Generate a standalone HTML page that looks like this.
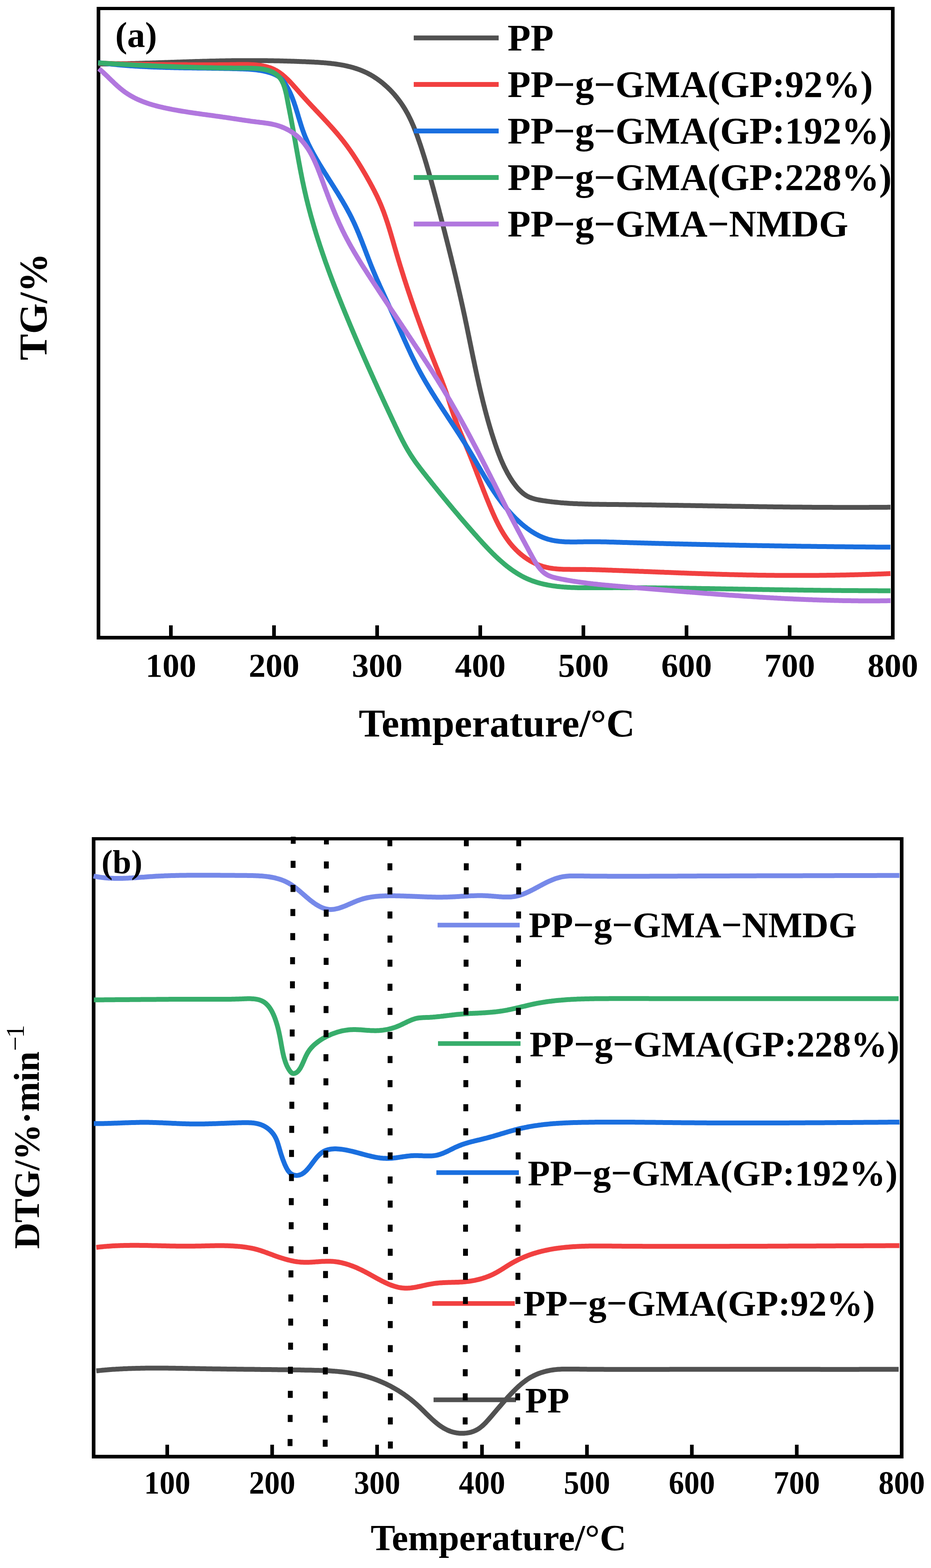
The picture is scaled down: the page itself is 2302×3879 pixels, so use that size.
<!DOCTYPE html>
<html><head><meta charset="utf-8"><title>TG and DTG curves</title>
<style>html,body{margin:0;padding:0;background:#fff;}svg{display:block;}</style></head><body>
<svg width="2302" height="3879" viewBox="0 0 2302 3879">
<rect x="0" y="0" width="2302" height="3879" fill="#fff"/>
<g id="chartA">
<rect x="239" y="17" width="1973" height="8" fill="#000"/>
<rect x="239" y="1573" width="1973" height="9" fill="#000"/>
<rect x="239" y="17" width="9" height="1565" fill="#000"/>
<rect x="2203" y="17" width="9" height="1565" fill="#000"/>
<path d="M243.2,158.3L246.2,158.3 249.2,158.3 252.1,158.3 255.1,158.3 258.1,158.3 261.1,158.2 264.1,158.2 267.1,158.2 270.1,158.1 273.0,158.1 276.0,158.1 279.0,158.0 282.0,158.0 285.0,157.9 288.0,157.9 291.0,157.8 294.0,157.8 297.0,157.7 300.0,157.7 303.0,157.6 306.0,157.5 309.0,157.5 312.0,157.4 315.0,157.4 318.0,157.3 321.0,157.2 324.0,157.1 327.0,157.1 330.0,157.0 333.0,156.9 336.0,156.8 339.0,156.8 342.0,156.7 345.0,156.6 348.0,156.5 351.0,156.4 354.0,156.3 357.1,156.2 360.1,156.1 363.1,156.1 366.1,156.0 369.1,155.9 372.1,155.8 375.1,155.7 378.1,155.6 381.1,155.5 384.1,155.4 387.2,155.3 390.2,155.2 393.2,155.1 396.2,155.0 399.2,154.9 402.2,154.8 405.2,154.7 408.2,154.6 411.3,154.5 414.3,154.4 417.3,154.3 420.3,154.2 423.3,154.1 426.3,154.0 429.3,153.9 432.4,153.8 435.4,153.7 438.4,153.6 441.4,153.5 444.4,153.4 447.4,153.3 450.4,153.2 453.4,153.1 456.5,153.0 459.5,152.9 462.5,152.8 465.5,152.7 468.5,152.6 471.5,152.5 474.5,152.4 477.5,152.3 480.5,152.2 483.6,152.1 486.6,152.0 489.6,152.0 492.6,151.9 495.6,151.8 498.6,151.7 501.6,151.6 504.6,151.5 507.6,151.5 510.6,151.4 513.6,151.3 516.6,151.2 519.6,151.1 522.7,151.1 525.7,151.0 528.7,150.9 531.7,150.9 534.7,150.8 537.7,150.7 540.7,150.7 543.7,150.6 546.7,150.5 549.7,150.5 552.7,150.4 555.7,150.4 558.6,150.3 561.6,150.3 564.6,150.2 567.6,150.2 570.6,150.2 573.6,150.1 576.6,150.1 579.6,150.1 582.6,150.0 585.6,150.0 588.6,150.0 591.6,149.9 594.5,149.9 597.5,149.9 600.5,149.9 603.5,149.9 606.5,149.9 609.5,149.9 612.5,149.9 615.5,149.9 618.4,149.9 621.4,149.9 624.4,149.9 627.4,149.9 630.4,149.9 633.4,149.9 636.4,149.9 639.4,149.9 642.4,149.9 645.3,150.0 648.3,150.0 651.3,150.0 654.3,150.1 657.3,150.1 660.3,150.1 663.3,150.2 666.3,150.2 669.3,150.3 672.3,150.3 675.3,150.3 678.3,150.4 681.3,150.5 684.3,150.5 687.3,150.6 690.3,150.6 693.3,150.7 696.3,150.8 699.3,150.8 702.3,150.9 705.3,151.0 708.3,151.1 711.3,151.2 714.3,151.3 717.3,151.3 720.4,151.4 723.4,151.5 726.4,151.6 729.4,151.7 732.4,151.8 735.5,151.9 738.5,152.0 741.5,152.2 744.5,152.3 747.6,152.4 750.6,152.5 753.6,152.6 756.7,152.8 759.7,152.9 762.8,153.0 765.8,153.2 768.9,153.3 771.9,153.4 775.0,153.6 778.0,153.8 781.1,153.9 784.1,154.1 787.1,154.3 790.2,154.5 793.2,154.7 796.3,154.9 799.3,155.1 802.4,155.4 805.4,155.6 808.4,155.9 811.4,156.2 814.5,156.5 817.5,156.8 820.5,157.2 823.5,157.5 826.5,157.9 829.5,158.3 832.5,158.7 835.5,159.2 838.4,159.6 841.4,160.1 844.3,160.6 847.3,161.2 850.2,161.7 853.1,162.3 856.1,163.0 859.0,163.6 861.9,164.3 864.7,165.0 867.6,165.7 870.5,166.5 873.3,167.3 876.1,168.2 879.0,169.0 881.8,170.0 884.6,170.9 887.3,171.9 890.1,172.9 892.8,174.0 895.6,175.1 898.3,176.2 901.0,177.4 903.6,178.6 906.3,179.9 909.0,181.2 911.6,182.6 914.2,184.0 916.8,185.4 919.3,186.9 921.9,188.4 924.4,190.0 926.9,191.6 929.4,193.2 931.9,194.9 934.3,196.6 936.7,198.3 939.2,200.1 941.5,201.9 943.9,203.8 946.2,205.7 948.5,207.6 950.8,209.6 953.1,211.6 955.3,213.6 957.6,215.6 959.7,217.7 961.9,219.8 964.1,221.9 966.2,224.1 968.3,226.3 970.3,228.5 972.4,230.8 974.4,233.0 976.4,235.3 978.3,237.7 980.3,240.0 982.2,242.4 984.0,244.8 985.9,247.2 987.7,249.6 989.5,252.0 991.3,254.5 993.0,257.0 994.7,259.5 996.3,262.0 998.0,264.6 999.6,267.2 1001.2,269.7 1002.7,272.3 1004.2,274.9 1005.7,277.6 1007.2,280.2 1008.6,282.8 1010.0,285.5 1011.3,288.2 1012.7,290.9 1014.0,293.6 1015.3,296.3 1016.6,299.0 1017.8,301.7 1019.0,304.5 1020.2,307.2 1021.4,310.0 1022.6,312.7 1023.7,315.5 1024.8,318.3 1025.9,321.1 1027.0,323.9 1028.1,326.7 1029.1,329.5 1030.2,332.3 1031.2,335.1 1032.2,338.0 1033.3,340.8 1034.2,343.6 1035.2,346.5 1036.2,349.3 1037.2,352.2 1038.1,355.0 1039.1,357.8 1040.1,360.7 1041.0,363.5 1041.9,366.4 1042.9,369.3 1043.8,372.1 1044.7,375.0 1045.6,377.8 1046.5,380.7 1047.4,383.5 1048.3,386.4 1049.2,389.3 1050.1,392.1 1051.0,395.0 1051.8,397.9 1052.7,400.8 1053.6,403.6 1054.4,406.5 1055.3,409.4 1056.1,412.3 1056.9,415.1 1057.8,418.0 1058.6,420.9 1059.5,423.8 1060.3,426.7 1061.1,429.6 1061.9,432.4 1062.7,435.3 1063.5,438.2 1064.3,441.1 1065.2,444.0 1066.0,446.9 1066.8,449.8 1067.5,452.7 1068.3,455.6 1069.1,458.5 1069.9,461.4 1070.7,464.3 1071.5,467.2 1072.3,470.1 1073.0,473.0 1073.8,475.9 1074.6,478.8 1075.4,481.7 1076.1,484.6 1076.9,487.5 1077.7,490.4 1078.4,493.3 1079.2,496.2 1080.0,499.1 1080.7,502.0 1081.5,504.9 1082.3,507.8 1083.0,510.7 1083.8,513.6 1084.6,516.5 1085.3,519.4 1086.1,522.3 1086.8,525.2 1087.6,528.2 1088.4,531.1 1089.1,534.0 1089.9,536.9 1090.6,539.8 1091.4,542.7 1092.2,545.6 1092.9,548.5 1093.7,551.4 1094.4,554.3 1095.2,557.3 1095.9,560.2 1096.7,563.1 1097.4,566.0 1098.2,568.9 1098.9,571.8 1099.7,574.7 1100.4,577.6 1101.1,580.6 1101.9,583.5 1102.6,586.4 1103.4,589.3 1104.1,592.2 1104.8,595.1 1105.6,598.0 1106.3,601.0 1107.1,603.9 1107.8,606.8 1108.5,609.7 1109.3,612.6 1110.0,615.6 1110.7,618.5 1111.4,621.4 1112.2,624.3 1112.9,627.2 1113.6,630.1 1114.3,633.1 1115.1,636.0 1115.8,638.9 1116.5,641.8 1117.2,644.8 1117.9,647.7 1118.6,650.6 1119.3,653.5 1120.1,656.4 1120.8,659.4 1121.5,662.3 1122.2,665.2 1122.9,668.1 1123.6,671.1 1124.3,674.0 1125.0,676.9 1125.7,679.8 1126.4,682.8 1127.1,685.7 1127.8,688.6 1128.4,691.5 1129.1,694.5 1129.8,697.4 1130.5,700.3 1131.2,703.2 1131.9,706.2 1132.5,709.1 1133.2,712.0 1133.9,715.0 1134.6,717.9 1135.2,720.8 1135.9,723.7 1136.6,726.7 1137.2,729.6 1137.9,732.5 1138.6,735.5 1139.2,738.4 1139.9,741.3 1140.5,744.3 1141.2,747.2 1141.8,750.1 1142.5,753.1 1143.1,756.0 1143.8,758.9 1144.4,761.9 1145.1,764.8 1145.7,767.7 1146.3,770.7 1147.0,773.6 1147.6,776.5 1148.2,779.5 1148.9,782.4 1149.5,785.3 1150.1,788.3 1150.7,791.2 1151.3,794.1 1151.9,797.1 1152.6,800.0 1153.2,803.0 1153.8,805.9 1154.4,808.8 1155.0,811.8 1155.6,814.7 1156.2,817.6 1156.8,820.6 1157.4,823.5 1158.0,826.5 1158.6,829.4 1159.2,832.3 1159.8,835.3 1160.4,838.2 1161.0,841.1 1161.6,844.1 1162.2,847.0 1162.8,850.0 1163.4,852.9 1164.0,855.8 1164.6,858.8 1165.2,861.7 1165.8,864.7 1166.4,867.6 1167.0,870.5 1167.6,873.5 1168.2,876.4 1168.8,879.3 1169.4,882.3 1170.0,885.2 1170.6,888.1 1171.3,891.1 1171.9,894.0 1172.5,897.0 1173.1,899.9 1173.7,902.8 1174.3,905.8 1174.9,908.7 1175.6,911.6 1176.2,914.6 1176.8,917.5 1177.4,920.4 1178.1,923.4 1178.7,926.3 1179.3,929.2 1180.0,932.2 1180.6,935.1 1181.3,938.0 1181.9,940.9 1182.6,943.9 1183.2,946.8 1183.9,949.7 1184.5,952.7 1185.2,955.6 1185.9,958.5 1186.5,961.4 1187.2,964.4 1187.9,967.3 1188.6,970.2 1189.3,973.1 1190.0,976.1 1190.7,979.0 1191.4,981.9 1192.1,984.8 1192.8,987.7 1193.5,990.7 1194.2,993.6 1195.0,996.5 1195.7,999.4 1196.4,1002.3 1197.2,1005.2 1197.9,1008.2 1198.7,1011.1 1199.4,1014.0 1200.2,1016.9 1201.0,1019.8 1201.7,1022.7 1202.5,1025.6 1203.3,1028.5 1204.1,1031.4 1204.9,1034.4 1205.7,1037.3 1206.5,1040.2 1207.3,1043.1 1208.2,1046.0 1209.0,1048.9 1209.8,1051.8 1210.7,1054.7 1211.5,1057.6 1212.4,1060.5 1213.3,1063.4 1214.2,1066.3 1215.0,1069.2 1215.9,1072.1 1216.8,1074.9 1217.7,1077.8 1218.7,1080.7 1219.6,1083.6 1220.5,1086.5 1221.5,1089.4 1222.4,1092.3 1223.4,1095.2 1224.3,1098.0 1225.3,1100.9 1226.3,1103.8 1227.3,1106.7 1228.3,1109.5 1229.3,1112.4 1230.4,1115.2 1231.4,1118.1 1232.5,1120.9 1233.6,1123.8 1234.7,1126.6 1235.8,1129.4 1236.9,1132.2 1238.0,1135.0 1239.2,1137.8 1240.4,1140.6 1241.6,1143.4 1242.8,1146.2 1244.1,1148.9 1245.3,1151.6 1246.6,1154.4 1247.9,1157.1 1249.3,1159.8 1250.6,1162.4 1252.0,1165.1 1253.4,1167.7 1254.8,1170.4 1256.3,1173.0 1257.8,1175.6 1259.3,1178.2 1260.8,1180.7 1262.4,1183.3 1264.0,1185.8 1265.6,1188.3 1267.3,1190.8 1269.0,1193.2 1270.7,1195.6 1272.5,1198.0 1274.3,1200.4 1276.1,1202.8 1278.0,1205.1 1279.9,1207.3 1281.8,1209.5 1283.8,1211.6 1285.9,1213.7 1288.0,1215.7 1290.1,1217.7 1292.3,1219.5 1294.5,1221.3 1296.8,1223.0 1299.1,1224.6 1301.5,1226.1 1303.9,1227.5 1306.5,1228.8 1309.0,1229.9 1311.6,1231.0 1314.3,1232.0 1317.0,1232.9 1319.7,1233.8 1322.5,1234.5 1325.3,1235.2 1328.2,1235.9 1331.0,1236.5 1333.9,1237.0 1336.8,1237.5 1339.7,1238.0 1342.7,1238.5 1345.6,1238.9 1348.5,1239.3 1351.5,1239.7 1354.4,1240.1 1357.3,1240.5 1360.3,1240.9 1363.2,1241.2 1366.2,1241.6 1369.1,1241.9 1372.1,1242.2 1375.0,1242.5 1378.0,1242.8 1381.0,1243.1 1383.9,1243.4 1386.9,1243.7 1389.9,1243.9 1392.9,1244.1 1395.8,1244.4 1398.8,1244.6 1401.8,1244.8 1404.8,1245.0 1407.8,1245.2 1410.8,1245.4 1413.8,1245.5 1416.7,1245.7 1419.7,1245.9 1422.7,1246.0 1425.7,1246.1 1428.7,1246.3 1431.7,1246.4 1434.7,1246.5 1437.7,1246.6 1440.8,1246.7 1443.8,1246.8 1446.8,1246.9 1449.8,1247.0 1452.8,1247.1 1455.8,1247.2 1458.8,1247.2 1461.8,1247.3 1464.8,1247.4 1467.9,1247.4 1470.9,1247.5 1473.9,1247.5 1476.9,1247.6 1479.9,1247.6 1483.0,1247.7 1486.0,1247.7 1489.0,1247.7 1492.0,1247.8 1495.0,1247.8 1498.1,1247.8 1501.1,1247.9 1504.1,1247.9 1507.1,1247.9 1510.1,1248.0 1513.2,1248.0 1516.2,1248.0 1519.2,1248.0 1522.2,1248.1 1525.3,1248.1 1528.3,1248.1 1531.3,1248.2 1534.3,1248.2 1537.3,1248.2 1540.3,1248.3 1543.4,1248.3 1546.4,1248.3 1549.4,1248.4 1552.4,1248.4 1555.4,1248.4 1558.4,1248.5 1561.5,1248.5 1564.5,1248.5 1567.5,1248.6 1570.5,1248.6 1573.5,1248.7 1576.5,1248.7 1579.6,1248.7 1582.6,1248.8 1585.6,1248.8 1588.6,1248.9 1591.6,1248.9 1594.6,1248.9 1597.6,1249.0 1600.6,1249.0 1603.7,1249.1 1606.7,1249.1 1609.7,1249.1 1612.7,1249.2 1615.7,1249.2 1618.7,1249.3 1621.7,1249.3 1624.7,1249.4 1627.7,1249.4 1630.8,1249.4 1633.8,1249.5 1636.8,1249.5 1639.8,1249.6 1642.8,1249.6 1645.8,1249.7 1648.8,1249.7 1651.8,1249.8 1654.8,1249.8 1657.8,1249.9 1660.8,1249.9 1663.9,1250.0 1666.9,1250.0 1669.9,1250.0 1672.9,1250.1 1675.9,1250.1 1678.9,1250.2 1681.9,1250.2 1684.9,1250.3 1687.9,1250.3 1690.9,1250.4 1693.9,1250.4 1696.9,1250.5 1699.9,1250.5 1702.9,1250.6 1705.9,1250.6 1708.9,1250.7 1712.0,1250.7 1715.0,1250.8 1718.0,1250.8 1721.0,1250.9 1724.0,1250.9 1727.0,1251.0 1730.0,1251.0 1733.0,1251.1 1736.0,1251.1 1739.0,1251.2 1742.0,1251.2 1745.0,1251.3 1748.0,1251.3 1751.0,1251.4 1754.0,1251.4 1757.0,1251.5 1760.0,1251.5 1763.0,1251.6 1766.0,1251.6 1769.0,1251.7 1772.0,1251.7 1775.0,1251.8 1778.0,1251.8 1781.0,1251.9 1784.0,1251.9 1787.0,1252.0 1790.0,1252.0 1793.0,1252.1 1796.0,1252.1 1799.0,1252.2 1802.0,1252.2 1805.0,1252.3 1808.1,1252.3 1811.1,1252.4 1814.1,1252.4 1817.1,1252.4 1820.1,1252.5 1823.1,1252.5 1826.1,1252.6 1829.1,1252.6 1832.1,1252.7 1835.1,1252.7 1838.1,1252.8 1841.1,1252.8 1844.1,1252.9 1847.1,1252.9 1850.1,1253.0 1853.1,1253.0 1856.1,1253.1 1859.1,1253.1 1862.1,1253.1 1865.1,1253.2 1868.1,1253.2 1871.1,1253.3 1874.1,1253.3 1877.1,1253.4 1880.1,1253.4 1883.1,1253.4 1886.1,1253.5 1889.1,1253.5 1892.1,1253.6 1895.1,1253.6 1898.1,1253.7 1901.1,1253.7 1904.1,1253.7 1907.1,1253.8 1910.1,1253.8 1913.1,1253.9 1916.1,1253.9 1919.1,1253.9 1922.1,1254.0 1925.1,1254.0 1928.1,1254.0 1931.1,1254.1 1934.1,1254.1 1937.1,1254.2 1940.1,1254.2 1943.1,1254.2 1946.1,1254.3 1949.1,1254.3 1952.1,1254.3 1955.1,1254.4 1958.1,1254.4 1961.1,1254.4 1964.1,1254.5 1967.1,1254.5 1970.1,1254.5 1973.1,1254.5 1976.1,1254.6 1979.2,1254.6 1982.2,1254.6 1985.2,1254.7 1988.2,1254.7 1991.2,1254.7 1994.2,1254.7 1997.2,1254.8 2000.2,1254.8 2003.2,1254.8 2006.2,1254.8 2009.2,1254.9 2012.2,1254.9 2015.2,1254.9 2018.2,1254.9 2021.2,1254.9 2024.2,1255.0 2027.2,1255.0 2030.2,1255.0 2033.2,1255.0 2036.2,1255.0 2039.2,1255.1 2042.3,1255.1 2045.3,1255.1 2048.3,1255.1 2051.3,1255.1 2054.3,1255.1 2057.3,1255.1 2060.3,1255.2 2063.3,1255.2 2066.3,1255.2 2069.3,1255.2 2072.3,1255.2 2075.3,1255.2 2078.3,1255.2 2081.4,1255.2 2084.4,1255.2 2087.4,1255.2 2090.4,1255.2 2093.4,1255.2 2096.4,1255.2 2099.4,1255.2 2102.4,1255.2 2105.4,1255.2 2108.4,1255.2 2111.5,1255.2 2114.5,1255.2 2117.5,1255.2 2120.5,1255.2 2123.5,1255.2 2126.5,1255.2 2129.5,1255.2 2132.5,1255.2 2135.6,1255.2 2138.6,1255.2 2141.6,1255.2 2144.6,1255.2 2147.6,1255.2 2150.6,1255.1 2153.6,1255.1 2156.7,1255.1 2159.7,1255.1 2162.7,1255.1 2165.7,1255.1 2168.7,1255.0 2171.7,1255.0 2174.7,1255.0 2177.8,1255.0 2180.8,1255.0 2183.8,1254.9 2186.8,1254.9 2189.8,1254.9 2192.9,1254.9 2195.9,1254.8 2198.9,1254.8 2201.9,1254.8" fill="none" stroke="#515151" stroke-width="12" stroke-linejoin="round" stroke-linecap="butt"/>
<path d="M243.2,156.0L246.1,156.1 249.1,156.2 252.1,156.3 255.0,156.4 258.0,156.5 261.0,156.6 263.9,156.7 266.9,156.8 269.9,156.9 272.9,157.0 275.9,157.1 278.9,157.2 281.8,157.3 284.8,157.4 287.8,157.5 290.8,157.6 293.8,157.6 296.9,157.7 299.9,157.8 302.9,157.9 305.9,158.0 308.9,158.0 311.9,158.1 314.9,158.2 317.9,158.2 321.0,158.3 324.0,158.4 327.0,158.4 330.0,158.5 333.1,158.6 336.1,158.6 339.1,158.7 342.1,158.7 345.2,158.8 348.2,158.8 351.2,158.9 354.2,158.9 357.3,159.0 360.3,159.0 363.3,159.1 366.3,159.1 369.4,159.2 372.4,159.2 375.4,159.3 378.4,159.3 381.5,159.4 384.5,159.4 387.5,159.4 390.5,159.5 393.5,159.5 396.5,159.5 399.6,159.6 402.6,159.6 405.6,159.6 408.6,159.7 411.6,159.7 414.6,159.7 417.6,159.8 420.6,159.8 423.6,159.8 426.6,159.9 429.6,159.9 432.6,159.9 435.5,159.9 438.5,160.0 441.5,160.0 444.5,160.0 447.5,160.0 450.4,160.1 453.4,160.1 456.4,160.1 459.4,160.1 462.3,160.1 465.3,160.2 468.3,160.2 471.2,160.2 474.2,160.2 477.2,160.2 480.2,160.2 483.1,160.2 486.1,160.2 489.1,160.2 492.0,160.3 495.0,160.3 498.0,160.3 501.0,160.3 504.0,160.3 506.9,160.3 509.9,160.3 512.9,160.3 515.9,160.2 518.9,160.2 521.9,160.2 524.9,160.2 527.9,160.2 530.9,160.2 533.9,160.2 536.9,160.2 539.9,160.1 542.9,160.1 546.0,160.1 549.0,160.1 552.0,160.0 555.1,160.0 558.1,160.0 561.2,160.0 564.2,159.9 567.3,159.9 570.4,159.8 573.4,159.8 576.5,159.8 579.6,159.7 582.7,159.7 585.8,159.6 588.9,159.6 592.0,159.5 595.1,159.5 598.2,159.5 601.3,159.4 604.5,159.4 607.6,159.5 610.6,159.5 613.7,159.6 616.8,159.7 619.9,159.8 622.9,159.9 626.0,160.1 629.0,160.3 632.0,160.5 635.0,160.8 638.0,161.1 641.0,161.5 643.9,161.9 646.9,162.4 649.8,162.9 652.6,163.5 655.5,164.1 658.3,164.8 661.1,165.5 663.9,166.4 666.6,167.2 669.3,168.2 671.9,169.2 674.6,170.3 677.2,171.5 679.7,172.7 682.2,174.0 684.7,175.5 687.1,176.9 689.5,178.5 691.9,180.1 694.2,181.8 696.5,183.5 698.8,185.3 701.0,187.2 703.3,189.1 705.5,191.1 707.6,193.1 709.8,195.1 711.9,197.2 714.1,199.3 716.2,201.5 718.3,203.7 720.3,205.9 722.4,208.1 724.4,210.4 726.5,212.7 728.5,215.0 730.6,217.3 732.6,219.6 734.6,221.9 736.7,224.2 738.7,226.6 740.7,228.9 742.7,231.2 744.8,233.5 746.8,235.8 748.9,238.1 750.9,240.4 753.0,242.6 755.1,244.9 757.1,247.2 759.2,249.4 761.3,251.7 763.3,253.9 765.4,256.1 767.5,258.4 769.6,260.6 771.6,262.8 773.7,265.0 775.8,267.2 777.9,269.4 779.9,271.6 782.0,273.8 784.1,276.0 786.2,278.2 788.2,280.4 790.3,282.6 792.4,284.8 794.4,287.0 796.5,289.2 798.5,291.4 800.6,293.6 802.6,295.8 804.7,298.0 806.7,300.2 808.8,302.4 810.8,304.6 812.8,306.8 814.8,309.0 816.8,311.2 818.8,313.4 820.8,315.7 822.8,317.9 824.8,320.1 826.7,322.4 828.7,324.6 830.6,326.9 832.6,329.1 834.5,331.4 836.4,333.7 838.3,336.0 840.2,338.3 842.1,340.6 844.0,342.9 845.8,345.2 847.7,347.5 849.5,349.9 851.3,352.2 853.1,354.6 854.9,356.9 856.7,359.3 858.5,361.7 860.2,364.1 861.9,366.5 863.7,369.0 865.4,371.4 867.1,373.8 868.8,376.3 870.5,378.7 872.2,381.2 873.8,383.7 875.5,386.2 877.1,388.7 878.7,391.2 880.4,393.7 882.0,396.2 883.6,398.7 885.2,401.3 886.8,403.8 888.3,406.3 889.9,408.9 891.5,411.4 893.0,414.0 894.6,416.6 896.1,419.2 897.6,421.7 899.1,424.3 900.7,426.9 902.2,429.5 903.7,432.1 905.2,434.7 906.7,437.3 908.2,440.0 909.6,442.6 911.1,445.2 912.6,447.8 914.0,450.5 915.5,453.1 916.9,455.8 918.4,458.4 919.8,461.1 921.2,463.7 922.6,466.4 924.0,469.0 925.4,471.7 926.7,474.4 928.1,477.1 929.4,479.8 930.8,482.5 932.1,485.2 933.4,487.9 934.6,490.6 935.9,493.4 937.1,496.1 938.3,498.8 939.5,501.6 940.7,504.3 941.9,507.1 943.0,509.9 944.1,512.6 945.2,515.4 946.3,518.2 947.4,521.0 948.5,523.8 949.5,526.6 950.5,529.4 951.5,532.3 952.5,535.1 953.5,537.9 954.5,540.8 955.4,543.6 956.4,546.4 957.3,549.3 958.3,552.1 959.2,555.0 960.1,557.8 961.0,560.7 961.9,563.6 962.8,566.4 963.6,569.3 964.5,572.2 965.4,575.1 966.2,577.9 967.1,580.8 967.9,583.7 968.8,586.6 969.6,589.5 970.4,592.4 971.3,595.2 972.1,598.1 972.9,601.0 973.8,603.9 974.6,606.8 975.4,609.7 976.3,612.6 977.1,615.5 977.9,618.4 978.8,621.2 979.6,624.1 980.5,627.0 981.3,629.9 982.2,632.8 983.0,635.7 983.9,638.5 984.7,641.4 985.6,644.3 986.5,647.2 987.4,650.0 988.2,652.9 989.1,655.8 990.0,658.7 990.9,661.5 991.8,664.4 992.7,667.3 993.6,670.1 994.5,673.0 995.4,675.9 996.3,678.7 997.2,681.6 998.1,684.5 999.0,687.3 999.9,690.2 1000.8,693.1 1001.8,695.9 1002.7,698.8 1003.6,701.6 1004.6,704.5 1005.5,707.3 1006.4,710.2 1007.4,713.0 1008.3,715.9 1009.3,718.7 1010.2,721.6 1011.2,724.4 1012.1,727.3 1013.1,730.1 1014.1,733.0 1015.0,735.8 1016.0,738.7 1017.0,741.5 1017.9,744.4 1018.9,747.2 1019.9,750.0 1020.9,752.9 1021.9,755.7 1022.8,758.6 1023.8,761.4 1024.8,764.2 1025.8,767.1 1026.8,769.9 1027.8,772.7 1028.8,775.6 1029.8,778.4 1030.8,781.2 1031.9,784.0 1032.9,786.9 1033.9,789.7 1034.9,792.5 1035.9,795.3 1037.0,798.2 1038.0,801.0 1039.0,803.8 1040.0,806.6 1041.1,809.5 1042.1,812.3 1043.2,815.1 1044.2,817.9 1045.2,820.7 1046.3,823.5 1047.3,826.4 1048.4,829.2 1049.4,832.0 1050.5,834.8 1051.6,837.6 1052.6,840.4 1053.7,843.2 1054.7,846.0 1055.8,848.8 1056.9,851.6 1058.0,854.5 1059.0,857.3 1060.1,860.1 1061.2,862.9 1062.3,865.7 1063.3,868.5 1064.4,871.3 1065.5,874.1 1066.6,876.9 1067.7,879.7 1068.8,882.5 1069.9,885.3 1071.0,888.1 1072.1,890.8 1073.2,893.6 1074.3,896.4 1075.4,899.2 1076.5,902.0 1077.6,904.8 1078.7,907.6 1079.8,910.4 1081.0,913.2 1082.1,916.0 1083.2,918.7 1084.3,921.5 1085.4,924.3 1086.5,927.1 1087.7,929.9 1088.8,932.7 1089.9,935.5 1091.0,938.3 1092.1,941.0 1093.2,943.8 1094.2,946.6 1095.3,949.4 1096.4,952.2 1097.4,955.0 1098.5,957.8 1099.5,960.6 1100.6,963.4 1101.6,966.2 1102.6,969.0 1103.6,971.9 1104.5,974.7 1105.5,977.5 1106.5,980.3 1107.4,983.2 1108.3,986.0 1109.3,988.8 1110.2,991.6 1111.1,994.5 1112.0,997.3 1112.9,1000.2 1113.8,1003.0 1114.7,1005.8 1115.7,1008.7 1116.6,1011.5 1117.5,1014.3 1118.4,1017.2 1119.4,1020.0 1120.4,1022.8 1121.3,1025.6 1122.3,1028.5 1123.3,1031.3 1124.3,1034.1 1125.4,1036.9 1126.4,1039.7 1127.5,1042.5 1128.5,1045.3 1129.6,1048.1 1130.7,1050.9 1131.8,1053.7 1133.0,1056.5 1134.1,1059.3 1135.2,1062.1 1136.4,1064.9 1137.5,1067.7 1138.7,1070.5 1139.9,1073.3 1141.0,1076.1 1142.2,1078.8 1143.4,1081.6 1144.6,1084.4 1145.7,1087.2 1146.9,1090.0 1148.1,1092.8 1149.3,1095.5 1150.5,1098.3 1151.6,1101.1 1152.8,1103.9 1154.0,1106.7 1155.1,1109.4 1156.3,1112.2 1157.4,1115.0 1158.6,1117.8 1159.7,1120.6 1160.8,1123.3 1161.9,1126.1 1163.1,1128.9 1164.2,1131.7 1165.3,1134.5 1166.4,1137.3 1167.5,1140.0 1168.6,1142.8 1169.7,1145.6 1170.7,1148.4 1171.8,1151.2 1172.9,1154.0 1174.0,1156.8 1175.1,1159.5 1176.1,1162.3 1177.2,1165.1 1178.3,1167.9 1179.3,1170.7 1180.4,1173.5 1181.5,1176.3 1182.5,1179.0 1183.6,1181.8 1184.7,1184.6 1185.8,1187.4 1186.8,1190.2 1187.9,1193.0 1189.0,1195.8 1190.0,1198.6 1191.1,1201.3 1192.2,1204.1 1193.3,1206.9 1194.3,1209.7 1195.4,1212.5 1196.5,1215.3 1197.6,1218.1 1198.7,1220.8 1199.8,1223.6 1200.9,1226.4 1202.0,1229.2 1203.1,1232.0 1204.3,1234.8 1205.4,1237.6 1206.5,1240.3 1207.7,1243.1 1208.8,1245.9 1209.9,1248.7 1211.1,1251.5 1212.3,1254.2 1213.4,1257.0 1214.6,1259.8 1215.8,1262.6 1217.0,1265.3 1218.2,1268.1 1219.4,1270.9 1220.7,1273.6 1221.9,1276.4 1223.2,1279.2 1224.4,1281.9 1225.7,1284.6 1227.0,1287.4 1228.3,1290.1 1229.7,1292.8 1231.0,1295.5 1232.4,1298.2 1233.8,1300.8 1235.2,1303.5 1236.6,1306.1 1238.1,1308.8 1239.6,1311.4 1241.1,1314.0 1242.6,1316.6 1244.1,1319.1 1245.7,1321.7 1247.3,1324.2 1249.0,1326.7 1250.6,1329.2 1252.3,1331.7 1254.0,1334.1 1255.8,1336.5 1257.5,1338.9 1259.3,1341.3 1261.2,1343.7 1263.1,1346.0 1265.0,1348.3 1266.9,1350.6 1268.9,1352.8 1270.9,1355.0 1273.0,1357.2 1275.0,1359.3 1277.2,1361.5 1279.3,1363.5 1281.5,1365.6 1283.8,1367.6 1286.0,1369.6 1288.3,1371.5 1290.6,1373.4 1293.0,1375.3 1295.4,1377.1 1297.8,1378.9 1300.3,1380.6 1302.7,1382.3 1305.2,1383.9 1307.8,1385.5 1310.3,1387.1 1312.9,1388.6 1315.5,1390.0 1318.2,1391.4 1320.8,1392.7 1323.5,1394.0 1326.2,1395.3 1328.9,1396.4 1331.7,1397.5 1334.5,1398.6 1337.2,1399.6 1340.1,1400.5 1342.9,1401.4 1345.7,1402.2 1348.6,1402.9 1351.5,1403.6 1354.4,1404.2 1357.3,1404.8 1360.2,1405.3 1363.1,1405.8 1366.1,1406.2 1369.0,1406.6 1372.0,1406.9 1375.0,1407.2 1378.0,1407.5 1381.0,1407.7 1384.0,1407.9 1387.0,1408.1 1390.0,1408.2 1393.0,1408.4 1396.1,1408.5 1399.1,1408.5 1402.2,1408.6 1405.2,1408.6 1408.2,1408.6 1411.3,1408.7 1414.3,1408.7 1417.4,1408.7 1420.4,1408.7 1423.5,1408.7 1426.5,1408.7 1429.6,1408.7 1432.6,1408.7 1435.7,1408.7 1438.7,1408.7 1441.7,1408.7 1444.7,1408.8 1447.8,1408.8 1450.8,1408.9 1453.8,1408.9 1456.8,1409.0 1459.8,1409.0 1462.8,1409.1 1465.8,1409.2 1468.8,1409.3 1471.8,1409.3 1474.8,1409.4 1477.8,1409.5 1480.8,1409.6 1483.8,1409.7 1486.8,1409.8 1489.8,1409.9 1492.8,1410.0 1495.8,1410.1 1498.8,1410.2 1501.8,1410.3 1504.8,1410.4 1507.8,1410.5 1510.8,1410.6 1513.8,1410.7 1516.8,1410.9 1519.8,1411.0 1522.8,1411.1 1525.8,1411.2 1528.8,1411.3 1531.8,1411.4 1534.8,1411.5 1537.8,1411.6 1540.8,1411.7 1543.8,1411.9 1546.7,1412.0 1549.7,1412.1 1552.7,1412.2 1555.7,1412.3 1558.7,1412.4 1561.7,1412.6 1564.7,1412.7 1567.7,1412.8 1570.7,1412.9 1573.7,1413.0 1576.7,1413.1 1579.7,1413.3 1582.7,1413.4 1585.7,1413.5 1588.7,1413.6 1591.7,1413.7 1594.7,1413.9 1597.7,1414.0 1600.7,1414.1 1603.7,1414.2 1606.7,1414.3 1609.7,1414.4 1612.7,1414.6 1615.7,1414.7 1618.8,1414.8 1621.8,1414.9 1624.8,1415.0 1627.8,1415.2 1630.8,1415.3 1633.8,1415.4 1636.8,1415.5 1639.8,1415.6 1642.8,1415.8 1645.8,1415.9 1648.8,1416.0 1651.8,1416.1 1654.8,1416.2 1657.8,1416.3 1660.8,1416.5 1663.8,1416.6 1666.8,1416.7 1669.8,1416.8 1672.8,1416.9 1675.8,1417.0 1678.8,1417.2 1681.8,1417.3 1684.8,1417.4 1687.8,1417.5 1690.8,1417.6 1693.8,1417.7 1696.8,1417.8 1699.9,1417.9 1702.9,1418.1 1705.9,1418.2 1708.9,1418.3 1711.9,1418.4 1714.9,1418.5 1717.9,1418.6 1720.9,1418.7 1723.9,1418.8 1726.9,1418.9 1729.9,1419.0 1732.9,1419.1 1735.9,1419.2 1738.9,1419.3 1741.9,1419.4 1744.9,1419.5 1747.9,1419.6 1751.0,1419.7 1754.0,1419.8 1757.0,1419.9 1760.0,1420.0 1763.0,1420.1 1766.0,1420.2 1769.0,1420.3 1772.0,1420.4 1775.0,1420.5 1778.0,1420.6 1781.0,1420.7 1784.0,1420.8 1787.0,1420.9 1790.0,1420.9 1793.0,1421.0 1796.0,1421.1 1799.1,1421.2 1802.1,1421.3 1805.1,1421.4 1808.1,1421.4 1811.1,1421.5 1814.1,1421.6 1817.1,1421.7 1820.1,1421.7 1823.1,1421.8 1826.1,1421.9 1829.1,1422.0 1832.1,1422.0 1835.1,1422.1 1838.1,1422.2 1841.1,1422.2 1844.1,1422.3 1847.1,1422.4 1850.2,1422.4 1853.2,1422.5 1856.2,1422.5 1859.2,1422.6 1862.2,1422.6 1865.2,1422.7 1868.2,1422.8 1871.2,1422.8 1874.2,1422.9 1877.2,1422.9 1880.2,1422.9 1883.2,1423.0 1886.2,1423.0 1889.2,1423.1 1892.2,1423.1 1895.2,1423.2 1898.2,1423.2 1901.2,1423.2 1904.2,1423.3 1907.2,1423.3 1910.2,1423.3 1913.3,1423.3 1916.3,1423.4 1919.3,1423.4 1922.3,1423.4 1925.3,1423.5 1928.3,1423.5 1931.3,1423.5 1934.3,1423.5 1937.3,1423.5 1940.3,1423.5 1943.3,1423.6 1946.3,1423.6 1949.3,1423.6 1952.3,1423.6 1955.3,1423.6 1958.3,1423.6 1961.3,1423.6 1964.3,1423.6 1967.3,1423.6 1970.3,1423.6 1973.3,1423.6 1976.3,1423.6 1979.3,1423.6 1982.3,1423.6 1985.3,1423.6 1988.4,1423.6 1991.4,1423.6 1994.4,1423.6 1997.4,1423.6 2000.4,1423.5 2003.4,1423.5 2006.4,1423.5 2009.4,1423.5 2012.4,1423.5 2015.4,1423.4 2018.4,1423.4 2021.4,1423.4 2024.4,1423.4 2027.4,1423.3 2030.4,1423.3 2033.4,1423.3 2036.4,1423.2 2039.4,1423.2 2042.4,1423.2 2045.4,1423.1 2048.4,1423.1 2051.4,1423.0 2054.4,1423.0 2057.4,1423.0 2060.5,1422.9 2063.5,1422.9 2066.5,1422.8 2069.5,1422.8 2072.5,1422.7 2075.5,1422.7 2078.5,1422.6 2081.5,1422.5 2084.5,1422.5 2087.5,1422.4 2090.5,1422.4 2093.5,1422.3 2096.5,1422.2 2099.5,1422.2 2102.5,1422.1 2105.5,1422.0 2108.5,1422.0 2111.5,1421.9 2114.5,1421.8 2117.5,1421.7 2120.6,1421.7 2123.6,1421.6 2126.6,1421.5 2129.6,1421.4 2132.6,1421.3 2135.6,1421.3 2138.6,1421.2 2141.6,1421.1 2144.6,1421.0 2147.6,1420.9 2150.6,1420.8 2153.6,1420.7 2156.6,1420.6 2159.6,1420.5 2162.6,1420.4 2165.6,1420.3 2168.6,1420.2 2171.7,1420.1 2174.7,1420.0 2177.7,1419.9 2180.7,1419.8 2183.7,1419.7 2186.7,1419.6 2189.7,1419.5 2192.7,1419.3 2195.7,1419.2 2198.7,1419.1 2201.7,1419.0" fill="none" stroke="#F14040" stroke-width="12" stroke-linejoin="round" stroke-linecap="butt"/>
<path d="M242.5,154.7L245.5,155.1 248.5,155.5 251.5,155.9 254.6,156.3 257.6,156.6 260.6,157.0 263.6,157.3 266.6,157.7 269.6,158.0 272.6,158.4 275.6,158.7 278.6,159.0 281.6,159.3 284.6,159.6 287.6,159.9 290.6,160.2 293.6,160.5 296.6,160.7 299.6,161.0 302.6,161.2 305.6,161.5 308.6,161.7 311.6,162.0 314.6,162.2 317.6,162.4 320.6,162.7 323.6,162.9 326.6,163.1 329.6,163.3 332.6,163.5 335.6,163.7 338.5,163.8 341.5,164.0 344.5,164.2 347.5,164.4 350.5,164.5 353.5,164.7 356.5,164.8 359.5,165.0 362.5,165.1 365.5,165.3 368.4,165.4 371.4,165.5 374.4,165.7 377.4,165.8 380.4,165.9 383.4,166.0 386.4,166.1 389.4,166.2 392.4,166.3 395.3,166.4 398.3,166.5 401.3,166.6 404.3,166.7 407.3,166.8 410.3,166.9 413.3,167.0 416.3,167.1 419.3,167.1 422.3,167.2 425.2,167.3 428.2,167.3 431.2,167.4 434.2,167.5 437.2,167.5 440.2,167.6 443.2,167.7 446.2,167.7 449.2,167.8 452.2,167.8 455.2,167.9 458.2,167.9 461.2,168.0 464.2,168.0 467.2,168.1 470.2,168.1 473.2,168.1 476.2,168.2 479.2,168.2 482.2,168.3 485.2,168.3 488.2,168.4 491.2,168.4 494.2,168.4 497.3,168.5 500.3,168.5 503.3,168.6 506.3,168.6 509.3,168.6 512.3,168.7 515.3,168.7 518.4,168.8 521.4,168.8 524.4,168.9 527.4,168.9 530.5,169.0 533.5,169.0 536.5,169.1 539.5,169.1 542.6,169.2 545.6,169.2 548.6,169.3 551.7,169.3 554.7,169.4 557.7,169.4 560.8,169.5 563.8,169.6 566.9,169.6 569.9,169.7 573.0,169.8 576.0,169.9 579.1,169.9 582.1,170.0 585.2,170.1 588.2,170.2 591.3,170.3 594.3,170.4 597.4,170.5 600.4,170.6 603.5,170.7 606.6,170.8 609.6,171.0 612.7,171.1 615.7,171.3 618.7,171.5 621.7,171.8 624.8,172.0 627.8,172.3 630.7,172.6 633.7,172.9 636.7,173.3 639.6,173.7 642.6,174.1 645.5,174.6 648.4,175.1 651.3,175.7 654.2,176.3 657.0,176.9 659.8,177.6 662.6,178.4 665.4,179.2 668.2,180.0 670.9,180.9 673.6,181.9 676.2,182.9 678.9,184.1 681.4,185.3 683.9,186.6 686.4,188.0 688.7,189.5 691.0,191.2 693.2,193.0 695.3,194.9 697.3,197.0 699.2,199.2 701.0,201.5 702.8,203.9 704.5,206.3 706.1,208.8 707.7,211.4 709.2,214.0 710.7,216.6 712.1,219.2 713.5,221.9 714.9,224.5 716.2,227.2 717.5,229.9 718.7,232.7 719.9,235.4 721.1,238.2 722.2,241.0 723.3,243.8 724.4,246.6 725.4,249.5 726.5,252.3 727.5,255.2 728.4,258.1 729.4,261.0 730.4,263.9 731.3,266.8 732.2,269.7 733.1,272.6 734.0,275.5 734.9,278.4 735.8,281.4 736.7,284.3 737.5,287.2 738.4,290.2 739.3,293.1 740.2,296.0 741.1,299.0 742.0,301.9 742.9,304.8 743.8,307.7 744.7,310.6 745.6,313.5 746.6,316.4 747.5,319.3 748.5,322.1 749.5,325.0 750.6,327.8 751.6,330.7 752.7,333.5 753.8,336.3 754.9,339.1 756.1,341.8 757.3,344.6 758.5,347.3 759.7,350.0 761.0,352.8 762.2,355.5 763.5,358.2 764.8,360.8 766.2,363.5 767.5,366.2 768.9,368.8 770.3,371.5 771.7,374.1 773.1,376.7 774.5,379.4 776.0,382.0 777.4,384.6 778.9,387.2 780.4,389.8 781.9,392.4 783.4,395.0 784.9,397.5 786.4,400.1 787.9,402.7 789.5,405.3 791.0,407.8 792.6,410.4 794.2,412.9 795.7,415.5 797.3,418.1 798.9,420.6 800.5,423.2 802.1,425.7 803.7,428.3 805.3,430.8 806.9,433.3 808.5,435.9 810.1,438.4 811.7,441.0 813.3,443.5 814.9,446.1 816.5,448.6 818.1,451.1 819.8,453.7 821.4,456.2 823.0,458.8 824.6,461.3 826.2,463.9 827.8,466.4 829.4,469.0 831.0,471.5 832.6,474.1 834.2,476.6 835.8,479.2 837.4,481.8 838.9,484.3 840.5,486.9 842.0,489.5 843.6,492.1 845.1,494.6 846.7,497.2 848.2,499.8 849.7,502.4 851.2,505.0 852.7,507.6 854.2,510.2 855.7,512.8 857.1,515.5 858.6,518.1 860.0,520.7 861.4,523.4 862.9,526.0 864.3,528.7 865.6,531.3 867.0,534.0 868.4,536.7 869.7,539.4 871.0,542.1 872.3,544.8 873.6,547.5 874.9,550.2 876.1,552.9 877.4,555.6 878.6,558.4 879.8,561.1 881.0,563.9 882.2,566.6 883.4,569.4 884.5,572.2 885.7,574.9 886.9,577.7 888.0,580.5 889.1,583.3 890.2,586.1 891.4,588.9 892.5,591.7 893.6,594.5 894.7,597.3 895.8,600.1 896.8,602.9 897.9,605.7 899.0,608.5 900.1,611.3 901.2,614.1 902.2,616.9 903.3,619.7 904.4,622.5 905.5,625.4 906.5,628.2 907.6,631.0 908.7,633.8 909.8,636.6 910.8,639.4 911.9,642.2 913.0,645.0 914.1,647.8 915.2,650.6 916.3,653.4 917.4,656.2 918.5,659.0 919.7,661.8 920.8,664.6 921.9,667.3 923.1,670.1 924.2,672.9 925.4,675.7 926.6,678.4 927.7,681.2 928.9,683.9 930.1,686.7 931.3,689.5 932.5,692.2 933.7,694.9 934.9,697.7 936.2,700.4 937.4,703.2 938.6,705.9 939.8,708.6 941.1,711.4 942.3,714.1 943.6,716.8 944.8,719.6 946.1,722.3 947.3,725.0 948.6,727.7 949.8,730.5 951.1,733.2 952.3,735.9 953.6,738.6 954.9,741.3 956.1,744.1 957.4,746.8 958.7,749.5 959.9,752.2 961.2,754.9 962.5,757.7 963.7,760.4 965.0,763.1 966.3,765.8 967.5,768.6 968.8,771.3 970.0,774.0 971.3,776.7 972.6,779.5 973.8,782.2 975.1,784.9 976.3,787.7 977.6,790.4 978.8,793.1 980.0,795.9 981.3,798.6 982.5,801.4 983.7,804.1 985.0,806.8 986.2,809.6 987.4,812.3 988.6,815.1 989.9,817.8 991.1,820.6 992.3,823.3 993.5,826.1 994.7,828.8 996.0,831.6 997.2,834.3 998.4,837.1 999.6,839.8 1000.9,842.6 1002.1,845.3 1003.3,848.0 1004.6,850.8 1005.8,853.5 1007.1,856.3 1008.3,859.0 1009.6,861.7 1010.8,864.5 1012.1,867.2 1013.4,869.9 1014.6,872.6 1015.9,875.3 1017.2,878.1 1018.5,880.8 1019.8,883.5 1021.1,886.2 1022.4,888.9 1023.7,891.6 1025.1,894.3 1026.4,896.9 1027.7,899.6 1029.1,902.3 1030.5,905.0 1031.8,907.6 1033.2,910.3 1034.6,912.9 1036.0,915.6 1037.5,918.2 1038.9,920.8 1040.3,923.5 1041.8,926.1 1043.2,928.7 1044.7,931.3 1046.2,933.9 1047.6,936.5 1049.1,939.1 1050.6,941.7 1052.1,944.3 1053.7,946.9 1055.2,949.5 1056.7,952.1 1058.3,954.6 1059.8,957.2 1061.3,959.8 1062.9,962.3 1064.5,964.9 1066.0,967.4 1067.6,970.0 1069.2,972.5 1070.8,975.1 1072.4,977.6 1074.0,980.2 1075.6,982.7 1077.2,985.2 1078.8,987.8 1080.4,990.3 1082.0,992.8 1083.7,995.3 1085.3,997.9 1086.9,1000.4 1088.5,1002.9 1090.2,1005.4 1091.8,1007.9 1093.5,1010.5 1095.1,1013.0 1096.7,1015.5 1098.4,1018.0 1100.0,1020.5 1101.7,1023.0 1103.3,1025.5 1105.0,1028.0 1106.6,1030.5 1108.3,1033.1 1109.9,1035.6 1111.6,1038.1 1113.2,1040.6 1114.9,1043.1 1116.5,1045.6 1118.2,1048.1 1119.8,1050.6 1121.5,1053.1 1123.1,1055.7 1124.8,1058.2 1126.4,1060.7 1128.1,1063.2 1129.7,1065.7 1131.3,1068.2 1133.0,1070.8 1134.6,1073.3 1136.2,1075.8 1137.8,1078.3 1139.5,1080.9 1141.1,1083.4 1142.7,1085.9 1144.3,1088.5 1145.9,1091.0 1147.5,1093.6 1149.1,1096.1 1150.7,1098.7 1152.2,1101.2 1153.8,1103.8 1155.4,1106.3 1156.9,1108.9 1158.5,1111.5 1160.0,1114.0 1161.6,1116.6 1163.1,1119.2 1164.7,1121.8 1166.2,1124.4 1167.7,1126.9 1169.2,1129.5 1170.7,1132.1 1172.2,1134.7 1173.8,1137.3 1175.3,1139.9 1176.8,1142.5 1178.3,1145.1 1179.8,1147.7 1181.3,1150.3 1182.8,1152.9 1184.3,1155.5 1185.8,1158.1 1187.3,1160.7 1188.8,1163.3 1190.3,1165.9 1191.8,1168.4 1193.4,1171.0 1194.9,1173.6 1196.4,1176.2 1197.9,1178.8 1199.5,1181.3 1201.0,1183.9 1202.6,1186.5 1204.1,1189.0 1205.7,1191.6 1207.3,1194.2 1208.8,1196.7 1210.4,1199.3 1212.0,1201.8 1213.6,1204.3 1215.3,1206.8 1216.9,1209.4 1218.5,1211.9 1220.2,1214.4 1221.8,1216.9 1223.5,1219.4 1225.2,1221.8 1226.9,1224.3 1228.6,1226.8 1230.3,1229.2 1232.1,1231.7 1233.8,1234.1 1235.6,1236.6 1237.4,1239.0 1239.2,1241.4 1241.0,1243.8 1242.9,1246.2 1244.7,1248.5 1246.6,1250.9 1248.5,1253.3 1250.4,1255.6 1252.3,1257.9 1254.3,1260.2 1256.3,1262.5 1258.3,1264.8 1260.3,1267.1 1262.3,1269.4 1264.4,1271.6 1266.4,1273.8 1268.5,1276.0 1270.6,1278.2 1272.8,1280.3 1274.9,1282.5 1277.1,1284.6 1279.3,1286.7 1281.5,1288.8 1283.7,1290.8 1286.0,1292.8 1288.2,1294.8 1290.5,1296.8 1292.8,1298.7 1295.1,1300.6 1297.5,1302.5 1299.9,1304.3 1302.3,1306.2 1304.7,1308.0 1307.1,1309.7 1309.5,1311.4 1312.0,1313.1 1314.5,1314.8 1317.0,1316.4 1319.6,1317.9 1322.1,1319.5 1324.7,1320.9 1327.3,1322.4 1329.9,1323.7 1332.5,1325.1 1335.2,1326.4 1337.9,1327.6 1340.6,1328.7 1343.3,1329.9 1346.0,1330.9 1348.8,1331.9 1351.5,1332.8 1354.3,1333.7 1357.2,1334.5 1360.0,1335.2 1362.8,1335.9 1365.7,1336.6 1368.6,1337.1 1371.5,1337.7 1374.4,1338.1 1377.4,1338.5 1380.3,1338.9 1383.3,1339.3 1386.2,1339.5 1389.2,1339.8 1392.2,1340.0 1395.2,1340.2 1398.2,1340.4 1401.3,1340.5 1404.3,1340.6 1407.3,1340.6 1410.4,1340.7 1413.4,1340.7 1416.5,1340.7 1419.5,1340.7 1422.6,1340.7 1425.7,1340.7 1428.7,1340.6 1431.8,1340.6 1434.9,1340.5 1437.9,1340.5 1441.0,1340.4 1444.1,1340.3 1447.1,1340.3 1450.2,1340.3 1453.2,1340.2 1456.3,1340.2 1459.3,1340.2 1462.4,1340.2 1465.4,1340.2 1468.4,1340.2 1471.5,1340.2 1474.5,1340.2 1477.5,1340.3 1480.5,1340.3 1483.5,1340.3 1486.6,1340.4 1489.6,1340.4 1492.6,1340.5 1495.6,1340.6 1498.6,1340.6 1501.6,1340.7 1504.6,1340.8 1507.6,1340.9 1510.6,1341.0 1513.6,1341.0 1516.6,1341.1 1519.6,1341.2 1522.6,1341.3 1525.6,1341.4 1528.6,1341.5 1531.6,1341.6 1534.6,1341.7 1537.6,1341.8 1540.6,1341.9 1543.6,1341.9 1546.6,1342.0 1549.6,1342.1 1552.6,1342.2 1555.5,1342.3 1558.5,1342.4 1561.5,1342.5 1564.5,1342.6 1567.5,1342.7 1570.5,1342.7 1573.5,1342.8 1576.5,1342.9 1579.5,1343.0 1582.5,1343.1 1585.5,1343.2 1588.5,1343.3 1591.5,1343.3 1594.5,1343.4 1597.5,1343.5 1600.5,1343.6 1603.5,1343.7 1606.5,1343.8 1609.5,1343.8 1612.5,1343.9 1615.5,1344.0 1618.5,1344.1 1621.5,1344.2 1624.5,1344.2 1627.5,1344.3 1630.5,1344.4 1633.5,1344.5 1636.5,1344.6 1639.5,1344.6 1642.5,1344.7 1645.6,1344.8 1648.6,1344.9 1651.6,1344.9 1654.6,1345.0 1657.6,1345.1 1660.6,1345.2 1663.6,1345.2 1666.6,1345.3 1669.6,1345.4 1672.6,1345.5 1675.6,1345.5 1678.6,1345.6 1681.6,1345.7 1684.6,1345.8 1687.6,1345.8 1690.6,1345.9 1693.6,1346.0 1696.6,1346.0 1699.6,1346.1 1702.6,1346.2 1705.6,1346.3 1708.6,1346.3 1711.6,1346.4 1714.6,1346.5 1717.6,1346.5 1720.6,1346.6 1723.7,1346.7 1726.7,1346.7 1729.7,1346.8 1732.7,1346.9 1735.7,1346.9 1738.7,1347.0 1741.7,1347.1 1744.7,1347.1 1747.7,1347.2 1750.7,1347.3 1753.7,1347.3 1756.7,1347.4 1759.7,1347.5 1762.7,1347.5 1765.7,1347.6 1768.7,1347.7 1771.7,1347.7 1774.8,1347.8 1777.8,1347.9 1780.8,1347.9 1783.8,1348.0 1786.8,1348.0 1789.8,1348.1 1792.8,1348.2 1795.8,1348.2 1798.8,1348.3 1801.8,1348.3 1804.8,1348.4 1807.8,1348.5 1810.8,1348.5 1813.8,1348.6 1816.9,1348.6 1819.9,1348.7 1822.9,1348.8 1825.9,1348.8 1828.9,1348.9 1831.9,1348.9 1834.9,1349.0 1837.9,1349.0 1840.9,1349.1 1843.9,1349.1 1846.9,1349.2 1849.9,1349.3 1852.9,1349.3 1856.0,1349.4 1859.0,1349.4 1862.0,1349.5 1865.0,1349.5 1868.0,1349.6 1871.0,1349.6 1874.0,1349.7 1877.0,1349.7 1880.0,1349.8 1883.0,1349.8 1886.0,1349.9 1889.0,1349.9 1892.0,1350.0 1895.1,1350.0 1898.1,1350.1 1901.1,1350.1 1904.1,1350.2 1907.1,1350.2 1910.1,1350.3 1913.1,1350.3 1916.1,1350.4 1919.1,1350.4 1922.1,1350.5 1925.1,1350.5 1928.1,1350.6 1931.2,1350.6 1934.2,1350.7 1937.2,1350.7 1940.2,1350.8 1943.2,1350.8 1946.2,1350.8 1949.2,1350.9 1952.2,1350.9 1955.2,1351.0 1958.2,1351.0 1961.2,1351.1 1964.2,1351.1 1967.2,1351.1 1970.3,1351.2 1973.3,1351.2 1976.3,1351.3 1979.3,1351.3 1982.3,1351.4 1985.3,1351.4 1988.3,1351.4 1991.3,1351.5 1994.3,1351.5 1997.3,1351.6 2000.3,1351.6 2003.3,1351.6 2006.3,1351.7 2009.3,1351.7 2012.4,1351.8 2015.4,1351.8 2018.4,1351.8 2021.4,1351.9 2024.4,1351.9 2027.4,1351.9 2030.4,1352.0 2033.4,1352.0 2036.4,1352.1 2039.4,1352.1 2042.4,1352.1 2045.4,1352.2 2048.4,1352.2 2051.4,1352.2 2054.4,1352.3 2057.5,1352.3 2060.5,1352.3 2063.5,1352.4 2066.5,1352.4 2069.5,1352.4 2072.5,1352.5 2075.5,1352.5 2078.5,1352.5 2081.5,1352.6 2084.5,1352.6 2087.5,1352.6 2090.5,1352.7 2093.5,1352.7 2096.5,1352.7 2099.5,1352.8 2102.5,1352.8 2105.5,1352.8 2108.5,1352.8 2111.5,1352.9 2114.5,1352.9 2117.6,1352.9 2120.6,1353.0 2123.6,1353.0 2126.6,1353.0 2129.6,1353.0 2132.6,1353.1 2135.6,1353.1 2138.6,1353.1 2141.6,1353.2 2144.6,1353.2 2147.6,1353.2 2150.6,1353.2 2153.6,1353.3 2156.6,1353.3 2159.6,1353.3 2162.6,1353.3 2165.6,1353.4 2168.6,1353.4 2171.6,1353.4 2174.6,1353.4 2177.6,1353.5 2180.6,1353.5 2183.6,1353.5 2186.6,1353.5 2189.6,1353.6 2192.6,1353.6 2195.6,1353.6 2198.6,1353.6 2201.6,1353.6" fill="none" stroke="#1A6FDF" stroke-width="12" stroke-linejoin="round" stroke-linecap="butt"/>
<path d="M242.5,155.5L245.5,155.7 248.6,155.9 251.7,156.0 254.7,156.2 257.8,156.4 260.8,156.6 263.9,156.8 266.9,157.0 270.0,157.2 273.0,157.3 276.0,157.5 279.1,157.7 282.1,157.9 285.1,158.1 288.2,158.2 291.2,158.4 294.2,158.6 297.2,158.8 300.2,158.9 303.3,159.1 306.3,159.3 309.3,159.4 312.3,159.6 315.3,159.8 318.3,159.9 321.3,160.1 324.3,160.2 327.3,160.4 330.3,160.6 333.3,160.7 336.3,160.9 339.3,161.0 342.3,161.2 345.3,161.3 348.3,161.5 351.2,161.6 354.2,161.8 357.2,161.9 360.2,162.1 363.2,162.2 366.2,162.3 369.1,162.5 372.1,162.6 375.1,162.8 378.1,162.9 381.1,163.0 384.0,163.1 387.0,163.3 390.0,163.4 393.0,163.5 396.0,163.7 398.9,163.8 401.9,163.9 404.9,164.0 407.9,164.2 410.8,164.3 413.8,164.4 416.8,164.5 419.8,164.6 422.7,164.7 425.7,164.8 428.7,164.9 431.7,165.1 434.7,165.2 437.6,165.3 440.6,165.4 443.6,165.5 446.6,165.6 449.6,165.7 452.5,165.8 455.5,165.9 458.5,166.0 461.5,166.1 464.5,166.1 467.5,166.2 470.5,166.3 473.4,166.4 476.4,166.5 479.4,166.6 482.4,166.7 485.4,166.7 488.4,166.8 491.4,166.9 494.4,167.0 497.4,167.0 500.4,167.1 503.4,167.2 506.4,167.3 509.5,167.3 512.5,167.4 515.5,167.4 518.5,167.5 521.5,167.6 524.5,167.6 527.6,167.7 530.6,167.7 533.6,167.8 536.7,167.9 539.7,167.9 542.7,168.0 545.8,168.0 548.8,168.0 551.9,168.1 554.9,168.1 558.0,168.2 561.0,168.2 564.1,168.2 567.1,168.3 570.2,168.3 573.3,168.3 576.3,168.4 579.4,168.4 582.5,168.4 585.6,168.5 588.7,168.5 591.8,168.5 594.8,168.5 597.9,168.5 601.0,168.6 604.2,168.6 607.3,168.6 610.4,168.6 613.5,168.6 616.6,168.7 619.7,168.7 622.8,168.8 625.9,168.9 628.9,169.0 632.0,169.2 635.0,169.4 638.0,169.6 641.0,169.9 644.0,170.2 646.9,170.6 649.8,171.0 652.7,171.6 655.5,172.1 658.3,172.8 661.0,173.5 663.7,174.3 666.4,175.2 669.0,176.2 671.5,177.3 674.0,178.4 676.4,179.7 678.8,181.1 681.0,182.5 683.2,184.1 685.3,185.7 687.3,187.5 689.2,189.4 690.9,191.3 692.6,193.4 694.2,195.7 695.7,198.0 697.0,200.4 698.3,202.9 699.5,205.5 700.7,208.1 701.7,210.9 702.7,213.7 703.6,216.5 704.5,219.4 705.3,222.4 706.1,225.4 706.8,228.4 707.5,231.5 708.2,234.5 708.8,237.6 709.4,240.7 710.0,243.8 710.6,246.9 711.2,250.0 711.8,253.1 712.3,256.1 712.9,259.1 713.5,262.2 714.1,265.2 714.7,268.1 715.3,271.1 715.9,274.1 716.4,277.1 717.0,280.0 717.6,283.0 718.2,285.9 718.7,288.9 719.3,291.8 719.9,294.8 720.4,297.7 721.0,300.7 721.5,303.7 722.1,306.6 722.6,309.6 723.2,312.5 723.7,315.5 724.3,318.4 724.8,321.4 725.3,324.4 725.9,327.3 726.4,330.3 726.9,333.2 727.5,336.2 728.0,339.2 728.5,342.1 729.1,345.1 729.6,348.1 730.1,351.0 730.6,354.0 731.2,357.0 731.7,359.9 732.2,362.9 732.7,365.9 733.3,368.8 733.8,371.8 734.3,374.8 734.9,377.7 735.4,380.7 735.9,383.6 736.5,386.6 737.0,389.6 737.5,392.5 738.1,395.5 738.6,398.5 739.2,401.4 739.7,404.4 740.3,407.3 740.8,410.3 741.4,413.3 741.9,416.2 742.5,419.2 743.1,422.1 743.6,425.1 744.2,428.0 744.8,431.0 745.4,433.9 745.9,436.9 746.5,439.8 747.1,442.8 747.7,445.7 748.3,448.7 748.9,451.6 749.6,454.6 750.2,457.5 750.8,460.4 751.4,463.4 752.1,466.3 752.7,469.2 753.4,472.2 754.0,475.1 754.7,478.0 755.4,481.0 756.1,483.9 756.7,486.8 757.4,489.7 758.1,492.6 758.8,495.6 759.6,498.5 760.3,501.4 761.0,504.3 761.7,507.2 762.5,510.1 763.2,513.0 764.0,515.9 764.7,518.8 765.5,521.7 766.3,524.6 767.1,527.5 767.8,530.4 768.6,533.3 769.4,536.2 770.2,539.1 771.1,542.0 771.9,544.8 772.7,547.7 773.5,550.6 774.4,553.5 775.2,556.4 776.0,559.2 776.9,562.1 777.7,565.0 778.6,567.9 779.5,570.7 780.4,573.6 781.2,576.5 782.1,579.3 783.0,582.2 783.9,585.1 784.8,587.9 785.7,590.8 786.6,593.6 787.5,596.5 788.5,599.3 789.4,602.2 790.3,605.0 791.2,607.9 792.2,610.7 793.1,613.6 794.1,616.4 795.0,619.3 796.0,622.1 797.0,625.0 797.9,627.8 798.9,630.6 799.9,633.5 800.9,636.3 801.9,639.2 802.8,642.0 803.8,644.8 804.8,647.7 805.8,650.5 806.8,653.3 807.9,656.1 808.9,659.0 809.9,661.8 810.9,664.6 811.9,667.4 813.0,670.2 814.0,673.1 815.1,675.9 816.1,678.7 817.1,681.5 818.2,684.3 819.2,687.1 820.3,690.0 821.4,692.8 822.4,695.6 823.5,698.4 824.6,701.2 825.6,704.0 826.7,706.8 827.8,709.6 828.9,712.4 830.0,715.2 831.1,718.0 832.1,720.8 833.2,723.6 834.3,726.4 835.4,729.2 836.5,732.0 837.6,734.8 838.8,737.6 839.9,740.4 841.0,743.2 842.1,746.0 843.2,748.8 844.3,751.6 845.5,754.4 846.6,757.2 847.7,759.9 848.8,762.7 850.0,765.5 851.1,768.3 852.2,771.1 853.4,773.9 854.5,776.7 855.7,779.4 856.8,782.2 858.0,785.0 859.1,787.8 860.3,790.6 861.4,793.3 862.6,796.1 863.7,798.9 864.9,801.7 866.0,804.4 867.2,807.2 868.4,810.0 869.5,812.8 870.7,815.5 871.9,818.3 873.0,821.1 874.2,823.9 875.4,826.6 876.6,829.4 877.7,832.2 878.9,834.9 880.1,837.7 881.3,840.5 882.5,843.2 883.6,846.0 884.8,848.8 886.0,851.5 887.2,854.3 888.4,857.0 889.6,859.8 890.8,862.6 892.0,865.3 893.2,868.1 894.4,870.8 895.6,873.6 896.8,876.4 898.0,879.1 899.2,881.9 900.4,884.6 901.6,887.4 902.8,890.1 904.0,892.9 905.3,895.6 906.5,898.4 907.7,901.1 908.9,903.9 910.1,906.6 911.3,909.4 912.6,912.1 913.8,914.9 915.0,917.6 916.2,920.3 917.5,923.1 918.7,925.8 919.9,928.6 921.2,931.3 922.4,934.0 923.6,936.8 924.9,939.5 926.1,942.3 927.3,945.0 928.6,947.7 929.8,950.5 931.1,953.2 932.3,955.9 933.5,958.7 934.8,961.4 936.0,964.1 937.3,966.9 938.5,969.6 939.8,972.3 941.0,975.0 942.3,977.8 943.5,980.5 944.8,983.2 946.0,985.9 947.3,988.7 948.5,991.4 949.8,994.1 951.1,996.8 952.3,999.6 953.6,1002.3 954.8,1005.0 956.1,1007.7 957.4,1010.4 958.6,1013.1 959.9,1015.9 961.2,1018.6 962.4,1021.3 963.7,1024.0 965.0,1026.7 966.2,1029.4 967.5,1032.1 968.8,1034.9 970.1,1037.6 971.3,1040.3 972.6,1043.0 973.9,1045.7 975.2,1048.4 976.4,1051.1 977.7,1053.8 979.0,1056.5 980.3,1059.2 981.6,1061.9 982.8,1064.6 984.1,1067.3 985.4,1070.0 986.7,1072.7 988.0,1075.4 989.4,1078.1 990.7,1080.7 992.0,1083.4 993.4,1086.1 994.7,1088.7 996.1,1091.4 997.5,1094.1 998.9,1096.7 1000.3,1099.3 1001.7,1102.0 1003.2,1104.6 1004.6,1107.2 1006.1,1109.8 1007.6,1112.4 1009.2,1115.0 1010.7,1117.6 1012.3,1120.2 1013.9,1122.7 1015.5,1125.3 1017.1,1127.8 1018.8,1130.4 1020.5,1132.9 1022.2,1135.4 1023.9,1137.9 1025.6,1140.4 1027.4,1142.9 1029.2,1145.4 1031.0,1147.8 1032.8,1150.3 1034.6,1152.7 1036.5,1155.2 1038.3,1157.6 1040.2,1160.0 1042.0,1162.4 1043.9,1164.8 1045.8,1167.3 1047.7,1169.7 1049.6,1172.0 1051.4,1174.4 1053.3,1176.8 1055.2,1179.2 1057.1,1181.6 1059.0,1183.9 1060.9,1186.3 1062.8,1188.6 1064.7,1191.0 1066.5,1193.3 1068.4,1195.7 1070.3,1198.0 1072.2,1200.3 1074.0,1202.7 1075.9,1205.0 1077.8,1207.3 1079.7,1209.6 1081.5,1212.0 1083.4,1214.3 1085.3,1216.6 1087.2,1218.9 1089.0,1221.2 1090.9,1223.5 1092.8,1225.8 1094.7,1228.1 1096.5,1230.4 1098.4,1232.7 1100.3,1234.9 1102.2,1237.2 1104.1,1239.5 1105.9,1241.8 1107.8,1244.1 1109.7,1246.3 1111.6,1248.6 1113.5,1250.9 1115.4,1253.2 1117.3,1255.4 1119.1,1257.7 1121.0,1260.0 1122.9,1262.2 1124.8,1264.5 1126.7,1266.8 1128.7,1269.0 1130.6,1271.3 1132.5,1273.5 1134.4,1275.8 1136.3,1278.1 1138.2,1280.3 1140.2,1282.6 1142.1,1284.8 1144.0,1287.1 1146.0,1289.4 1147.9,1291.6 1149.9,1293.9 1151.8,1296.1 1153.8,1298.4 1155.7,1300.7 1157.7,1302.9 1159.7,1305.2 1161.7,1307.5 1163.6,1309.7 1165.6,1312.0 1167.6,1314.3 1169.6,1316.5 1171.6,1318.8 1173.6,1321.1 1175.7,1323.3 1177.7,1325.6 1179.7,1327.9 1181.7,1330.2 1183.8,1332.5 1185.8,1334.7 1187.9,1337.0 1190.0,1339.3 1192.0,1341.6 1194.1,1343.9 1196.2,1346.1 1198.3,1348.4 1200.4,1350.6 1202.5,1352.9 1204.6,1355.1 1206.8,1357.4 1208.9,1359.6 1211.0,1361.8 1213.2,1364.0 1215.4,1366.2 1217.5,1368.4 1219.7,1370.6 1221.9,1372.7 1224.1,1374.8 1226.4,1377.0 1228.6,1379.1 1230.8,1381.2 1233.1,1383.2 1235.3,1385.3 1237.6,1387.3 1239.9,1389.3 1242.2,1391.3 1244.5,1393.3 1246.8,1395.3 1249.1,1397.2 1251.5,1399.1 1253.8,1401.0 1256.2,1402.8 1258.6,1404.6 1261.0,1406.4 1263.4,1408.2 1265.8,1409.9 1268.3,1411.6 1270.7,1413.3 1273.2,1414.9 1275.7,1416.5 1278.2,1418.1 1280.7,1419.7 1283.2,1421.2 1285.7,1422.6 1288.3,1424.1 1290.8,1425.5 1293.4,1426.8 1296.0,1428.2 1298.7,1429.4 1301.3,1430.7 1303.9,1431.9 1306.6,1433.0 1309.3,1434.2 1312.0,1435.2 1314.7,1436.3 1317.4,1437.3 1320.2,1438.2 1322.9,1439.2 1325.7,1440.0 1328.5,1440.9 1331.3,1441.7 1334.1,1442.5 1336.9,1443.3 1339.7,1444.0 1342.6,1444.7 1345.4,1445.3 1348.3,1445.9 1351.2,1446.5 1354.1,1447.1 1357.0,1447.6 1359.9,1448.1 1362.8,1448.6 1365.7,1449.1 1368.7,1449.5 1371.6,1449.9 1374.6,1450.3 1377.6,1450.7 1380.5,1451.0 1383.5,1451.3 1386.5,1451.6 1389.5,1451.9 1392.5,1452.1 1395.5,1452.4 1398.5,1452.6 1401.5,1452.8 1404.6,1453.0 1407.6,1453.1 1410.6,1453.3 1413.7,1453.4 1416.7,1453.5 1419.7,1453.6 1422.8,1453.7 1425.8,1453.8 1428.9,1453.9 1432.0,1453.9 1435.0,1454.0 1438.1,1454.0 1441.1,1454.0 1444.2,1454.1 1447.3,1454.1 1450.3,1454.1 1453.4,1454.1 1456.4,1454.1 1459.5,1454.1 1462.6,1454.1 1465.6,1454.0 1468.7,1454.0 1471.7,1454.0 1474.8,1454.0 1477.8,1454.0 1480.9,1454.0 1483.9,1453.9 1487.0,1453.9 1490.0,1453.9 1493.1,1453.9 1496.1,1453.9 1499.1,1453.9 1502.2,1453.9 1505.2,1453.9 1508.2,1453.9 1511.2,1453.9 1514.2,1453.9 1517.3,1453.8 1520.3,1453.8 1523.3,1453.8 1526.3,1453.8 1529.3,1453.8 1532.3,1453.8 1535.3,1453.9 1538.3,1453.9 1541.3,1453.9 1544.3,1453.9 1547.3,1453.9 1550.3,1453.9 1553.3,1453.9 1556.3,1453.9 1559.3,1453.9 1562.3,1453.9 1565.3,1453.9 1568.2,1453.9 1571.2,1454.0 1574.2,1454.0 1577.2,1454.0 1580.2,1454.0 1583.2,1454.0 1586.1,1454.0 1589.1,1454.1 1592.1,1454.1 1595.1,1454.1 1598.1,1454.1 1601.0,1454.2 1604.0,1454.2 1607.0,1454.2 1610.0,1454.2 1613.0,1454.3 1615.9,1454.3 1618.9,1454.3 1621.9,1454.3 1624.9,1454.4 1627.9,1454.4 1630.8,1454.4 1633.8,1454.5 1636.8,1454.5 1639.8,1454.5 1642.8,1454.6 1645.8,1454.6 1648.7,1454.6 1651.7,1454.7 1654.7,1454.7 1657.7,1454.7 1660.7,1454.8 1663.7,1454.8 1666.7,1454.8 1669.7,1454.9 1672.7,1454.9 1675.6,1455.0 1678.6,1455.0 1681.6,1455.0 1684.6,1455.1 1687.6,1455.1 1690.6,1455.2 1693.6,1455.2 1696.6,1455.3 1699.6,1455.3 1702.6,1455.3 1705.6,1455.4 1708.6,1455.4 1711.7,1455.5 1714.7,1455.5 1717.7,1455.6 1720.7,1455.6 1723.7,1455.7 1726.7,1455.7 1729.7,1455.8 1732.7,1455.8 1735.7,1455.9 1738.7,1455.9 1741.7,1455.9 1744.8,1456.0 1747.8,1456.0 1750.8,1456.1 1753.8,1456.1 1756.8,1456.2 1759.8,1456.2 1762.8,1456.3 1765.9,1456.3 1768.9,1456.4 1771.9,1456.4 1774.9,1456.5 1777.9,1456.5 1780.9,1456.6 1784.0,1456.7 1787.0,1456.7 1790.0,1456.8 1793.0,1456.8 1796.0,1456.9 1799.0,1456.9 1802.1,1457.0 1805.1,1457.0 1808.1,1457.1 1811.1,1457.1 1814.1,1457.2 1817.1,1457.2 1820.1,1457.3 1823.2,1457.3 1826.2,1457.4 1829.2,1457.4 1832.2,1457.5 1835.2,1457.5 1838.2,1457.6 1841.2,1457.6 1844.3,1457.7 1847.3,1457.7 1850.3,1457.8 1853.3,1457.8 1856.3,1457.9 1859.3,1457.9 1862.3,1458.0 1865.3,1458.0 1868.3,1458.1 1871.4,1458.1 1874.4,1458.2 1877.4,1458.2 1880.4,1458.3 1883.4,1458.3 1886.4,1458.4 1889.4,1458.4 1892.4,1458.5 1895.4,1458.5 1898.4,1458.6 1901.4,1458.6 1904.4,1458.7 1907.4,1458.7 1910.4,1458.8 1913.4,1458.8 1916.4,1458.9 1919.4,1458.9 1922.4,1458.9 1925.4,1459.0 1928.4,1459.0 1931.4,1459.1 1934.4,1459.1 1937.4,1459.2 1940.4,1459.2 1943.4,1459.3 1946.4,1459.3 1949.4,1459.3 1952.4,1459.4 1955.4,1459.4 1958.4,1459.5 1961.4,1459.5 1964.4,1459.6 1967.4,1459.6 1970.4,1459.6 1973.4,1459.7 1976.4,1459.7 1979.4,1459.8 1982.4,1459.8 1985.4,1459.8 1988.4,1459.9 1991.4,1459.9 1994.4,1460.0 1997.4,1460.0 2000.4,1460.0 2003.4,1460.1 2006.4,1460.1 2009.4,1460.1 2012.4,1460.2 2015.4,1460.2 2018.4,1460.2 2021.4,1460.3 2024.4,1460.3 2027.4,1460.3 2030.4,1460.4 2033.4,1460.4 2036.4,1460.4 2039.4,1460.5 2042.4,1460.5 2045.4,1460.5 2048.4,1460.6 2051.4,1460.6 2054.4,1460.6 2057.4,1460.7 2060.4,1460.7 2063.4,1460.7 2066.4,1460.7 2069.4,1460.8 2072.4,1460.8 2075.4,1460.8 2078.4,1460.8 2081.4,1460.9 2084.4,1460.9 2087.4,1460.9 2090.4,1460.9 2093.4,1461.0 2096.4,1461.0 2099.4,1461.0 2102.4,1461.0 2105.4,1461.0 2108.4,1461.1 2111.5,1461.1 2114.5,1461.1 2117.5,1461.1 2120.5,1461.1 2123.5,1461.2 2126.5,1461.2 2129.5,1461.2 2132.5,1461.2 2135.5,1461.2 2138.5,1461.2 2141.5,1461.2 2144.5,1461.3 2147.5,1461.3 2150.6,1461.3 2153.6,1461.3 2156.6,1461.3 2159.6,1461.3 2162.6,1461.3 2165.6,1461.3 2168.6,1461.3 2171.7,1461.4 2174.7,1461.4 2177.7,1461.4 2180.7,1461.4 2183.7,1461.4 2186.7,1461.4 2189.8,1461.4 2192.8,1461.4 2195.8,1461.4 2198.8,1461.4 2201.8,1461.4" fill="none" stroke="#37AD6B" stroke-width="12" stroke-linejoin="round" stroke-linecap="butt"/>
<path d="M244.3,169.8L246.5,171.6 248.7,173.5 250.9,175.3 253.0,177.3 255.2,179.2 257.4,181.3 259.5,183.3 261.7,185.3 263.9,187.4 266.1,189.5 268.2,191.7 270.4,193.8 272.6,195.9 274.8,198.1 277.0,200.2 279.3,202.3 281.5,204.5 283.7,206.6 286.0,208.7 288.3,210.8 290.5,212.9 292.9,214.9 295.2,216.9 297.5,218.9 299.9,220.8 302.3,222.7 304.7,224.6 307.1,226.4 309.5,228.2 312.0,229.9 314.5,231.5 317.0,233.2 319.5,234.7 322.1,236.3 324.7,237.8 327.2,239.2 329.9,240.6 332.5,242.0 335.1,243.3 337.8,244.6 340.5,245.9 343.2,247.1 345.9,248.3 348.6,249.4 351.3,250.5 354.1,251.6 356.9,252.6 359.7,253.7 362.4,254.7 365.3,255.6 368.1,256.6 370.9,257.5 373.7,258.3 376.6,259.2 379.5,260.0 382.3,260.8 385.2,261.6 388.1,262.4 391.0,263.1 393.9,263.8 396.8,264.5 399.7,265.2 402.7,265.9 405.6,266.6 408.5,267.2 411.5,267.8 414.4,268.4 417.3,269.0 420.3,269.6 423.2,270.2 426.2,270.8 429.2,271.3 432.1,271.9 435.1,272.4 438.0,272.9 441.0,273.5 444.0,274.0 446.9,274.5 449.9,275.0 452.9,275.5 455.8,275.9 458.8,276.4 461.8,276.9 464.8,277.4 467.8,277.8 470.7,278.3 473.7,278.7 476.7,279.2 479.7,279.6 482.7,280.0 485.6,280.5 488.6,280.9 491.6,281.3 494.6,281.7 497.6,282.1 500.6,282.6 503.5,283.0 506.5,283.4 509.5,283.8 512.5,284.2 515.5,284.6 518.5,285.0 521.5,285.4 524.4,285.8 527.4,286.2 530.4,286.6 533.4,287.1 536.4,287.5 539.3,287.9 542.3,288.3 545.3,288.7 548.3,289.1 551.2,289.6 554.2,290.0 557.2,290.4 560.2,290.8 563.1,291.3 566.1,291.7 569.0,292.2 572.0,292.6 575.0,293.1 577.9,293.5 580.9,294.0 583.8,294.4 586.8,294.9 589.8,295.3 592.7,295.8 595.7,296.2 598.6,296.7 601.6,297.1 604.6,297.5 607.5,298.0 610.5,298.4 613.4,298.8 616.4,299.2 619.4,299.7 622.3,300.1 625.3,300.5 628.3,300.8 631.2,301.2 634.2,301.6 637.2,301.9 640.2,302.3 643.1,302.7 646.1,303.0 649.1,303.4 652.1,303.8 655.0,304.2 658.0,304.6 661.0,305.0 664.0,305.5 666.9,306.0 669.9,306.5 672.9,307.1 675.8,307.8 678.8,308.5 681.7,309.2 684.7,310.0 687.6,310.9 690.5,311.8 693.4,312.8 696.3,313.9 699.2,315.1 702.1,316.3 704.9,317.6 707.8,318.9 710.5,320.3 713.3,321.8 716.0,323.3 718.6,324.9 721.2,326.5 723.7,328.2 726.2,330.0 728.6,331.8 730.9,333.6 733.2,335.5 735.5,337.4 737.7,339.4 739.8,341.4 741.9,343.4 743.9,345.5 745.9,347.7 747.8,349.8 749.7,352.1 751.6,354.3 753.4,356.6 755.1,358.9 756.9,361.3 758.5,363.7 760.2,366.1 761.8,368.5 763.3,371.0 764.9,373.5 766.4,376.1 767.8,378.6 769.3,381.2 770.7,383.8 772.0,386.5 773.4,389.1 774.7,391.8 776.0,394.5 777.3,397.2 778.5,399.9 779.7,402.7 780.9,405.4 782.1,408.2 783.3,411.0 784.5,413.8 785.6,416.6 786.7,419.4 787.8,422.3 788.9,425.1 790.0,427.9 791.1,430.8 792.1,433.6 793.2,436.5 794.3,439.4 795.3,442.2 796.4,445.1 797.4,447.9 798.5,450.8 799.5,453.6 800.5,456.5 801.6,459.3 802.6,462.2 803.7,465.0 804.7,467.9 805.8,470.7 806.9,473.5 807.9,476.3 809.0,479.2 810.0,482.0 811.1,484.8 812.2,487.6 813.2,490.4 814.3,493.2 815.4,496.0 816.5,498.8 817.6,501.6 818.7,504.4 819.8,507.2 820.9,510.0 822.0,512.8 823.1,515.5 824.2,518.3 825.4,521.1 826.5,523.8 827.6,526.6 828.8,529.4 829.9,532.1 831.1,534.9 832.3,537.6 833.5,540.3 834.7,543.1 835.9,545.8 837.1,548.5 838.3,551.3 839.5,554.0 840.8,556.7 842.0,559.4 843.3,562.1 844.6,564.8 845.8,567.5 847.1,570.2 848.4,572.9 849.8,575.5 851.1,578.2 852.4,580.9 853.8,583.5 855.2,586.2 856.6,588.8 857.9,591.5 859.4,594.1 860.8,596.8 862.2,599.4 863.6,602.1 865.1,604.7 866.6,607.3 868.0,609.9 869.5,612.5 871.0,615.1 872.5,617.7 874.0,620.3 875.5,622.9 877.0,625.5 878.6,628.1 880.1,630.7 881.7,633.3 883.2,635.9 884.8,638.5 886.4,641.0 887.9,643.6 889.5,646.2 891.1,648.7 892.7,651.3 894.3,653.9 895.9,656.4 897.5,659.0 899.1,661.5 900.8,664.1 902.4,666.6 904.0,669.1 905.6,671.7 907.3,674.2 908.9,676.7 910.5,679.3 912.2,681.8 913.8,684.3 915.5,686.9 917.1,689.4 918.8,691.9 920.4,694.4 922.1,696.9 923.7,699.5 925.4,702.0 927.0,704.5 928.7,707.0 930.3,709.5 932.0,712.0 933.6,714.5 935.3,717.0 936.9,719.6 938.6,722.1 940.2,724.6 941.9,727.1 943.5,729.6 945.2,732.1 946.8,734.6 948.5,737.1 950.1,739.6 951.8,742.1 953.4,744.6 955.1,747.0 956.7,749.5 958.4,752.0 960.0,754.5 961.7,757.0 963.3,759.5 965.0,762.0 966.6,764.5 968.3,767.0 970.0,769.5 971.6,772.0 973.3,774.5 974.9,777.0 976.6,779.4 978.2,781.9 979.9,784.4 981.5,786.9 983.2,789.4 984.9,791.9 986.5,794.4 988.2,796.9 989.8,799.4 991.5,801.9 993.2,804.3 994.8,806.8 996.5,809.3 998.2,811.8 999.8,814.3 1001.5,816.8 1003.2,819.3 1004.8,821.8 1006.5,824.3 1008.2,826.8 1009.8,829.3 1011.5,831.8 1013.2,834.3 1014.8,836.8 1016.5,839.3 1018.2,841.8 1019.8,844.3 1021.5,846.8 1023.1,849.3 1024.8,851.8 1026.5,854.3 1028.1,856.8 1029.8,859.3 1031.5,861.8 1033.1,864.3 1034.8,866.8 1036.4,869.3 1038.1,871.8 1039.7,874.3 1041.4,876.9 1043.0,879.4 1044.7,881.9 1046.3,884.4 1048.0,886.9 1049.6,889.4 1051.3,892.0 1052.9,894.5 1054.6,897.0 1056.2,899.5 1057.8,902.1 1059.4,904.6 1061.1,907.1 1062.7,909.6 1064.3,912.2 1065.9,914.7 1067.6,917.2 1069.2,919.8 1070.8,922.3 1072.4,924.9 1074.0,927.4 1075.6,929.9 1077.2,932.5 1078.8,935.0 1080.4,937.6 1082.0,940.1 1083.5,942.7 1085.1,945.2 1086.7,947.8 1088.3,950.4 1089.8,952.9 1091.4,955.5 1093.0,958.0 1094.5,960.6 1096.1,963.2 1097.6,965.7 1099.1,968.3 1100.7,970.9 1102.2,973.5 1103.8,976.0 1105.3,978.6 1106.8,981.2 1108.3,983.8 1109.8,986.4 1111.4,989.0 1112.9,991.5 1114.4,994.1 1115.9,996.7 1117.4,999.3 1118.9,1001.9 1120.4,1004.5 1121.8,1007.1 1123.3,1009.7 1124.8,1012.3 1126.3,1014.9 1127.8,1017.5 1129.2,1020.1 1130.7,1022.7 1132.2,1025.4 1133.6,1028.0 1135.1,1030.6 1136.6,1033.2 1138.0,1035.8 1139.5,1038.4 1140.9,1041.1 1142.4,1043.7 1143.8,1046.3 1145.2,1048.9 1146.7,1051.6 1148.1,1054.2 1149.5,1056.8 1151.0,1059.4 1152.4,1062.1 1153.8,1064.7 1155.3,1067.4 1156.7,1070.0 1158.1,1072.6 1159.5,1075.3 1160.9,1077.9 1162.3,1080.6 1163.7,1083.2 1165.1,1085.8 1166.5,1088.5 1167.9,1091.1 1169.3,1093.8 1170.7,1096.5 1172.1,1099.1 1173.5,1101.8 1174.9,1104.4 1176.3,1107.1 1177.7,1109.7 1179.1,1112.4 1180.5,1115.1 1181.9,1117.7 1183.2,1120.4 1184.6,1123.0 1186.0,1125.7 1187.4,1128.4 1188.7,1131.1 1190.1,1133.7 1191.5,1136.4 1192.9,1139.1 1194.2,1141.7 1195.6,1144.4 1197.0,1147.1 1198.3,1149.8 1199.7,1152.4 1201.1,1155.1 1202.4,1157.8 1203.8,1160.5 1205.1,1163.2 1206.5,1165.9 1207.9,1168.5 1209.2,1171.2 1210.6,1173.9 1211.9,1176.6 1213.3,1179.3 1214.6,1182.0 1216.0,1184.7 1217.3,1187.4 1218.7,1190.0 1220.0,1192.7 1221.4,1195.4 1222.7,1198.1 1224.1,1200.8 1225.4,1203.5 1226.8,1206.2 1228.1,1208.9 1229.5,1211.6 1230.8,1214.2 1232.2,1216.9 1233.5,1219.6 1234.9,1222.3 1236.2,1225.0 1237.6,1227.7 1238.9,1230.4 1240.3,1233.0 1241.7,1235.7 1243.0,1238.4 1244.4,1241.1 1245.7,1243.8 1247.1,1246.5 1248.4,1249.1 1249.8,1251.8 1251.2,1254.5 1252.5,1257.2 1253.9,1259.8 1255.2,1262.5 1256.6,1265.2 1258.0,1267.8 1259.3,1270.5 1260.7,1273.2 1262.1,1275.8 1263.4,1278.5 1264.8,1281.2 1266.2,1283.8 1267.6,1286.5 1268.9,1289.1 1270.3,1291.8 1271.7,1294.4 1273.1,1297.1 1274.5,1299.7 1275.9,1302.4 1277.3,1305.0 1278.7,1307.7 1280.0,1310.3 1281.4,1312.9 1282.8,1315.6 1284.2,1318.2 1285.7,1320.9 1287.1,1323.5 1288.5,1326.2 1289.9,1328.8 1291.3,1331.5 1292.7,1334.1 1294.1,1336.8 1295.6,1339.4 1297.0,1342.1 1298.4,1344.8 1299.9,1347.4 1301.3,1350.1 1302.8,1352.8 1304.2,1355.5 1305.7,1358.2 1307.1,1360.9 1308.6,1363.6 1310.0,1366.3 1311.5,1369.0 1313.0,1371.7 1314.5,1374.4 1315.9,1377.2 1317.4,1379.9 1319.0,1382.6 1320.5,1385.3 1322.0,1387.9 1323.6,1390.6 1325.2,1393.2 1326.9,1395.7 1328.6,1398.3 1330.3,1400.7 1332.1,1403.1 1333.9,1405.4 1335.7,1407.7 1337.7,1409.8 1339.7,1411.9 1341.7,1413.9 1343.8,1415.8 1346.0,1417.6 1348.3,1419.2 1350.7,1420.8 1353.1,1422.2 1355.6,1423.5 1358.2,1424.7 1360.9,1425.7 1363.6,1426.7 1366.4,1427.6 1369.2,1428.4 1372.1,1429.1 1375.0,1429.8 1377.9,1430.5 1380.8,1431.1 1383.8,1431.7 1386.7,1432.3 1389.7,1432.9 1392.6,1433.4 1395.6,1434.0 1398.5,1434.5 1401.5,1435.1 1404.4,1435.6 1407.4,1436.1 1410.4,1436.6 1413.3,1437.1 1416.3,1437.6 1419.2,1438.0 1422.2,1438.5 1425.2,1438.9 1428.2,1439.4 1431.1,1439.8 1434.1,1440.2 1437.1,1440.6 1440.0,1441.0 1443.0,1441.4 1446.0,1441.8 1449.0,1442.2 1452.0,1442.6 1454.9,1443.0 1457.9,1443.3 1460.9,1443.7 1463.9,1444.0 1466.9,1444.4 1469.9,1444.7 1472.9,1445.0 1475.8,1445.3 1478.8,1445.7 1481.8,1446.0 1484.8,1446.3 1487.8,1446.6 1490.8,1446.9 1493.8,1447.2 1496.8,1447.5 1499.8,1447.7 1502.8,1448.0 1505.8,1448.3 1508.8,1448.6 1511.8,1448.8 1514.8,1449.1 1517.8,1449.4 1520.8,1449.6 1523.8,1449.9 1526.8,1450.1 1529.8,1450.4 1532.8,1450.6 1535.8,1450.9 1538.8,1451.1 1541.8,1451.4 1544.8,1451.6 1547.8,1451.9 1550.8,1452.1 1553.8,1452.4 1556.8,1452.6 1559.7,1452.9 1562.7,1453.1 1565.7,1453.4 1568.7,1453.6 1571.7,1453.9 1574.7,1454.1 1577.7,1454.4 1580.7,1454.6 1583.7,1454.8 1586.7,1455.1 1589.7,1455.3 1592.7,1455.6 1595.7,1455.8 1598.7,1456.1 1601.7,1456.3 1604.7,1456.6 1607.7,1456.8 1610.7,1457.1 1613.7,1457.3 1616.7,1457.6 1619.7,1457.8 1622.7,1458.1 1625.7,1458.3 1628.7,1458.6 1631.7,1458.8 1634.7,1459.1 1637.7,1459.3 1640.7,1459.5 1643.7,1459.8 1646.7,1460.0 1649.7,1460.3 1652.7,1460.5 1655.7,1460.8 1658.7,1461.0 1661.7,1461.3 1664.7,1461.5 1667.7,1461.7 1670.7,1462.0 1673.7,1462.2 1676.7,1462.5 1679.7,1462.7 1682.7,1463.0 1685.6,1463.2 1688.6,1463.4 1691.6,1463.7 1694.6,1463.9 1697.6,1464.2 1700.6,1464.4 1703.6,1464.6 1706.6,1464.9 1709.6,1465.1 1712.6,1465.4 1715.6,1465.6 1718.6,1465.8 1721.6,1466.1 1724.6,1466.3 1727.6,1466.5 1730.6,1466.8 1733.6,1467.0 1736.6,1467.2 1739.6,1467.5 1742.6,1467.7 1745.6,1467.9 1748.6,1468.2 1751.6,1468.4 1754.6,1468.6 1757.5,1468.8 1760.5,1469.1 1763.5,1469.3 1766.5,1469.5 1769.5,1469.8 1772.5,1470.0 1775.5,1470.2 1778.5,1470.4 1781.5,1470.6 1784.5,1470.9 1787.5,1471.1 1790.5,1471.3 1793.5,1471.5 1796.5,1471.7 1799.5,1471.9 1802.5,1472.2 1805.5,1472.4 1808.5,1472.6 1811.5,1472.8 1814.5,1473.0 1817.5,1473.2 1820.5,1473.4 1823.5,1473.6 1826.5,1473.8 1829.4,1474.0 1832.4,1474.3 1835.4,1474.5 1838.4,1474.7 1841.4,1474.9 1844.4,1475.1 1847.4,1475.3 1850.4,1475.5 1853.4,1475.6 1856.4,1475.8 1859.4,1476.0 1862.4,1476.2 1865.4,1476.4 1868.4,1476.6 1871.4,1476.8 1874.4,1477.0 1877.4,1477.2 1880.4,1477.4 1883.4,1477.5 1886.4,1477.7 1889.4,1477.9 1892.4,1478.1 1895.4,1478.2 1898.4,1478.4 1901.4,1478.6 1904.4,1478.8 1907.4,1478.9 1910.4,1479.1 1913.4,1479.3 1916.4,1479.4 1919.4,1479.6 1922.4,1479.8 1925.4,1479.9 1928.4,1480.1 1931.4,1480.3 1934.3,1480.4 1937.3,1480.6 1940.3,1480.7 1943.3,1480.9 1946.3,1481.0 1949.3,1481.2 1952.3,1481.3 1955.3,1481.5 1958.3,1481.6 1961.3,1481.7 1964.3,1481.9 1967.3,1482.0 1970.3,1482.2 1973.3,1482.3 1976.3,1482.4 1979.3,1482.6 1982.3,1482.7 1985.3,1482.8 1988.3,1482.9 1991.3,1483.1 1994.3,1483.2 1997.3,1483.3 2000.3,1483.4 2003.3,1483.5 2006.3,1483.6 2009.4,1483.8 2012.4,1483.9 2015.4,1484.0 2018.4,1484.1 2021.4,1484.2 2024.4,1484.3 2027.4,1484.4 2030.4,1484.5 2033.4,1484.6 2036.4,1484.7 2039.4,1484.8 2042.4,1484.8 2045.4,1484.9 2048.4,1485.0 2051.4,1485.1 2054.4,1485.2 2057.4,1485.3 2060.4,1485.3 2063.4,1485.4 2066.4,1485.5 2069.4,1485.5 2072.4,1485.6 2075.4,1485.7 2078.4,1485.7 2081.4,1485.8 2084.4,1485.9 2087.4,1485.9 2090.5,1486.0 2093.5,1486.0 2096.5,1486.1 2099.5,1486.1 2102.5,1486.1 2105.5,1486.2 2108.5,1486.2 2111.5,1486.3 2114.5,1486.3 2117.5,1486.3 2120.5,1486.3 2123.5,1486.4 2126.5,1486.4 2129.6,1486.4 2132.6,1486.4 2135.6,1486.4 2138.6,1486.4 2141.6,1486.5 2144.6,1486.5 2147.6,1486.5 2150.6,1486.5 2153.6,1486.5 2156.6,1486.5 2159.7,1486.5 2162.7,1486.4 2165.7,1486.4 2168.7,1486.4 2171.7,1486.4 2174.7,1486.4 2177.7,1486.3 2180.7,1486.3 2183.8,1486.3 2186.8,1486.3 2189.8,1486.2 2192.8,1486.2 2195.8,1486.1 2198.8,1486.1 2201.8,1486.1" fill="none" stroke="#B177DE" stroke-width="12" stroke-linejoin="round" stroke-linecap="butt"/>
<rect x="418.0" y="1547" width="9" height="26" fill="#000"/>
<rect x="673.0" y="1547" width="9" height="26" fill="#000"/>
<rect x="928.0" y="1547" width="9" height="26" fill="#000"/>
<rect x="1183.0" y="1547" width="9" height="26" fill="#000"/>
<rect x="1438.0" y="1547" width="9" height="26" fill="#000"/>
<rect x="1693.0" y="1547" width="9" height="26" fill="#000"/>
<rect x="1948.0" y="1547" width="9" height="26" fill="#000"/>
<text x="422.5" y="1674" text-anchor="middle" font-size="83.5" font-family="'Liberation Serif','Times New Roman',serif" font-weight="bold">100</text>
<text x="677.5" y="1674" text-anchor="middle" font-size="83.5" font-family="'Liberation Serif','Times New Roman',serif" font-weight="bold">200</text>
<text x="932.5" y="1674" text-anchor="middle" font-size="83.5" font-family="'Liberation Serif','Times New Roman',serif" font-weight="bold">300</text>
<text x="1187.5" y="1674" text-anchor="middle" font-size="83.5" font-family="'Liberation Serif','Times New Roman',serif" font-weight="bold">400</text>
<text x="1442.5" y="1674" text-anchor="middle" font-size="83.5" font-family="'Liberation Serif','Times New Roman',serif" font-weight="bold">500</text>
<text x="1697.5" y="1674" text-anchor="middle" font-size="83.5" font-family="'Liberation Serif','Times New Roman',serif" font-weight="bold">600</text>
<text x="1952.5" y="1674" text-anchor="middle" font-size="83.5" font-family="'Liberation Serif','Times New Roman',serif" font-weight="bold">700</text>
<text x="2207.5" y="1674" text-anchor="middle" font-size="83.5" font-family="'Liberation Serif','Times New Roman',serif" font-weight="bold">800</text>
<text x="1228.5" y="1822" text-anchor="middle" font-size="98.2" font-family="'Liberation Serif','Times New Roman',serif" font-weight="bold">Temperature/°C</text>
<text transform="translate(115,758.5) rotate(-90)" x="0" y="0" text-anchor="middle" font-size="97.5" font-family="'Liberation Serif','Times New Roman',serif" font-weight="bold">TG/%</text>
<text x="285" y="115.5" font-size="88.5" font-family="'Liberation Serif','Times New Roman',serif" font-weight="bold">(a)</text>
<rect x="1023" y="87.8" width="210" height="12" fill="#515151"/>
<text x="1255" y="124.5" font-size="93.2" font-family="'Liberation Serif','Times New Roman',serif" font-weight="bold">PP</text>
<rect x="1023" y="202.9" width="210" height="12" fill="#F14040"/>
<text x="1255" y="239.6" font-size="93.2" font-family="'Liberation Serif','Times New Roman',serif" font-weight="bold">PP−g−GMA(GP:92%)</text>
<rect x="1023" y="318.0" width="210" height="12" fill="#1A6FDF"/>
<text x="1255" y="354.7" font-size="93.2" font-family="'Liberation Serif','Times New Roman',serif" font-weight="bold">PP−g−GMA(GP:192%)</text>
<rect x="1023" y="433.1" width="210" height="12" fill="#37AD6B"/>
<text x="1255" y="469.8" font-size="93.2" font-family="'Liberation Serif','Times New Roman',serif" font-weight="bold">PP−g−GMA(GP:228%)</text>
<rect x="1023" y="548.2" width="210" height="12" fill="#B177DE"/>
<text x="1255" y="584.9" font-size="93.2" font-family="'Liberation Serif','Times New Roman',serif" font-weight="bold">PP−g−GMA−NMDG</text>
</g>
<g id="chartB">
<rect x="227" y="2071" width="2007" height="8" fill="#000"/>
<rect x="227" y="3599" width="2007" height="9" fill="#000"/>
<rect x="227" y="2071" width="9" height="1537" fill="#000"/>
<rect x="2225" y="2071" width="9" height="1537" fill="#000"/>
<path d="M231.4,2167.2L234.4,2167.9 237.4,2168.4 240.4,2169.0 243.4,2169.5 246.4,2170.0 249.4,2170.4 252.4,2170.8 255.4,2171.1 258.4,2171.5 261.3,2171.8 264.3,2172.0 267.3,2172.2 270.3,2172.4 273.3,2172.6 276.3,2172.7 279.3,2172.8 282.3,2172.9 285.2,2173.0 288.2,2173.0 291.2,2173.0 294.2,2173.0 297.2,2173.0 300.2,2173.0 303.2,2172.9 306.1,2172.8 309.1,2172.7 312.1,2172.6 315.1,2172.4 318.1,2172.3 321.1,2172.1 324.1,2172.0 327.0,2171.8 330.0,2171.6 333.0,2171.4 336.0,2171.2 339.0,2171.0 342.0,2170.8 345.0,2170.6 348.0,2170.3 351.0,2170.1 354.0,2169.9 357.0,2169.7 360.0,2169.4 363.0,2169.2 366.0,2169.0 369.0,2168.8 372.0,2168.6 375.0,2168.4 378.0,2168.2 381.0,2168.0 384.0,2167.8 387.0,2167.6 390.1,2167.5 393.1,2167.3 396.1,2167.2 399.1,2167.0 402.1,2166.9 405.2,2166.8 408.2,2166.6 411.2,2166.5 414.2,2166.4 417.2,2166.3 420.3,2166.2 423.3,2166.1 426.3,2166.0 429.3,2165.9 432.3,2165.9 435.4,2165.8 438.4,2165.7 441.4,2165.7 444.4,2165.6 447.4,2165.5 450.5,2165.5 453.5,2165.4 456.5,2165.4 459.5,2165.4 462.5,2165.3 465.5,2165.3 468.5,2165.3 471.5,2165.3 474.5,2165.2 477.5,2165.2 480.5,2165.2 483.5,2165.2 486.5,2165.2 489.5,2165.2 492.5,2165.2 495.5,2165.2 498.5,2165.2 501.4,2165.2 504.4,2165.2 507.4,2165.2 510.4,2165.2 513.4,2165.2 516.3,2165.2 519.3,2165.2 522.3,2165.2 525.3,2165.2 528.2,2165.3 531.2,2165.3 534.2,2165.3 537.2,2165.3 540.2,2165.3 543.1,2165.3 546.1,2165.4 549.1,2165.4 552.1,2165.4 555.1,2165.4 558.1,2165.5 561.1,2165.5 564.1,2165.5 567.1,2165.5 570.1,2165.6 573.1,2165.6 576.1,2165.6 579.1,2165.6 582.1,2165.7 585.2,2165.7 588.2,2165.7 591.2,2165.7 594.3,2165.7 597.3,2165.8 600.4,2165.8 603.4,2165.8 606.5,2165.8 609.6,2165.8 612.6,2165.9 615.7,2165.9 618.8,2166.0 621.9,2166.0 624.9,2166.1 628.0,2166.2 631.1,2166.3 634.1,2166.4 637.2,2166.5 640.3,2166.7 643.3,2166.9 646.4,2167.1 649.4,2167.3 652.4,2167.6 655.4,2167.9 658.4,2168.2 661.4,2168.6 664.4,2169.0 667.4,2169.5 670.3,2170.0 673.3,2170.5 676.2,2171.1 679.1,2171.7 682.0,2172.4 684.8,2173.2 687.7,2174.0 690.5,2174.8 693.3,2175.7 696.0,2176.7 698.8,2177.7 701.5,2178.8 704.2,2179.9 706.8,2181.2 709.5,2182.5 712.1,2183.8 714.7,2185.3 717.2,2186.8 719.7,2188.4 722.2,2190.0 724.7,2191.7 727.1,2193.5 729.5,2195.3 731.9,2197.2 734.3,2199.1 736.7,2201.0 739.0,2203.0 741.4,2204.9 743.7,2207.0 746.0,2209.0 748.4,2211.0 750.7,2213.1 753.1,2215.1 755.4,2217.1 757.7,2219.2 760.1,2221.2 762.5,2223.2 764.8,2225.1 767.2,2227.1 769.7,2229.0 772.1,2230.8 774.5,2232.6 777.0,2234.4 779.5,2236.1 782.0,2237.8 784.6,2239.3 787.2,2240.8 789.7,2242.2 792.3,2243.5 795.0,2244.7 797.6,2245.8 800.2,2246.8 802.9,2247.7 805.6,2248.4 808.3,2249.0 811.0,2249.5 813.7,2249.8 816.5,2249.9 819.2,2249.9 822.0,2249.7 824.7,2249.5 827.5,2249.1 830.3,2248.5 833.1,2247.9 835.9,2247.2 838.7,2246.4 841.6,2245.5 844.4,2244.5 847.2,2243.5 850.1,2242.4 852.9,2241.3 855.8,2240.1 858.7,2238.9 861.5,2237.6 864.4,2236.4 867.3,2235.1 870.2,2233.9 873.1,2232.6 876.0,2231.4 878.9,2230.2 881.8,2229.0 884.7,2227.9 887.6,2226.8 890.5,2225.8 893.4,2224.8 896.4,2223.9 899.3,2223.1 902.2,2222.3 905.1,2221.6 908.0,2221.0 911.0,2220.4 913.9,2219.8 916.8,2219.3 919.8,2218.9 922.7,2218.5 925.6,2218.1 928.6,2217.8 931.5,2217.5 934.5,2217.2 937.4,2217.0 940.4,2216.8 943.3,2216.7 946.3,2216.5 949.2,2216.4 952.2,2216.3 955.2,2216.2 958.2,2216.2 961.1,2216.1 964.1,2216.1 967.1,2216.1 970.1,2216.1 973.1,2216.1 976.1,2216.1 979.1,2216.2 982.0,2216.2 985.0,2216.3 988.0,2216.3 991.1,2216.4 994.1,2216.5 997.1,2216.6 1000.1,2216.7 1003.1,2216.8 1006.1,2216.9 1009.1,2217.0 1012.1,2217.1 1015.1,2217.2 1018.2,2217.3 1021.2,2217.5 1024.2,2217.6 1027.2,2217.7 1030.2,2217.8 1033.3,2218.0 1036.3,2218.1 1039.3,2218.2 1042.3,2218.3 1045.4,2218.4 1048.4,2218.6 1051.4,2218.7 1054.4,2218.8 1057.4,2218.9 1060.5,2219.0 1063.5,2219.1 1066.5,2219.1 1069.5,2219.2 1072.5,2219.3 1075.6,2219.3 1078.6,2219.4 1081.6,2219.4 1084.6,2219.4 1087.6,2219.4 1090.6,2219.4 1093.6,2219.4 1096.6,2219.3 1099.6,2219.3 1102.6,2219.2 1105.6,2219.2 1108.6,2219.1 1111.6,2218.9 1114.6,2218.8 1117.6,2218.7 1120.6,2218.5 1123.6,2218.4 1126.6,2218.2 1129.6,2218.1 1132.6,2217.9 1135.5,2217.7 1138.5,2217.5 1141.5,2217.3 1144.5,2217.2 1147.5,2217.0 1150.5,2216.8 1153.5,2216.7 1156.5,2216.5 1159.5,2216.3 1162.4,2216.2 1165.4,2216.1 1168.4,2216.0 1171.4,2215.9 1174.4,2215.8 1177.4,2215.7 1180.4,2215.6 1183.5,2215.6 1186.5,2215.6 1189.5,2215.6 1192.5,2215.6 1195.5,2215.7 1198.5,2215.8 1201.6,2215.9 1204.6,2216.0 1207.7,2216.2 1210.7,2216.4 1213.7,2216.6 1216.8,2216.9 1219.8,2217.1 1222.9,2217.4 1225.9,2217.6 1229.0,2217.9 1232.0,2218.1 1235.0,2218.4 1238.1,2218.6 1241.1,2218.8 1244.1,2218.9 1247.1,2219.0 1250.1,2219.1 1253.1,2219.1 1256.0,2219.1 1259.0,2219.0 1261.9,2218.9 1264.9,2218.7 1267.8,2218.4 1270.7,2218.0 1273.5,2217.5 1276.4,2217.0 1279.2,2216.4 1282.0,2215.7 1284.8,2214.9 1287.6,2214.0 1290.3,2213.1 1293.1,2212.1 1295.8,2211.0 1298.5,2209.9 1301.2,2208.7 1303.9,2207.5 1306.6,2206.3 1309.3,2205.0 1312.0,2203.7 1314.7,2202.3 1317.3,2201.0 1320.0,2199.6 1322.7,2198.2 1325.3,2196.7 1328.0,2195.3 1330.7,2193.9 1333.3,2192.5 1336.0,2191.0 1338.7,2189.6 1341.4,2188.2 1344.0,2186.8 1346.7,2185.4 1349.4,2184.0 1352.1,2182.7 1354.8,2181.4 1357.5,2180.1 1360.3,2178.9 1363.0,2177.7 1365.7,2176.6 1368.5,2175.5 1371.3,2174.4 1374.1,2173.4 1376.9,2172.5 1379.7,2171.7 1382.5,2170.9 1385.4,2170.1 1388.2,2169.5 1391.1,2168.9 1394.0,2168.5 1397.0,2168.1 1399.9,2167.7 1402.9,2167.5 1405.8,2167.3 1408.8,2167.1 1411.8,2167.0 1414.8,2166.9 1417.8,2166.9 1420.9,2166.9 1423.9,2166.9 1426.9,2166.9 1429.9,2167.0 1433.0,2167.0 1436.0,2167.1 1439.0,2167.1 1442.1,2167.1 1445.1,2167.2 1448.1,2167.2 1451.1,2167.3 1454.2,2167.3 1457.2,2167.3 1460.2,2167.4 1463.2,2167.4 1466.3,2167.4 1469.3,2167.4 1472.3,2167.5 1475.3,2167.5 1478.3,2167.5 1481.4,2167.5 1484.4,2167.6 1487.4,2167.6 1490.4,2167.6 1493.4,2167.6 1496.4,2167.6 1499.5,2167.6 1502.5,2167.7 1505.5,2167.7 1508.5,2167.7 1511.5,2167.7 1514.5,2167.7 1517.5,2167.7 1520.6,2167.7 1523.6,2167.7 1526.6,2167.7 1529.6,2167.7 1532.6,2167.7 1535.6,2167.7 1538.6,2167.7 1541.6,2167.8 1544.6,2167.8 1547.7,2167.8 1550.7,2167.8 1553.7,2167.8 1556.7,2167.8 1559.7,2167.8 1562.7,2167.7 1565.7,2167.7 1568.7,2167.7 1571.7,2167.7 1574.7,2167.7 1577.7,2167.7 1580.7,2167.7 1583.7,2167.7 1586.7,2167.7 1589.7,2167.7 1592.7,2167.7 1595.8,2167.7 1598.8,2167.7 1601.8,2167.7 1604.8,2167.7 1607.8,2167.6 1610.8,2167.6 1613.8,2167.6 1616.8,2167.6 1619.8,2167.6 1622.8,2167.6 1625.8,2167.6 1628.8,2167.6 1631.8,2167.5 1634.8,2167.5 1637.8,2167.5 1640.8,2167.5 1643.8,2167.5 1646.8,2167.5 1649.8,2167.5 1652.8,2167.5 1655.8,2167.4 1658.8,2167.4 1661.8,2167.4 1664.8,2167.4 1667.8,2167.4 1670.8,2167.4 1673.8,2167.4 1676.8,2167.3 1679.8,2167.3 1682.8,2167.3 1685.8,2167.3 1688.8,2167.3 1691.8,2167.3 1694.8,2167.3 1697.9,2167.3 1700.9,2167.2 1703.9,2167.2 1706.9,2167.2 1709.9,2167.2 1712.9,2167.2 1715.9,2167.2 1718.9,2167.2 1721.9,2167.2 1724.9,2167.1 1727.9,2167.1 1730.9,2167.1 1733.9,2167.1 1736.9,2167.1 1739.9,2167.1 1742.9,2167.1 1745.9,2167.1 1748.9,2167.0 1751.9,2167.0 1754.9,2167.0 1757.9,2167.0 1761.0,2167.0 1764.0,2167.0 1767.0,2167.0 1770.0,2167.0 1773.0,2167.0 1776.0,2166.9 1779.0,2166.9 1782.0,2166.9 1785.0,2166.9 1788.0,2166.9 1791.0,2166.9 1794.0,2166.9 1797.0,2166.9 1800.0,2166.9 1803.0,2166.9 1806.0,2166.8 1809.0,2166.8 1812.1,2166.8 1815.1,2166.8 1818.1,2166.8 1821.1,2166.8 1824.1,2166.8 1827.1,2166.8 1830.1,2166.8 1833.1,2166.8 1836.1,2166.8 1839.1,2166.7 1842.1,2166.7 1845.1,2166.7 1848.1,2166.7 1851.1,2166.7 1854.2,2166.7 1857.2,2166.7 1860.2,2166.7 1863.2,2166.7 1866.2,2166.7 1869.2,2166.7 1872.2,2166.6 1875.2,2166.6 1878.2,2166.6 1881.2,2166.6 1884.2,2166.6 1887.2,2166.6 1890.2,2166.6 1893.3,2166.6 1896.3,2166.6 1899.3,2166.6 1902.3,2166.6 1905.3,2166.6 1908.3,2166.5 1911.3,2166.5 1914.3,2166.5 1917.3,2166.5 1920.3,2166.5 1923.3,2166.5 1926.3,2166.5 1929.3,2166.5 1932.4,2166.5 1935.4,2166.5 1938.4,2166.5 1941.4,2166.5 1944.4,2166.4 1947.4,2166.4 1950.4,2166.4 1953.4,2166.4 1956.4,2166.4 1959.4,2166.4 1962.4,2166.4 1965.4,2166.4 1968.5,2166.4 1971.5,2166.4 1974.5,2166.4 1977.5,2166.4 1980.5,2166.4 1983.5,2166.4 1986.5,2166.3 1989.5,2166.3 1992.5,2166.3 1995.5,2166.3 1998.5,2166.3 2001.5,2166.3 2004.5,2166.3 2007.6,2166.3 2010.6,2166.3 2013.6,2166.3 2016.6,2166.3 2019.6,2166.3 2022.6,2166.3 2025.6,2166.2 2028.6,2166.2 2031.6,2166.2 2034.6,2166.2 2037.6,2166.2 2040.6,2166.2 2043.6,2166.2 2046.6,2166.2 2049.7,2166.2 2052.7,2166.2 2055.7,2166.2 2058.7,2166.2 2061.7,2166.2 2064.7,2166.1 2067.7,2166.1 2070.7,2166.1 2073.7,2166.1 2076.7,2166.1 2079.7,2166.1 2082.7,2166.1 2085.7,2166.1 2088.7,2166.1 2091.7,2166.1 2094.8,2166.1 2097.8,2166.1 2100.8,2166.0 2103.8,2166.0 2106.8,2166.0 2109.8,2166.0 2112.8,2166.0 2115.8,2166.0 2118.8,2166.0 2121.8,2166.0 2124.8,2166.0 2127.8,2166.0 2130.8,2166.0 2133.8,2166.0 2136.8,2165.9 2139.8,2165.9 2142.8,2165.9 2145.9,2165.9 2148.9,2165.9 2151.9,2165.9 2154.9,2165.9 2157.9,2165.9 2160.9,2165.9 2163.9,2165.9 2166.9,2165.9 2169.9,2165.8 2172.9,2165.8 2175.9,2165.8 2178.9,2165.8 2181.9,2165.8 2184.9,2165.8 2187.9,2165.8 2190.9,2165.8 2193.9,2165.8 2196.9,2165.8 2199.9,2165.8 2202.9,2165.7 2205.9,2165.7 2208.9,2165.7 2211.9,2165.7 2214.9,2165.7 2217.9,2165.7 2220.9,2165.7 2223.9,2165.7" fill="none" stroke="#7689E9" stroke-width="12" stroke-linejoin="round" stroke-linecap="butt"/>
<path d="M232.2,2473.5L235.1,2473.5 238.1,2473.5 241.1,2473.5 244.1,2473.4 247.1,2473.4 250.0,2473.4 253.0,2473.4 256.0,2473.4 259.0,2473.3 262.0,2473.3 265.0,2473.3 268.0,2473.3 271.0,2473.3 274.0,2473.2 276.9,2473.2 279.9,2473.2 282.9,2473.2 285.9,2473.1 288.9,2473.1 291.9,2473.1 294.9,2473.1 297.9,2473.0 301.0,2473.0 304.0,2473.0 307.0,2473.0 310.0,2472.9 313.0,2472.9 316.0,2472.9 319.0,2472.9 322.0,2472.8 325.0,2472.8 328.0,2472.8 331.0,2472.8 334.1,2472.8 337.1,2472.7 340.1,2472.7 343.1,2472.7 346.1,2472.7 349.1,2472.6 352.1,2472.6 355.2,2472.6 358.2,2472.6 361.2,2472.5 364.2,2472.5 367.2,2472.5 370.2,2472.5 373.3,2472.4 376.3,2472.4 379.3,2472.4 382.3,2472.4 385.3,2472.4 388.3,2472.3 391.3,2472.3 394.4,2472.3 397.4,2472.3 400.4,2472.3 403.4,2472.2 406.4,2472.2 409.4,2472.2 412.4,2472.2 415.5,2472.2 418.5,2472.1 421.5,2472.1 424.5,2472.1 427.5,2472.1 430.5,2472.1 433.5,2472.1 436.5,2472.1 439.5,2472.0 442.5,2472.0 445.5,2472.0 448.5,2472.0 451.6,2472.0 454.6,2472.0 457.6,2472.0 460.6,2472.0 463.6,2472.0 466.6,2472.0 469.5,2471.9 472.5,2471.9 475.5,2471.9 478.5,2471.9 481.5,2471.9 484.5,2471.9 487.5,2471.9 490.5,2471.9 493.5,2471.9 496.5,2471.9 499.4,2471.9 502.4,2471.9 505.4,2471.9 508.4,2471.9 511.3,2472.0 514.3,2472.0 517.3,2472.0 520.3,2472.0 523.2,2472.0 526.2,2472.0 529.2,2472.0 532.1,2472.0 535.1,2472.0 538.1,2472.0 541.0,2472.0 544.0,2472.0 547.0,2472.0 550.0,2472.0 553.0,2472.0 556.0,2472.0 559.0,2472.0 562.0,2472.0 565.0,2472.0 568.0,2471.9 571.1,2471.9 574.1,2471.8 577.2,2471.8 580.3,2471.7 583.4,2471.6 586.5,2471.5 589.6,2471.4 592.8,2471.3 596.0,2471.2 599.1,2471.1 602.3,2470.9 605.5,2470.8 608.7,2470.7 611.9,2470.6 615.0,2470.6 618.2,2470.6 621.3,2470.7 624.4,2470.9 627.4,2471.1 630.4,2471.4 633.3,2471.9 636.2,2472.4 639.0,2473.0 641.8,2473.8 644.4,2474.7 647.0,2475.8 649.5,2477.0 651.9,2478.4 654.2,2479.9 656.4,2481.6 658.5,2483.4 660.5,2485.4 662.4,2487.5 664.3,2489.7 666.1,2492.0 667.7,2494.4 669.4,2497.0 670.9,2499.6 672.4,2502.2 673.8,2505.0 675.1,2507.8 676.4,2510.6 677.6,2513.5 678.8,2516.4 679.9,2519.3 680.9,2522.2 681.9,2525.1 682.9,2528.1 683.8,2531.0 684.7,2533.9 685.5,2536.7 686.3,2539.6 687.1,2542.4 687.8,2545.3 688.5,2548.1 689.2,2551.0 689.8,2553.8 690.4,2556.7 691.0,2559.5 691.6,2562.4 692.2,2565.2 692.7,2568.1 693.3,2571.0 693.8,2574.0 694.4,2576.9 694.9,2579.9 695.4,2582.9 695.9,2585.9 696.5,2589.0 697.0,2592.0 697.6,2595.1 698.2,2598.2 698.8,2601.2 699.4,2604.3 700.1,2607.4 700.8,2610.4 701.5,2613.5 702.3,2616.5 703.2,2619.4 704.1,2622.4 705.0,2625.3 706.0,2628.2 707.1,2631.0 708.2,2633.8 709.4,2636.6 710.7,2639.2 712.1,2641.9 713.5,2644.4 715.0,2646.9 716.7,2649.3 718.4,2651.5 720.3,2653.4 722.2,2654.8 724.4,2655.6 726.6,2655.7 728.9,2655.3 731.1,2654.4 733.2,2653.2 735.2,2651.6 737.1,2649.8 738.9,2647.7 740.6,2645.3 742.3,2642.8 743.8,2640.1 745.3,2637.2 746.8,2634.2 748.2,2631.1 749.6,2628.0 751.0,2624.8 752.4,2621.6 753.7,2618.5 755.1,2615.4 756.5,2612.3 758.0,2609.4 759.4,2606.6 761.0,2604.0 762.5,2601.5 764.2,2599.1 765.8,2596.8 767.6,2594.6 769.3,2592.5 771.2,2590.5 773.1,2588.5 775.0,2586.6 777.0,2584.7 779.1,2582.9 781.3,2581.1 783.5,2579.3 785.8,2577.6 788.1,2575.9 790.5,2574.2 792.9,2572.6 795.4,2571.0 797.9,2569.4 800.5,2567.9 803.2,2566.4 805.8,2565.0 808.5,2563.6 811.3,2562.3 814.1,2561.0 816.9,2559.7 819.7,2558.5 822.6,2557.4 825.5,2556.3 828.4,2555.3 831.3,2554.3 834.3,2553.3 837.3,2552.5 840.2,2551.7 843.2,2550.9 846.2,2550.2 849.3,2549.6 852.3,2549.1 855.3,2548.6 858.3,2548.2 861.3,2547.8 864.3,2547.5 867.3,2547.3 870.3,2547.2 873.3,2547.1 876.3,2547.1 879.3,2547.1 882.3,2547.2 885.2,2547.3 888.2,2547.4 891.2,2547.6 894.1,2547.8 897.1,2548.0 900.0,2548.2 903.0,2548.5 905.9,2548.7 908.9,2548.9 911.8,2549.1 914.8,2549.3 917.7,2549.4 920.7,2549.6 923.6,2549.6 926.6,2549.7 929.5,2549.7 932.5,2549.6 935.5,2549.5 938.5,2549.3 941.4,2549.0 944.4,2548.7 947.4,2548.4 950.4,2547.9 953.3,2547.4 956.3,2546.9 959.3,2546.3 962.2,2545.6 965.2,2544.8 968.1,2544.1 971.0,2543.2 973.9,2542.3 976.8,2541.3 979.7,2540.3 982.5,2539.2 985.3,2538.1 988.1,2536.9 990.9,2535.6 993.7,2534.3 996.4,2533.0 999.1,2531.7 1001.9,2530.3 1004.6,2529.0 1007.3,2527.7 1010.0,2526.4 1012.8,2525.2 1015.5,2524.0 1018.3,2522.9 1021.0,2521.9 1023.9,2520.9 1026.7,2520.1 1029.5,2519.3 1032.4,2518.7 1035.4,2518.3 1038.4,2517.9 1041.3,2517.7 1044.4,2517.5 1047.4,2517.3 1050.4,2517.2 1053.5,2517.1 1056.5,2517.0 1059.6,2516.9 1062.6,2516.8 1065.6,2516.6 1068.6,2516.4 1071.7,2516.1 1074.7,2515.9 1077.7,2515.6 1080.7,2515.3 1083.7,2515.0 1086.6,2514.7 1089.6,2514.4 1092.6,2514.0 1095.6,2513.7 1098.6,2513.3 1101.6,2513.0 1104.5,2512.6 1107.5,2512.2 1110.5,2511.9 1113.5,2511.5 1116.4,2511.2 1119.4,2510.8 1122.4,2510.5 1125.4,2510.1 1128.3,2509.8 1131.3,2509.5 1134.3,2509.2 1137.3,2509.0 1140.3,2508.7 1143.3,2508.5 1146.3,2508.2 1149.3,2508.0 1152.3,2507.8 1155.3,2507.7 1158.3,2507.5 1161.3,2507.3 1164.3,2507.1 1167.3,2507.0 1170.3,2506.8 1173.3,2506.7 1176.3,2506.5 1179.3,2506.4 1182.3,2506.2 1185.3,2506.1 1188.3,2505.9 1191.3,2505.7 1194.3,2505.6 1197.3,2505.4 1200.3,2505.2 1203.3,2505.0 1206.3,2504.8 1209.3,2504.6 1212.3,2504.3 1215.3,2504.1 1218.3,2503.8 1221.3,2503.5 1224.3,2503.2 1227.3,2502.9 1230.3,2502.5 1233.2,2502.1 1236.2,2501.7 1239.2,2501.3 1242.2,2500.9 1245.1,2500.4 1248.1,2499.9 1251.0,2499.3 1254.0,2498.8 1256.9,2498.2 1259.9,2497.6 1262.8,2497.0 1265.8,2496.3 1268.7,2495.7 1271.7,2495.0 1274.6,2494.4 1277.5,2493.7 1280.5,2493.0 1283.4,2492.3 1286.4,2491.6 1289.3,2490.9 1292.2,2490.2 1295.2,2489.5 1298.1,2488.8 1301.0,2488.1 1304.0,2487.4 1306.9,2486.7 1309.8,2486.0 1312.8,2485.3 1315.7,2484.7 1318.7,2484.0 1321.6,2483.4 1324.5,2482.8 1327.5,2482.2 1330.4,2481.7 1333.4,2481.1 1336.3,2480.6 1339.3,2480.1 1342.3,2479.6 1345.2,2479.1 1348.2,2478.7 1351.1,2478.2 1354.1,2477.8 1357.1,2477.4 1360.0,2477.0 1363.0,2476.7 1366.0,2476.3 1369.0,2476.0 1371.9,2475.6 1374.9,2475.3 1377.9,2475.0 1380.9,2474.7 1383.9,2474.4 1386.8,2474.2 1389.8,2473.9 1392.8,2473.7 1395.8,2473.5 1398.8,2473.2 1401.8,2473.0 1404.8,2472.8 1407.8,2472.7 1410.8,2472.5 1413.8,2472.3 1416.8,2472.2 1419.7,2472.0 1422.7,2471.9 1425.7,2471.8 1428.7,2471.6 1431.7,2471.5 1434.7,2471.4 1437.7,2471.3 1440.7,2471.2 1443.7,2471.2 1446.7,2471.1 1449.8,2471.0 1452.8,2470.9 1455.8,2470.9 1458.8,2470.8 1461.8,2470.8 1464.8,2470.7 1467.8,2470.7 1470.8,2470.6 1473.8,2470.6 1476.8,2470.6 1479.8,2470.5 1482.8,2470.5 1485.8,2470.5 1488.8,2470.5 1491.8,2470.4 1494.8,2470.4 1497.8,2470.4 1500.8,2470.4 1503.8,2470.4 1506.9,2470.3 1509.9,2470.3 1512.9,2470.3 1515.9,2470.3 1518.9,2470.3 1521.9,2470.3 1524.9,2470.3 1527.9,2470.3 1530.9,2470.3 1533.9,2470.3 1536.9,2470.3 1539.9,2470.3 1542.9,2470.2 1545.9,2470.2 1548.9,2470.2 1551.9,2470.2 1554.9,2470.2 1557.9,2470.3 1560.9,2470.3 1564.0,2470.3 1567.0,2470.3 1570.0,2470.3 1573.0,2470.3 1576.0,2470.3 1579.0,2470.3 1582.0,2470.3 1585.0,2470.3 1588.0,2470.3 1591.0,2470.3 1594.0,2470.3 1597.0,2470.3 1600.0,2470.3 1603.0,2470.3 1606.0,2470.4 1609.0,2470.4 1612.0,2470.4 1615.0,2470.4 1618.0,2470.4 1621.0,2470.4 1624.1,2470.4 1627.1,2470.4 1630.1,2470.4 1633.1,2470.4 1636.1,2470.4 1639.1,2470.4 1642.1,2470.4 1645.1,2470.5 1648.1,2470.5 1651.1,2470.5 1654.1,2470.5 1657.1,2470.5 1660.1,2470.5 1663.1,2470.5 1666.1,2470.5 1669.1,2470.5 1672.1,2470.5 1675.1,2470.5 1678.1,2470.5 1681.1,2470.5 1684.1,2470.5 1687.2,2470.5 1690.2,2470.5 1693.2,2470.5 1696.2,2470.5 1699.2,2470.6 1702.2,2470.6 1705.2,2470.6 1708.2,2470.6 1711.2,2470.6 1714.2,2470.6 1717.2,2470.6 1720.2,2470.6 1723.2,2470.6 1726.2,2470.6 1729.2,2470.6 1732.2,2470.6 1735.2,2470.6 1738.2,2470.6 1741.2,2470.6 1744.2,2470.6 1747.2,2470.6 1750.3,2470.6 1753.3,2470.6 1756.3,2470.6 1759.3,2470.6 1762.3,2470.6 1765.3,2470.6 1768.3,2470.6 1771.3,2470.6 1774.3,2470.6 1777.3,2470.6 1780.3,2470.6 1783.3,2470.6 1786.3,2470.6 1789.3,2470.6 1792.3,2470.6 1795.3,2470.6 1798.3,2470.6 1801.3,2470.6 1804.3,2470.6 1807.3,2470.6 1810.3,2470.6 1813.4,2470.6 1816.4,2470.6 1819.4,2470.6 1822.4,2470.6 1825.4,2470.6 1828.4,2470.6 1831.4,2470.6 1834.4,2470.6 1837.4,2470.6 1840.4,2470.6 1843.4,2470.6 1846.4,2470.6 1849.4,2470.6 1852.4,2470.6 1855.4,2470.6 1858.4,2470.6 1861.4,2470.6 1864.4,2470.6 1867.4,2470.6 1870.4,2470.6 1873.4,2470.6 1876.5,2470.6 1879.5,2470.6 1882.5,2470.6 1885.5,2470.5 1888.5,2470.5 1891.5,2470.5 1894.5,2470.5 1897.5,2470.5 1900.5,2470.5 1903.5,2470.5 1906.5,2470.5 1909.5,2470.5 1912.5,2470.5 1915.5,2470.5 1918.5,2470.5 1921.5,2470.5 1924.5,2470.5 1927.5,2470.5 1930.5,2470.5 1933.5,2470.5 1936.5,2470.5 1939.6,2470.5 1942.6,2470.5 1945.6,2470.5 1948.6,2470.5 1951.6,2470.5 1954.6,2470.5 1957.6,2470.5 1960.6,2470.5 1963.6,2470.5 1966.6,2470.5 1969.6,2470.5 1972.6,2470.5 1975.6,2470.5 1978.6,2470.5 1981.6,2470.5 1984.6,2470.5 1987.6,2470.5 1990.6,2470.5 1993.6,2470.5 1996.6,2470.5 1999.6,2470.5 2002.7,2470.5 2005.7,2470.5 2008.7,2470.5 2011.7,2470.5 2014.7,2470.4 2017.7,2470.4 2020.7,2470.4 2023.7,2470.4 2026.7,2470.4 2029.7,2470.4 2032.7,2470.4 2035.7,2470.4 2038.7,2470.4 2041.7,2470.4 2044.7,2470.4 2047.7,2470.4 2050.7,2470.4 2053.7,2470.4 2056.7,2470.4 2059.7,2470.4 2062.7,2470.4 2065.8,2470.4 2068.8,2470.4 2071.8,2470.4 2074.8,2470.4 2077.8,2470.4 2080.8,2470.4 2083.8,2470.4 2086.8,2470.4 2089.8,2470.4 2092.8,2470.4 2095.8,2470.4 2098.8,2470.4 2101.8,2470.4 2104.8,2470.4 2107.8,2470.4 2110.8,2470.4 2113.8,2470.4 2116.8,2470.4 2119.8,2470.4 2122.8,2470.4 2125.8,2470.4 2128.9,2470.4 2131.9,2470.5 2134.9,2470.5 2137.9,2470.5 2140.9,2470.5 2143.9,2470.5 2146.9,2470.5 2149.9,2470.5 2152.9,2470.5 2155.9,2470.5 2158.9,2470.5 2161.9,2470.5 2164.9,2470.5 2167.9,2470.5 2170.9,2470.5 2173.9,2470.5 2176.9,2470.5 2179.9,2470.5 2182.9,2470.5 2185.9,2470.5 2188.9,2470.5 2192.0,2470.5 2195.0,2470.5 2198.0,2470.5 2201.0,2470.6 2204.0,2470.6 2207.0,2470.6 2210.0,2470.6 2213.0,2470.6 2216.0,2470.6 2219.0,2470.6 2222.0,2470.6" fill="none" stroke="#37AD6B" stroke-width="12" stroke-linejoin="round" stroke-linecap="butt"/>
<path d="M232.0,2779.5L235.0,2779.5 238.0,2779.5 241.0,2779.5 244.0,2779.5 247.1,2779.5 250.1,2779.5 253.1,2779.4 256.1,2779.4 259.1,2779.3 262.1,2779.2 265.1,2779.2 268.1,2779.1 271.1,2779.0 274.1,2778.9 277.1,2778.8 280.1,2778.7 283.1,2778.6 286.2,2778.5 289.2,2778.4 292.2,2778.3 295.2,2778.2 298.2,2778.1 301.2,2777.9 304.2,2777.8 307.2,2777.7 310.2,2777.6 313.2,2777.5 316.2,2777.4 319.2,2777.3 322.2,2777.2 325.2,2777.1 328.2,2777.0 331.2,2776.9 334.2,2776.9 337.2,2776.8 340.2,2776.7 343.2,2776.7 346.2,2776.6 349.2,2776.6 352.2,2776.6 355.2,2776.6 358.2,2776.6 361.2,2776.6 364.2,2776.6 367.3,2776.6 370.3,2776.7 373.3,2776.8 376.3,2776.8 379.3,2776.9 382.3,2777.0 385.3,2777.1 388.3,2777.2 391.3,2777.3 394.4,2777.4 397.4,2777.5 400.4,2777.6 403.4,2777.8 406.4,2777.9 409.4,2778.0 412.4,2778.2 415.4,2778.3 418.5,2778.4 421.5,2778.6 424.5,2778.7 427.5,2778.9 430.5,2779.0 433.5,2779.1 436.5,2779.3 439.5,2779.4 442.5,2779.5 445.5,2779.7 448.5,2779.8 451.5,2779.9 454.5,2780.0 457.5,2780.1 460.5,2780.2 463.5,2780.3 466.5,2780.3 469.5,2780.4 472.5,2780.4 475.5,2780.5 478.5,2780.5 481.5,2780.5 484.5,2780.5 487.5,2780.5 490.4,2780.5 493.4,2780.5 496.4,2780.5 499.4,2780.4 502.4,2780.4 505.4,2780.4 508.3,2780.3 511.3,2780.2 514.3,2780.2 517.3,2780.1 520.3,2780.0 523.3,2779.9 526.3,2779.8 529.3,2779.7 532.3,2779.7 535.3,2779.6 538.2,2779.4 541.2,2779.3 544.2,2779.2 547.2,2779.1 550.3,2779.0 553.3,2778.9 556.3,2778.8 559.3,2778.7 562.3,2778.5 565.3,2778.4 568.4,2778.3 571.4,2778.2 574.4,2778.1 577.4,2778.0 580.5,2777.9 583.5,2777.8 586.6,2777.7 589.6,2777.6 592.7,2777.5 595.8,2777.4 598.8,2777.3 601.9,2777.2 605.0,2777.2 608.0,2777.2 611.1,2777.2 614.1,2777.2 617.2,2777.4 620.2,2777.5 623.2,2777.8 626.2,2778.0 629.1,2778.4 632.0,2778.9 634.9,2779.4 637.8,2780.1 640.6,2780.8 643.4,2781.7 646.2,2782.7 648.9,2783.8 651.5,2785.0 654.2,2786.4 656.7,2787.9 659.2,2789.5 661.6,2791.2 664.0,2793.0 666.3,2795.0 668.5,2797.0 670.6,2799.2 672.6,2801.4 674.5,2803.7 676.3,2806.1 677.9,2808.6 679.5,2811.1 680.9,2813.7 682.3,2816.4 683.5,2819.1 684.6,2821.9 685.7,2824.7 686.6,2827.5 687.6,2830.4 688.4,2833.3 689.3,2836.2 690.1,2839.1 691.0,2842.0 691.8,2844.9 692.7,2847.8 693.5,2850.6 694.4,2853.5 695.3,2856.4 696.3,2859.3 697.3,2862.3 698.3,2865.2 699.3,2868.1 700.4,2871.1 701.6,2874.1 702.8,2877.2 704.0,2880.2 705.4,2883.3 706.8,2886.3 708.3,2889.3 709.9,2892.2 711.5,2894.9 713.3,2897.4 715.2,2899.7 717.2,2901.8 719.4,2903.6 721.7,2905.0 724.0,2906.1 726.5,2907.0 729.0,2907.6 731.6,2907.8 734.2,2907.9 736.7,2907.6 739.3,2907.1 741.8,2906.4 744.2,2905.5 746.6,2904.3 748.9,2902.9 751.2,2901.3 753.3,2899.6 755.5,2897.6 757.6,2895.6 759.6,2893.4 761.6,2891.1 763.6,2888.8 765.6,2886.3 767.5,2883.8 769.5,2881.2 771.4,2878.6 773.4,2876.0 775.3,2873.4 777.3,2870.8 779.3,2868.2 781.3,2865.7 783.4,2863.2 785.5,2860.8 787.6,2858.6 789.8,2856.4 792.1,2854.3 794.4,2852.4 796.8,2850.7 799.3,2849.1 801.8,2847.7 804.4,2846.5 807.1,2845.4 809.9,2844.6 812.7,2843.8 815.6,2843.2 818.5,2842.8 821.4,2842.4 824.4,2842.2 827.4,2842.1 830.5,2842.1 833.6,2842.2 836.7,2842.4 839.8,2842.7 842.9,2843.0 846.0,2843.4 849.1,2843.9 852.1,2844.4 855.2,2844.9 858.3,2845.5 861.3,2846.2 864.3,2846.8 867.4,2847.5 870.4,2848.2 873.4,2848.9 876.3,2849.7 879.3,2850.4 882.3,2851.2 885.2,2852.0 888.2,2852.8 891.1,2853.6 894.0,2854.4 897.0,2855.2 899.9,2856.0 902.8,2856.8 905.7,2857.5 908.6,2858.3 911.5,2859.0 914.4,2859.7 917.3,2860.4 920.2,2861.1 923.1,2861.7 926.0,2862.3 928.8,2862.9 931.7,2863.4 934.6,2863.9 937.5,2864.3 940.4,2864.7 943.3,2865.0 946.2,2865.3 949.2,2865.5 952.1,2865.6 955.0,2865.7 957.9,2865.8 960.9,2865.7 963.8,2865.6 966.8,2865.4 969.8,2865.2 972.7,2864.9 975.7,2864.5 978.7,2864.2 981.7,2863.8 984.7,2863.3 987.7,2862.9 990.7,2862.4 993.7,2862.0 996.7,2861.5 999.7,2861.1 1002.8,2860.7 1005.8,2860.3 1008.8,2859.9 1011.8,2859.6 1014.9,2859.3 1017.9,2859.1 1021.0,2858.9 1024.0,2858.8 1027.1,2858.8 1030.1,2858.8 1033.1,2858.8 1036.2,2858.9 1039.2,2859.0 1042.3,2859.1 1045.3,2859.3 1048.3,2859.4 1051.3,2859.5 1054.3,2859.6 1057.3,2859.6 1060.3,2859.6 1063.3,2859.6 1066.3,2859.4 1069.2,2859.3 1072.1,2859.0 1075.1,2858.6 1078.0,2858.2 1080.8,2857.6 1083.7,2856.9 1086.5,2856.1 1089.4,2855.2 1092.2,2854.2 1095.0,2853.1 1097.7,2852.0 1100.5,2850.8 1103.3,2849.5 1106.1,2848.2 1108.8,2846.9 1111.6,2845.5 1114.3,2844.1 1117.1,2842.8 1119.8,2841.4 1122.6,2840.0 1125.3,2838.7 1128.1,2837.4 1130.9,2836.2 1133.7,2835.0 1136.5,2833.9 1139.3,2832.8 1142.1,2831.7 1144.9,2830.7 1147.8,2829.8 1150.6,2828.9 1153.5,2828.0 1156.3,2827.1 1159.2,2826.3 1162.0,2825.5 1164.9,2824.7 1167.8,2824.0 1170.7,2823.3 1173.6,2822.5 1176.5,2821.8 1179.4,2821.1 1182.3,2820.4 1185.2,2819.8 1188.1,2819.1 1191.0,2818.4 1193.9,2817.7 1196.8,2816.9 1199.7,2816.2 1202.6,2815.5 1205.5,2814.7 1208.4,2813.9 1211.3,2813.1 1214.2,2812.3 1217.1,2811.5 1220.0,2810.7 1222.9,2809.8 1225.8,2809.0 1228.7,2808.1 1231.6,2807.3 1234.5,2806.4 1237.4,2805.5 1240.3,2804.6 1243.2,2803.8 1246.1,2802.9 1249.0,2802.0 1251.9,2801.2 1254.8,2800.3 1257.7,2799.5 1260.7,2798.6 1263.6,2797.8 1266.5,2797.0 1269.4,2796.2 1272.3,2795.4 1275.2,2794.6 1278.2,2793.9 1281.1,2793.1 1284.0,2792.4 1287.0,2791.7 1289.9,2791.0 1292.8,2790.4 1295.8,2789.8 1298.7,2789.1 1301.7,2788.6 1304.6,2788.0 1307.6,2787.4 1310.5,2786.9 1313.5,2786.4 1316.4,2785.9 1319.4,2785.4 1322.3,2784.9 1325.3,2784.5 1328.3,2784.1 1331.2,2783.6 1334.2,2783.2 1337.2,2782.9 1340.2,2782.5 1343.1,2782.1 1346.1,2781.8 1349.1,2781.5 1352.1,2781.2 1355.1,2780.9 1358.0,2780.6 1361.0,2780.3 1364.0,2780.1 1367.0,2779.8 1370.0,2779.6 1373.0,2779.4 1376.0,2779.1 1379.0,2778.9 1382.0,2778.7 1384.9,2778.6 1387.9,2778.4 1390.9,2778.2 1393.9,2778.1 1396.9,2777.9 1399.9,2777.8 1402.9,2777.7 1405.9,2777.6 1408.9,2777.4 1411.9,2777.3 1414.9,2777.2 1417.9,2777.1 1421.0,2777.0 1424.0,2777.0 1427.0,2776.9 1430.0,2776.8 1433.0,2776.7 1436.0,2776.7 1439.0,2776.6 1442.0,2776.6 1445.0,2776.5 1448.0,2776.5 1451.0,2776.4 1454.0,2776.4 1457.0,2776.3 1460.0,2776.3 1463.0,2776.2 1466.0,2776.2 1469.0,2776.2 1472.1,2776.1 1475.1,2776.1 1478.1,2776.1 1481.1,2776.1 1484.1,2776.0 1487.1,2776.0 1490.1,2776.0 1493.1,2776.0 1496.1,2776.0 1499.1,2776.0 1502.1,2775.9 1505.1,2775.9 1508.1,2775.9 1511.2,2775.9 1514.2,2775.9 1517.2,2775.9 1520.2,2775.9 1523.2,2775.9 1526.2,2775.9 1529.2,2775.9 1532.2,2775.9 1535.2,2776.0 1538.2,2776.0 1541.2,2776.0 1544.2,2776.0 1547.2,2776.0 1550.3,2776.0 1553.3,2776.0 1556.3,2776.1 1559.3,2776.1 1562.3,2776.1 1565.3,2776.1 1568.3,2776.1 1571.3,2776.2 1574.3,2776.2 1577.3,2776.2 1580.3,2776.2 1583.3,2776.3 1586.4,2776.3 1589.4,2776.3 1592.4,2776.3 1595.4,2776.4 1598.4,2776.4 1601.4,2776.4 1604.4,2776.5 1607.4,2776.5 1610.4,2776.5 1613.4,2776.6 1616.4,2776.6 1619.4,2776.6 1622.5,2776.7 1625.5,2776.7 1628.5,2776.7 1631.5,2776.8 1634.5,2776.8 1637.5,2776.8 1640.5,2776.9 1643.5,2776.9 1646.5,2776.9 1649.5,2777.0 1652.5,2777.0 1655.5,2777.1 1658.6,2777.1 1661.6,2777.1 1664.6,2777.2 1667.6,2777.2 1670.6,2777.2 1673.6,2777.3 1676.6,2777.3 1679.6,2777.3 1682.6,2777.3 1685.6,2777.4 1688.6,2777.4 1691.6,2777.4 1694.7,2777.5 1697.7,2777.5 1700.7,2777.5 1703.7,2777.5 1706.7,2777.6 1709.7,2777.6 1712.7,2777.6 1715.7,2777.6 1718.7,2777.7 1721.7,2777.7 1724.7,2777.7 1727.7,2777.7 1730.8,2777.7 1733.8,2777.8 1736.8,2777.8 1739.8,2777.8 1742.8,2777.8 1745.8,2777.8 1748.8,2777.9 1751.8,2777.9 1754.8,2777.9 1757.8,2777.9 1760.8,2777.9 1763.8,2777.9 1766.8,2777.9 1769.9,2778.0 1772.9,2778.0 1775.9,2778.0 1778.9,2778.0 1781.9,2778.0 1784.9,2778.0 1787.9,2778.0 1790.9,2778.0 1793.9,2778.0 1796.9,2778.0 1799.9,2778.1 1802.9,2778.1 1805.9,2778.1 1809.0,2778.1 1812.0,2778.1 1815.0,2778.1 1818.0,2778.1 1821.0,2778.1 1824.0,2778.1 1827.0,2778.1 1830.0,2778.1 1833.0,2778.1 1836.0,2778.1 1839.0,2778.1 1842.0,2778.1 1845.0,2778.1 1848.1,2778.1 1851.1,2778.1 1854.1,2778.1 1857.1,2778.1 1860.1,2778.1 1863.1,2778.1 1866.1,2778.1 1869.1,2778.1 1872.1,2778.1 1875.1,2778.1 1878.1,2778.1 1881.1,2778.1 1884.1,2778.1 1887.1,2778.1 1890.2,2778.1 1893.2,2778.0 1896.2,2778.0 1899.2,2778.0 1902.2,2778.0 1905.2,2778.0 1908.2,2778.0 1911.2,2778.0 1914.2,2778.0 1917.2,2778.0 1920.2,2778.0 1923.2,2778.0 1926.2,2778.0 1929.2,2777.9 1932.3,2777.9 1935.3,2777.9 1938.3,2777.9 1941.3,2777.9 1944.3,2777.9 1947.3,2777.9 1950.3,2777.9 1953.3,2777.8 1956.3,2777.8 1959.3,2777.8 1962.3,2777.8 1965.3,2777.8 1968.3,2777.8 1971.4,2777.8 1974.4,2777.7 1977.4,2777.7 1980.4,2777.7 1983.4,2777.7 1986.4,2777.7 1989.4,2777.7 1992.4,2777.6 1995.4,2777.6 1998.4,2777.6 2001.4,2777.6 2004.4,2777.6 2007.4,2777.6 2010.4,2777.5 2013.5,2777.5 2016.5,2777.5 2019.5,2777.5 2022.5,2777.5 2025.5,2777.4 2028.5,2777.4 2031.5,2777.4 2034.5,2777.4 2037.5,2777.4 2040.5,2777.3 2043.5,2777.3 2046.5,2777.3 2049.5,2777.3 2052.6,2777.3 2055.6,2777.2 2058.6,2777.2 2061.6,2777.2 2064.6,2777.2 2067.6,2777.2 2070.6,2777.1 2073.6,2777.1 2076.6,2777.1 2079.6,2777.1 2082.6,2777.0 2085.6,2777.0 2088.6,2777.0 2091.7,2777.0 2094.7,2777.0 2097.7,2776.9 2100.7,2776.9 2103.7,2776.9 2106.7,2776.9 2109.7,2776.8 2112.7,2776.8 2115.7,2776.8 2118.7,2776.8 2121.7,2776.7 2124.7,2776.7 2127.7,2776.7 2130.8,2776.7 2133.8,2776.7 2136.8,2776.6 2139.8,2776.6 2142.8,2776.6 2145.8,2776.6 2148.8,2776.5 2151.8,2776.5 2154.8,2776.5 2157.8,2776.5 2160.8,2776.4 2163.8,2776.4 2166.9,2776.4 2169.9,2776.4 2172.9,2776.3 2175.9,2776.3 2178.9,2776.3 2181.9,2776.3 2184.9,2776.2 2187.9,2776.2 2190.9,2776.2 2193.9,2776.2 2196.9,2776.1 2199.9,2776.1 2203.0,2776.1 2206.0,2776.1 2209.0,2776.0 2212.0,2776.0 2215.0,2776.0 2218.0,2776.0 2221.0,2776.0 2224.0,2775.9" fill="none" stroke="#1A6FDF" stroke-width="12" stroke-linejoin="round" stroke-linecap="butt"/>
<path d="M237.9,3085.8L240.9,3085.5 243.9,3085.1 246.9,3084.8 250.0,3084.5 253.0,3084.2 256.0,3083.9 259.0,3083.6 262.0,3083.4 265.0,3083.1 268.0,3082.9 271.0,3082.7 274.0,3082.5 277.0,3082.3 280.0,3082.1 283.1,3082.0 286.1,3081.8 289.1,3081.7 292.1,3081.6 295.1,3081.4 298.1,3081.3 301.1,3081.2 304.1,3081.2 307.1,3081.1 310.1,3081.0 313.1,3081.0 316.1,3080.9 319.1,3080.9 322.1,3080.8 325.1,3080.8 328.1,3080.8 331.1,3080.8 334.1,3080.8 337.1,3080.8 340.1,3080.8 343.1,3080.8 346.1,3080.9 349.1,3080.9 352.1,3080.9 355.1,3081.0 358.1,3081.0 361.1,3081.1 364.1,3081.1 367.1,3081.2 370.1,3081.2 373.1,3081.3 376.1,3081.4 379.1,3081.4 382.1,3081.5 385.1,3081.6 388.1,3081.6 391.1,3081.7 394.1,3081.8 397.1,3081.8 400.1,3081.9 403.1,3082.0 406.1,3082.1 409.1,3082.1 412.1,3082.2 415.1,3082.3 418.1,3082.3 421.1,3082.4 424.1,3082.5 427.1,3082.5 430.1,3082.6 433.1,3082.6 436.1,3082.7 439.1,3082.7 442.2,3082.7 445.2,3082.8 448.2,3082.8 451.2,3082.8 454.2,3082.8 457.2,3082.8 460.2,3082.8 463.2,3082.8 466.2,3082.8 469.3,3082.8 472.3,3082.8 475.3,3082.8 478.3,3082.7 481.3,3082.7 484.3,3082.6 487.4,3082.6 490.4,3082.5 493.4,3082.4 496.4,3082.4 499.4,3082.3 502.4,3082.2 505.5,3082.2 508.5,3082.1 511.5,3082.0 514.5,3081.9 517.5,3081.9 520.6,3081.8 523.6,3081.8 526.6,3081.7 529.6,3081.7 532.6,3081.6 535.6,3081.6 538.6,3081.6 541.6,3081.6 544.6,3081.6 547.6,3081.6 550.7,3081.6 553.7,3081.6 556.7,3081.7 559.7,3081.8 562.7,3081.8 565.6,3081.9 568.6,3082.0 571.6,3082.2 574.6,3082.3 577.6,3082.5 580.6,3082.7 583.6,3082.9 586.5,3083.1 589.5,3083.4 592.5,3083.6 595.5,3083.9 598.4,3084.2 601.4,3084.6 604.3,3085.0 607.3,3085.4 610.2,3085.8 613.2,3086.3 616.1,3086.8 619.1,3087.3 622.0,3087.9 624.9,3088.5 627.8,3089.2 630.7,3089.9 633.6,3090.6 636.5,3091.4 639.3,3092.3 642.2,3093.1 645.1,3094.0 647.9,3095.0 650.8,3096.0 653.6,3096.9 656.5,3098.0 659.3,3099.0 662.1,3100.0 664.9,3101.1 667.8,3102.1 670.6,3103.2 673.4,3104.2 676.3,3105.3 679.1,3106.3 681.9,3107.3 684.7,3108.3 687.6,3109.3 690.4,3110.3 693.3,3111.2 696.1,3112.1 699.0,3113.0 701.8,3113.9 704.7,3114.8 707.5,3115.6 710.4,3116.4 713.3,3117.1 716.1,3117.8 719.0,3118.5 721.9,3119.1 724.8,3119.7 727.7,3120.3 730.6,3120.8 733.5,3121.2 736.5,3121.6 739.4,3121.9 742.4,3122.2 745.3,3122.5 748.3,3122.6 751.3,3122.7 754.3,3122.8 757.3,3122.8 760.3,3122.7 763.3,3122.7 766.3,3122.6 769.3,3122.4 772.3,3122.2 775.4,3122.1 778.4,3121.9 781.4,3121.6 784.5,3121.4 787.5,3121.2 790.5,3121.0 793.5,3120.8 796.6,3120.6 799.6,3120.5 802.6,3120.4 805.6,3120.3 808.6,3120.2 811.6,3120.2 814.6,3120.2 817.6,3120.3 820.6,3120.4 823.5,3120.6 826.5,3120.9 829.4,3121.2 832.4,3121.6 835.3,3122.0 838.2,3122.5 841.1,3123.1 844.0,3123.7 846.9,3124.4 849.7,3125.1 852.6,3125.8 855.5,3126.6 858.3,3127.5 861.1,3128.4 864.0,3129.3 866.8,3130.3 869.6,3131.3 872.4,3132.4 875.2,3133.5 878.0,3134.6 880.8,3135.8 883.6,3137.0 886.3,3138.3 889.1,3139.6 891.9,3140.9 894.6,3142.2 897.3,3143.6 900.1,3145.0 902.8,3146.4 905.5,3147.8 908.3,3149.3 911.0,3150.8 913.7,3152.2 916.4,3153.7 919.1,3155.2 921.8,3156.7 924.5,3158.2 927.2,3159.7 929.9,3161.2 932.6,3162.7 935.3,3164.2 938.0,3165.6 940.7,3167.1 943.4,3168.5 946.1,3169.9 948.8,3171.2 951.5,3172.5 954.2,3173.8 956.9,3175.0 959.6,3176.2 962.4,3177.4 965.1,3178.5 967.8,3179.5 970.6,3180.5 973.3,3181.4 976.1,3182.3 978.9,3183.1 981.6,3183.8 984.4,3184.5 987.2,3185.1 990.0,3185.5 992.8,3186.0 995.7,3186.3 998.5,3186.5 1001.3,3186.7 1004.2,3186.7 1007.1,3186.7 1010.0,3186.6 1012.9,3186.4 1015.8,3186.1 1018.7,3185.7 1021.6,3185.3 1024.6,3184.9 1027.5,3184.3 1030.5,3183.8 1033.4,3183.2 1036.4,3182.6 1039.4,3182.0 1042.4,3181.3 1045.3,3180.7 1048.3,3180.0 1051.3,3179.3 1054.3,3178.7 1057.3,3178.0 1060.4,3177.4 1063.4,3176.8 1066.4,3176.3 1069.4,3175.8 1072.4,3175.3 1075.4,3174.9 1078.5,3174.5 1081.5,3174.2 1084.5,3173.9 1087.5,3173.6 1090.6,3173.4 1093.6,3173.2 1096.6,3173.0 1099.6,3172.9 1102.6,3172.8 1105.7,3172.7 1108.7,3172.6 1111.7,3172.5 1114.7,3172.4 1117.7,3172.3 1120.7,3172.3 1123.7,3172.2 1126.7,3172.1 1129.7,3172.0 1132.7,3171.9 1135.7,3171.7 1138.6,3171.6 1141.6,3171.4 1144.6,3171.2 1147.6,3170.9 1150.5,3170.7 1153.5,3170.4 1156.4,3170.0 1159.4,3169.7 1162.3,3169.3 1165.2,3168.8 1168.1,3168.3 1171.1,3167.8 1174.0,3167.3 1176.8,3166.7 1179.7,3166.0 1182.6,3165.4 1185.5,3164.6 1188.3,3163.9 1191.2,3163.1 1194.0,3162.2 1196.8,3161.3 1199.7,3160.4 1202.5,3159.4 1205.2,3158.4 1208.0,3157.3 1210.8,3156.2 1213.5,3155.0 1216.3,3153.8 1219.0,3152.5 1221.7,3151.1 1224.4,3149.7 1227.1,3148.3 1229.8,3146.8 1232.4,3145.3 1235.1,3143.7 1237.7,3142.1 1240.3,3140.5 1243.0,3138.8 1245.6,3137.2 1248.2,3135.5 1250.8,3133.9 1253.5,3132.2 1256.1,3130.5 1258.7,3128.9 1261.4,3127.3 1264.0,3125.7 1266.6,3124.2 1269.3,3122.7 1272.0,3121.2 1274.7,3119.8 1277.4,3118.4 1280.1,3117.0 1282.8,3115.7 1285.5,3114.4 1288.2,3113.1 1290.9,3111.9 1293.7,3110.7 1296.4,3109.5 1299.2,3108.4 1302.0,3107.3 1304.7,3106.2 1307.5,3105.2 1310.3,3104.2 1313.1,3103.2 1315.9,3102.2 1318.7,3101.3 1321.5,3100.4 1324.4,3099.6 1327.2,3098.7 1330.1,3097.9 1332.9,3097.1 1335.8,3096.4 1338.6,3095.6 1341.5,3094.9 1344.4,3094.3 1347.2,3093.6 1350.1,3093.0 1353.0,3092.4 1355.9,3091.8 1358.8,3091.2 1361.7,3090.7 1364.6,3090.2 1367.6,3089.7 1370.5,3089.2 1373.4,3088.7 1376.4,3088.3 1379.3,3087.9 1382.2,3087.5 1385.2,3087.1 1388.1,3086.8 1391.1,3086.4 1394.1,3086.1 1397.0,3085.8 1400.0,3085.5 1403.0,3085.2 1406.0,3085.0 1408.9,3084.7 1411.9,3084.5 1414.9,3084.3 1417.9,3084.1 1420.9,3083.9 1423.9,3083.7 1426.9,3083.6 1429.9,3083.4 1432.9,3083.3 1435.9,3083.2 1438.9,3083.1 1441.9,3083.0 1444.9,3082.9 1448.0,3082.8 1451.0,3082.7 1454.0,3082.7 1457.0,3082.6 1460.0,3082.6 1463.1,3082.5 1466.1,3082.5 1469.1,3082.5 1472.1,3082.5 1475.2,3082.5 1478.2,3082.5 1481.2,3082.5 1484.3,3082.5 1487.3,3082.5 1490.3,3082.5 1493.4,3082.5 1496.4,3082.5 1499.4,3082.5 1502.5,3082.6 1505.5,3082.6 1508.5,3082.6 1511.5,3082.6 1514.6,3082.7 1517.6,3082.7 1520.6,3082.7 1523.6,3082.7 1526.7,3082.8 1529.7,3082.8 1532.7,3082.8 1535.7,3082.8 1538.8,3082.9 1541.8,3082.9 1544.8,3082.9 1547.8,3082.9 1550.8,3082.9 1553.9,3083.0 1556.9,3083.0 1559.9,3083.0 1562.9,3083.0 1565.9,3083.0 1568.9,3083.0 1571.9,3083.1 1575.0,3083.1 1578.0,3083.1 1581.0,3083.1 1584.0,3083.1 1587.0,3083.1 1590.0,3083.2 1593.0,3083.2 1596.0,3083.2 1599.0,3083.2 1602.0,3083.2 1605.0,3083.2 1608.0,3083.2 1611.0,3083.2 1614.0,3083.2 1617.0,3083.2 1620.1,3083.3 1623.1,3083.3 1626.1,3083.3 1629.1,3083.3 1632.1,3083.3 1635.1,3083.3 1638.1,3083.3 1641.1,3083.3 1644.1,3083.3 1647.1,3083.3 1650.1,3083.3 1653.1,3083.3 1656.1,3083.3 1659.1,3083.3 1662.1,3083.3 1665.1,3083.3 1668.1,3083.3 1671.1,3083.3 1674.0,3083.3 1677.0,3083.3 1680.0,3083.3 1683.0,3083.3 1686.0,3083.3 1689.0,3083.3 1692.0,3083.3 1695.0,3083.3 1698.0,3083.3 1701.0,3083.3 1704.0,3083.3 1707.0,3083.3 1710.0,3083.3 1713.0,3083.3 1716.0,3083.3 1719.0,3083.3 1722.0,3083.3 1725.0,3083.3 1728.0,3083.3 1731.0,3083.3 1734.0,3083.3 1737.0,3083.3 1740.0,3083.3 1743.0,3083.3 1746.0,3083.3 1749.0,3083.3 1752.0,3083.3 1755.0,3083.3 1758.0,3083.3 1761.0,3083.3 1764.0,3083.2 1767.0,3083.2 1770.0,3083.2 1773.0,3083.2 1776.0,3083.2 1779.0,3083.2 1782.0,3083.2 1785.0,3083.2 1788.0,3083.2 1791.0,3083.2 1794.0,3083.2 1797.0,3083.2 1800.0,3083.2 1803.0,3083.2 1806.0,3083.1 1809.0,3083.1 1812.1,3083.1 1815.1,3083.1 1818.1,3083.1 1821.1,3083.1 1824.1,3083.1 1827.1,3083.1 1830.1,3083.1 1833.1,3083.1 1836.1,3083.1 1839.1,3083.1 1842.1,3083.0 1845.1,3083.0 1848.1,3083.0 1851.1,3083.0 1854.1,3083.0 1857.1,3083.0 1860.2,3083.0 1863.2,3083.0 1866.2,3083.0 1869.2,3083.0 1872.2,3082.9 1875.2,3082.9 1878.2,3082.9 1881.2,3082.9 1884.2,3082.9 1887.2,3082.9 1890.2,3082.9 1893.2,3082.9 1896.3,3082.9 1899.3,3082.8 1902.3,3082.8 1905.3,3082.8 1908.3,3082.8 1911.3,3082.8 1914.3,3082.8 1917.3,3082.8 1920.3,3082.8 1923.3,3082.8 1926.3,3082.7 1929.4,3082.7 1932.4,3082.7 1935.4,3082.7 1938.4,3082.7 1941.4,3082.7 1944.4,3082.7 1947.4,3082.7 1950.4,3082.6 1953.4,3082.6 1956.4,3082.6 1959.5,3082.6 1962.5,3082.6 1965.5,3082.6 1968.5,3082.6 1971.5,3082.6 1974.5,3082.5 1977.5,3082.5 1980.5,3082.5 1983.5,3082.5 1986.5,3082.5 1989.6,3082.5 1992.6,3082.5 1995.6,3082.5 1998.6,3082.4 2001.6,3082.4 2004.6,3082.4 2007.6,3082.4 2010.6,3082.4 2013.6,3082.4 2016.6,3082.4 2019.6,3082.3 2022.7,3082.3 2025.7,3082.3 2028.7,3082.3 2031.7,3082.3 2034.7,3082.3 2037.7,3082.3 2040.7,3082.3 2043.7,3082.2 2046.7,3082.2 2049.7,3082.2 2052.7,3082.2 2055.7,3082.2 2058.8,3082.2 2061.8,3082.2 2064.8,3082.2 2067.8,3082.1 2070.8,3082.1 2073.8,3082.1 2076.8,3082.1 2079.8,3082.1 2082.8,3082.1 2085.8,3082.1 2088.8,3082.0 2091.8,3082.0 2094.8,3082.0 2097.8,3082.0 2100.8,3082.0 2103.9,3082.0 2106.9,3082.0 2109.9,3082.0 2112.9,3081.9 2115.9,3081.9 2118.9,3081.9 2121.9,3081.9 2124.9,3081.9 2127.9,3081.9 2130.9,3081.9 2133.9,3081.9 2136.9,3081.8 2139.9,3081.8 2142.9,3081.8 2145.9,3081.8 2148.9,3081.8 2151.9,3081.8 2154.9,3081.8 2157.9,3081.8 2160.9,3081.8 2163.9,3081.7 2166.9,3081.7 2169.9,3081.7 2172.9,3081.7 2175.9,3081.7 2178.9,3081.7 2181.9,3081.7 2184.9,3081.7 2187.9,3081.7 2190.9,3081.6 2193.9,3081.6 2196.9,3081.6 2199.9,3081.6 2202.9,3081.6 2205.9,3081.6 2208.9,3081.6 2211.9,3081.6 2214.9,3081.6 2217.9,3081.6 2220.9,3081.5 2223.9,3081.5" fill="none" stroke="#F14040" stroke-width="12" stroke-linejoin="round" stroke-linecap="butt"/>
<path d="M238.0,3391.3L241.0,3391.0 243.9,3390.7 246.9,3390.4 249.8,3390.1 252.8,3389.8 255.8,3389.5 258.7,3389.3 261.7,3389.0 264.7,3388.8 267.7,3388.5 270.6,3388.3 273.6,3388.1 276.6,3387.8 279.6,3387.6 282.5,3387.4 285.5,3387.3 288.5,3387.1 291.5,3386.9 294.5,3386.7 297.5,3386.6 300.5,3386.4 303.4,3386.3 306.4,3386.1 309.4,3386.0 312.4,3385.9 315.4,3385.8 318.4,3385.6 321.4,3385.5 324.4,3385.4 327.4,3385.3 330.4,3385.2 333.4,3385.2 336.4,3385.1 339.4,3385.0 342.4,3384.9 345.4,3384.9 348.4,3384.8 351.4,3384.8 354.5,3384.7 357.5,3384.7 360.5,3384.6 363.5,3384.6 366.5,3384.6 369.5,3384.6 372.5,3384.5 375.5,3384.5 378.5,3384.5 381.6,3384.5 384.6,3384.5 387.6,3384.5 390.6,3384.5 393.6,3384.5 396.6,3384.5 399.6,3384.5 402.7,3384.5 405.7,3384.6 408.7,3384.6 411.7,3384.6 414.7,3384.6 417.7,3384.7 420.8,3384.7 423.8,3384.7 426.8,3384.8 429.8,3384.8 432.8,3384.8 435.8,3384.9 438.9,3384.9 441.9,3385.0 444.9,3385.0 447.9,3385.1 450.9,3385.1 453.9,3385.2 456.9,3385.2 460.0,3385.3 463.0,3385.3 466.0,3385.4 469.0,3385.4 472.0,3385.5 475.0,3385.5 478.0,3385.6 481.0,3385.6 484.0,3385.7 487.1,3385.7 490.1,3385.8 493.1,3385.8 496.1,3385.9 499.1,3386.0 502.1,3386.0 505.1,3386.1 508.1,3386.1 511.1,3386.2 514.1,3386.2 517.1,3386.2 520.1,3386.3 523.1,3386.3 526.1,3386.4 529.1,3386.4 532.1,3386.5 535.1,3386.5 538.1,3386.6 541.1,3386.6 544.1,3386.6 547.1,3386.7 550.0,3386.7 553.0,3386.8 556.0,3386.8 559.0,3386.8 562.0,3386.9 565.0,3386.9 568.0,3386.9 571.0,3387.0 574.0,3387.0 577.0,3387.1 580.0,3387.1 583.0,3387.1 585.9,3387.2 588.9,3387.2 591.9,3387.2 594.9,3387.3 597.9,3387.3 600.9,3387.3 603.9,3387.4 606.9,3387.4 609.9,3387.4 612.9,3387.5 615.9,3387.5 618.8,3387.5 621.8,3387.6 624.8,3387.6 627.8,3387.6 630.8,3387.7 633.8,3387.7 636.8,3387.8 639.8,3387.8 642.8,3387.8 645.8,3387.9 648.8,3387.9 651.8,3387.9 654.8,3388.0 657.8,3388.0 660.8,3388.0 663.8,3388.1 666.8,3388.1 669.8,3388.1 672.8,3388.2 675.8,3388.2 678.8,3388.2 681.8,3388.3 684.8,3388.3 687.8,3388.4 690.8,3388.4 693.8,3388.4 696.8,3388.5 699.8,3388.5 702.8,3388.6 705.8,3388.6 708.8,3388.6 711.9,3388.7 714.9,3388.7 717.9,3388.8 720.9,3388.8 723.9,3388.9 726.9,3388.9 730.0,3389.0 733.0,3389.0 736.0,3389.1 739.0,3389.1 742.1,3389.1 745.1,3389.2 748.1,3389.3 751.2,3389.3 754.2,3389.4 757.2,3389.4 760.3,3389.5 763.3,3389.5 766.3,3389.6 769.4,3389.6 772.4,3389.7 775.5,3389.8 778.5,3389.9 781.5,3389.9 784.6,3390.0 787.6,3390.1 790.7,3390.2 793.7,3390.3 796.7,3390.4 799.8,3390.5 802.8,3390.7 805.8,3390.8 808.9,3391.0 811.9,3391.1 814.9,3391.3 818.0,3391.5 821.0,3391.7 824.0,3391.9 827.0,3392.1 830.0,3392.4 833.0,3392.6 836.0,3392.9 839.0,3393.2 842.0,3393.5 845.0,3393.8 848.0,3394.1 851.0,3394.5 854.0,3394.9 857.0,3395.3 859.9,3395.7 862.9,3396.1 865.8,3396.6 868.8,3397.1 871.7,3397.6 874.7,3398.1 877.6,3398.6 880.5,3399.2 883.4,3399.8 886.3,3400.4 889.2,3401.1 892.1,3401.7 895.0,3402.4 897.9,3403.2 900.8,3403.9 903.6,3404.7 906.5,3405.5 909.3,3406.3 912.1,3407.2 915.0,3408.1 917.8,3409.0 920.6,3409.9 923.4,3410.9 926.2,3411.9 928.9,3412.9 931.7,3413.9 934.5,3415.0 937.2,3416.1 940.0,3417.2 942.7,3418.4 945.4,3419.5 948.1,3420.7 950.8,3421.9 953.5,3423.2 956.2,3424.5 958.8,3425.8 961.5,3427.1 964.1,3428.4 966.7,3429.8 969.3,3431.2 971.9,3432.7 974.5,3434.1 977.1,3435.6 979.7,3437.1 982.2,3438.6 984.8,3440.2 987.3,3441.8 989.8,3443.4 992.3,3445.0 994.8,3446.7 997.3,3448.3 999.8,3450.0 1002.2,3451.8 1004.6,3453.5 1007.1,3455.3 1009.5,3457.1 1011.9,3459.0 1014.3,3460.8 1016.6,3462.7 1019.0,3464.6 1021.3,3466.5 1023.6,3468.5 1025.9,3470.5 1028.2,3472.5 1030.5,3474.5 1032.8,3476.6 1035.0,3478.6 1037.2,3480.7 1039.5,3482.9 1041.7,3485.0 1043.9,3487.1 1046.1,3489.3 1048.3,3491.4 1050.4,3493.6 1052.6,3495.8 1054.8,3497.9 1057.0,3500.1 1059.2,3502.2 1061.4,3504.3 1063.6,3506.4 1065.8,3508.5 1068.0,3510.6 1070.2,3512.6 1072.5,3514.6 1074.7,3516.6 1077.0,3518.5 1079.3,3520.4 1081.6,3522.3 1084.0,3524.1 1086.3,3525.9 1088.7,3527.6 1091.1,3529.2 1093.6,3530.8 1096.0,3532.3 1098.5,3533.8 1101.1,3535.2 1103.7,3536.5 1106.3,3537.8 1108.9,3539.0 1111.6,3540.0 1114.4,3541.1 1117.1,3542.0 1120.0,3542.8 1122.8,3543.5 1125.8,3544.2 1128.7,3544.7 1131.8,3545.1 1134.8,3545.5 1138.0,3545.7 1141.1,3545.8 1144.3,3545.8 1147.4,3545.7 1150.6,3545.4 1153.8,3545.1 1156.9,3544.6 1160.0,3544.1 1163.1,3543.4 1166.1,3542.5 1169.0,3541.6 1171.8,3540.5 1174.6,3539.3 1177.3,3538.0 1179.9,3536.6 1182.4,3535.1 1184.9,3533.5 1187.3,3531.7 1189.6,3529.9 1191.8,3528.1 1194.1,3526.1 1196.2,3524.1 1198.4,3522.0 1200.5,3519.9 1202.5,3517.7 1204.5,3515.5 1206.5,3513.3 1208.5,3511.1 1210.5,3508.8 1212.5,3506.5 1214.4,3504.3 1216.4,3502.0 1218.3,3499.7 1220.3,3497.4 1222.2,3495.2 1224.1,3492.9 1226.1,3490.6 1228.0,3488.3 1229.9,3486.0 1231.9,3483.8 1233.8,3481.5 1235.8,3479.2 1237.7,3477.0 1239.7,3474.7 1241.6,3472.4 1243.6,3470.2 1245.5,3467.9 1247.5,3465.7 1249.5,3463.4 1251.5,3461.2 1253.5,3458.9 1255.5,3456.7 1257.6,3454.5 1259.6,3452.3 1261.7,3450.1 1263.8,3447.9 1265.9,3445.7 1268.0,3443.6 1270.1,3441.4 1272.3,3439.3 1274.4,3437.1 1276.6,3435.0 1278.8,3432.9 1281.1,3430.8 1283.3,3428.8 1285.6,3426.8 1287.9,3424.8 1290.2,3422.8 1292.6,3420.9 1295.0,3419.0 1297.4,3417.2 1299.8,3415.4 1302.2,3413.6 1304.7,3411.9 1307.2,3410.3 1309.8,3408.7 1312.3,3407.1 1314.9,3405.7 1317.6,3404.3 1320.2,3402.9 1322.9,3401.7 1325.6,3400.5 1328.3,3399.3 1331.1,3398.2 1333.9,3397.1 1336.7,3396.2 1339.5,3395.2 1342.3,3394.4 1345.2,3393.5 1348.1,3392.8 1351.0,3392.0 1353.9,3391.4 1356.8,3390.8 1359.7,3390.2 1362.6,3389.7 1365.6,3389.2 1368.5,3388.8 1371.5,3388.4 1374.5,3388.1 1377.5,3387.8 1380.4,3387.6 1383.4,3387.4 1386.4,3387.2 1389.4,3387.1 1392.4,3387.0 1395.4,3386.9 1398.4,3386.9 1401.4,3386.9 1404.4,3386.9 1407.5,3386.9 1410.5,3386.9 1413.5,3386.9 1416.5,3387.0 1419.5,3387.0 1422.5,3387.0 1425.5,3387.1 1428.6,3387.1 1431.6,3387.1 1434.6,3387.2 1437.6,3387.2 1440.6,3387.2 1443.6,3387.3 1446.6,3387.3 1449.6,3387.3 1452.6,3387.4 1455.7,3387.4 1458.7,3387.4 1461.7,3387.4 1464.7,3387.5 1467.7,3387.5 1470.7,3387.5 1473.7,3387.5 1476.7,3387.6 1479.7,3387.6 1482.7,3387.6 1485.8,3387.6 1488.8,3387.6 1491.8,3387.6 1494.8,3387.7 1497.8,3387.7 1500.8,3387.7 1503.8,3387.7 1506.8,3387.7 1509.8,3387.7 1512.8,3387.7 1515.8,3387.7 1518.8,3387.7 1521.8,3387.7 1524.9,3387.8 1527.9,3387.8 1530.9,3387.8 1533.9,3387.8 1536.9,3387.8 1539.9,3387.8 1542.9,3387.8 1545.9,3387.8 1548.9,3387.8 1551.9,3387.8 1554.9,3387.8 1557.9,3387.8 1560.9,3387.8 1563.9,3387.8 1566.9,3387.8 1569.9,3387.8 1572.9,3387.8 1575.9,3387.8 1578.9,3387.8 1582.0,3387.8 1585.0,3387.8 1588.0,3387.8 1591.0,3387.8 1594.0,3387.8 1597.0,3387.8 1600.0,3387.8 1603.0,3387.8 1606.0,3387.7 1609.0,3387.7 1612.0,3387.7 1615.0,3387.7 1618.0,3387.7 1621.0,3387.7 1624.0,3387.7 1627.0,3387.7 1630.0,3387.7 1633.0,3387.7 1636.0,3387.7 1639.0,3387.7 1642.0,3387.7 1645.0,3387.7 1648.0,3387.7 1651.0,3387.7 1654.0,3387.7 1657.0,3387.6 1660.0,3387.6 1663.0,3387.6 1666.1,3387.6 1669.1,3387.6 1672.1,3387.6 1675.1,3387.6 1678.1,3387.6 1681.1,3387.6 1684.1,3387.6 1687.1,3387.6 1690.1,3387.6 1693.1,3387.6 1696.1,3387.6 1699.1,3387.6 1702.1,3387.6 1705.1,3387.6 1708.1,3387.6 1711.1,3387.6 1714.1,3387.6 1717.1,3387.5 1720.1,3387.5 1723.1,3387.5 1726.1,3387.5 1729.1,3387.5 1732.1,3387.5 1735.1,3387.5 1738.2,3387.5 1741.2,3387.5 1744.2,3387.5 1747.2,3387.5 1750.2,3387.5 1753.2,3387.5 1756.2,3387.5 1759.2,3387.5 1762.2,3387.5 1765.2,3387.5 1768.2,3387.5 1771.2,3387.5 1774.2,3387.5 1777.2,3387.5 1780.2,3387.5 1783.2,3387.5 1786.2,3387.5 1789.2,3387.5 1792.2,3387.5 1795.2,3387.5 1798.3,3387.5 1801.3,3387.5 1804.3,3387.5 1807.3,3387.5 1810.3,3387.5 1813.3,3387.5 1816.3,3387.5 1819.3,3387.5 1822.3,3387.5 1825.3,3387.5 1828.3,3387.5 1831.3,3387.5 1834.3,3387.5 1837.3,3387.5 1840.3,3387.5 1843.3,3387.5 1846.3,3387.5 1849.3,3387.5 1852.3,3387.5 1855.4,3387.5 1858.4,3387.5 1861.4,3387.5 1864.4,3387.5 1867.4,3387.5 1870.4,3387.5 1873.4,3387.5 1876.4,3387.5 1879.4,3387.5 1882.4,3387.5 1885.4,3387.5 1888.4,3387.6 1891.4,3387.6 1894.4,3387.6 1897.4,3387.6 1900.4,3387.6 1903.4,3387.6 1906.4,3387.6 1909.5,3387.6 1912.5,3387.6 1915.5,3387.6 1918.5,3387.6 1921.5,3387.6 1924.5,3387.6 1927.5,3387.6 1930.5,3387.6 1933.5,3387.6 1936.5,3387.6 1939.5,3387.6 1942.5,3387.6 1945.5,3387.6 1948.5,3387.6 1951.5,3387.6 1954.5,3387.6 1957.5,3387.6 1960.6,3387.6 1963.6,3387.6 1966.6,3387.6 1969.6,3387.6 1972.6,3387.6 1975.6,3387.6 1978.6,3387.6 1981.6,3387.6 1984.6,3387.6 1987.6,3387.6 1990.6,3387.6 1993.6,3387.6 1996.6,3387.6 1999.6,3387.6 2002.6,3387.6 2005.6,3387.6 2008.6,3387.6 2011.7,3387.6 2014.7,3387.6 2017.7,3387.6 2020.7,3387.6 2023.7,3387.6 2026.7,3387.6 2029.7,3387.7 2032.7,3387.7 2035.7,3387.7 2038.7,3387.7 2041.7,3387.7 2044.7,3387.7 2047.7,3387.7 2050.7,3387.7 2053.7,3387.7 2056.7,3387.7 2059.7,3387.7 2062.7,3387.7 2065.7,3387.7 2068.8,3387.7 2071.8,3387.7 2074.8,3387.7 2077.8,3387.7 2080.8,3387.7 2083.8,3387.7 2086.8,3387.7 2089.8,3387.7 2092.8,3387.7 2095.8,3387.7 2098.8,3387.7 2101.8,3387.7 2104.8,3387.7 2107.8,3387.7 2110.8,3387.7 2113.8,3387.7 2116.8,3387.7 2119.8,3387.7 2122.8,3387.7 2125.8,3387.6 2128.9,3387.6 2131.9,3387.6 2134.9,3387.6 2137.9,3387.6 2140.9,3387.6 2143.9,3387.6 2146.9,3387.6 2149.9,3387.6 2152.9,3387.6 2155.9,3387.6 2158.9,3387.6 2161.9,3387.6 2164.9,3387.6 2167.9,3387.6 2170.9,3387.6 2173.9,3387.6 2176.9,3387.6 2179.9,3387.6 2182.9,3387.6 2185.9,3387.6 2188.9,3387.6 2191.9,3387.6 2194.9,3387.6 2197.9,3387.6 2201.0,3387.6 2204.0,3387.6 2207.0,3387.5 2210.0,3387.5 2213.0,3387.5 2216.0,3387.5 2219.0,3387.5 2222.0,3387.5" fill="none" stroke="#515151" stroke-width="12" stroke-linejoin="round" stroke-linecap="butt"/>
<rect x="1082" y="2282.8" width="203" height="11.5" fill="#7689E9"/>
<rect x="1083" y="2575.8" width="204" height="11.5" fill="#37AD6B"/>
<rect x="1079" y="2895.1" width="204" height="11.5" fill="#1A6FDF"/>
<rect x="1069" y="3218.9" width="204" height="11.5" fill="#F14040"/>
<rect x="1072" y="3457.2" width="204" height="11.5" fill="#515151"/>
<rect x="409.0" y="3574" width="9" height="25" fill="#000"/>
<rect x="668.4" y="3574" width="9" height="25" fill="#000"/>
<rect x="927.9" y="3574" width="9" height="25" fill="#000"/>
<rect x="1187.3" y="3574" width="9" height="25" fill="#000"/>
<rect x="1446.8" y="3574" width="9" height="25" fill="#000"/>
<rect x="1706.2" y="3574" width="9" height="25" fill="#000"/>
<rect x="1965.6" y="3574" width="9" height="25" fill="#000"/>
<rect x="719.0" y="2069.9" width="12" height="17.5" fill="#000"/>
<rect x="718.7" y="2129.5" width="12" height="17.5" fill="#000"/>
<rect x="718.4" y="2189.1" width="12" height="17.5" fill="#000"/>
<rect x="718.1" y="2248.7" width="12" height="17.5" fill="#000"/>
<rect x="717.8" y="2308.3" width="12" height="17.5" fill="#000"/>
<rect x="717.4" y="2367.9" width="12" height="17.5" fill="#000"/>
<rect x="717.1" y="2427.5" width="12" height="17.5" fill="#000"/>
<rect x="716.8" y="2487.1" width="12" height="17.5" fill="#000"/>
<rect x="716.5" y="2546.7" width="12" height="17.5" fill="#000"/>
<rect x="716.2" y="2606.3" width="12" height="17.5" fill="#000"/>
<rect x="715.9" y="2665.9" width="12" height="17.5" fill="#000"/>
<rect x="715.6" y="2725.5" width="12" height="17.5" fill="#000"/>
<rect x="715.3" y="2785.1" width="12" height="17.5" fill="#000"/>
<rect x="714.9" y="2844.7" width="12" height="17.5" fill="#000"/>
<rect x="714.6" y="2904.3" width="12" height="17.5" fill="#000"/>
<rect x="714.3" y="2963.9" width="12" height="17.5" fill="#000"/>
<rect x="714.0" y="3023.5" width="12" height="17.5" fill="#000"/>
<rect x="713.7" y="3083.1" width="12" height="17.5" fill="#000"/>
<rect x="713.4" y="3142.7" width="12" height="17.5" fill="#000"/>
<rect x="713.1" y="3202.3" width="12" height="17.5" fill="#000"/>
<rect x="712.8" y="3261.9" width="12" height="17.5" fill="#000"/>
<rect x="712.5" y="3321.5" width="12" height="17.5" fill="#000"/>
<rect x="712.1" y="3381.1" width="12" height="17.5" fill="#000"/>
<rect x="711.8" y="3440.7" width="12" height="17.5" fill="#000"/>
<rect x="711.5" y="3500.3" width="12" height="17.5" fill="#000"/>
<rect x="711.2" y="3559.9" width="12" height="17.5" fill="#000"/>
<rect x="801.0" y="2071.5" width="12" height="17.5" fill="#000"/>
<rect x="800.9" y="2131.1" width="12" height="17.5" fill="#000"/>
<rect x="800.8" y="2190.7" width="12" height="17.5" fill="#000"/>
<rect x="800.6" y="2250.3" width="12" height="17.5" fill="#000"/>
<rect x="800.5" y="2309.9" width="12" height="17.5" fill="#000"/>
<rect x="800.4" y="2369.5" width="12" height="17.5" fill="#000"/>
<rect x="800.3" y="2429.1" width="12" height="17.5" fill="#000"/>
<rect x="800.2" y="2488.7" width="12" height="17.5" fill="#000"/>
<rect x="800.1" y="2548.3" width="12" height="17.5" fill="#000"/>
<rect x="799.9" y="2607.9" width="12" height="17.5" fill="#000"/>
<rect x="799.8" y="2667.5" width="12" height="17.5" fill="#000"/>
<rect x="799.7" y="2727.1" width="12" height="17.5" fill="#000"/>
<rect x="799.6" y="2786.7" width="12" height="17.5" fill="#000"/>
<rect x="799.5" y="2846.3" width="12" height="17.5" fill="#000"/>
<rect x="799.4" y="2905.9" width="12" height="17.5" fill="#000"/>
<rect x="799.2" y="2965.5" width="12" height="17.5" fill="#000"/>
<rect x="799.1" y="3025.1" width="12" height="17.5" fill="#000"/>
<rect x="799.0" y="3084.7" width="12" height="17.5" fill="#000"/>
<rect x="798.9" y="3144.3" width="12" height="17.5" fill="#000"/>
<rect x="798.8" y="3203.9" width="12" height="17.5" fill="#000"/>
<rect x="798.7" y="3263.5" width="12" height="17.5" fill="#000"/>
<rect x="798.5" y="3323.1" width="12" height="17.5" fill="#000"/>
<rect x="798.4" y="3382.7" width="12" height="17.5" fill="#000"/>
<rect x="798.3" y="3442.3" width="12" height="17.5" fill="#000"/>
<rect x="798.2" y="3501.9" width="12" height="17.5" fill="#000"/>
<rect x="798.1" y="3561.5" width="12" height="17.5" fill="#000"/>
<rect x="958.0" y="2076.0" width="12" height="17.5" fill="#000"/>
<rect x="958.1" y="2135.6" width="12" height="17.5" fill="#000"/>
<rect x="958.1" y="2195.2" width="12" height="17.5" fill="#000"/>
<rect x="958.2" y="2254.8" width="12" height="17.5" fill="#000"/>
<rect x="958.2" y="2314.4" width="12" height="17.5" fill="#000"/>
<rect x="958.3" y="2374.0" width="12" height="17.5" fill="#000"/>
<rect x="958.3" y="2433.6" width="12" height="17.5" fill="#000"/>
<rect x="958.4" y="2493.2" width="12" height="17.5" fill="#000"/>
<rect x="958.4" y="2552.8" width="12" height="17.5" fill="#000"/>
<rect x="958.5" y="2612.4" width="12" height="17.5" fill="#000"/>
<rect x="958.5" y="2672.0" width="12" height="17.5" fill="#000"/>
<rect x="958.6" y="2731.6" width="12" height="17.5" fill="#000"/>
<rect x="958.6" y="2791.2" width="12" height="17.5" fill="#000"/>
<rect x="958.7" y="2850.8" width="12" height="17.5" fill="#000"/>
<rect x="958.7" y="2910.4" width="12" height="17.5" fill="#000"/>
<rect x="958.8" y="2970.0" width="12" height="17.5" fill="#000"/>
<rect x="958.8" y="3029.6" width="12" height="17.5" fill="#000"/>
<rect x="958.9" y="3089.2" width="12" height="17.5" fill="#000"/>
<rect x="958.9" y="3148.8" width="12" height="17.5" fill="#000"/>
<rect x="959.0" y="3208.4" width="12" height="17.5" fill="#000"/>
<rect x="959.0" y="3268.0" width="12" height="17.5" fill="#000"/>
<rect x="959.1" y="3327.6" width="12" height="17.5" fill="#000"/>
<rect x="959.1" y="3387.2" width="12" height="17.5" fill="#000"/>
<rect x="959.2" y="3446.8" width="12" height="17.5" fill="#000"/>
<rect x="959.2" y="3506.4" width="12" height="17.5" fill="#000"/>
<rect x="959.3" y="3566.0" width="12" height="17.5" fill="#000"/>
<rect x="1147.0" y="2076.0" width="12" height="17.5" fill="#000"/>
<rect x="1146.9" y="2135.6" width="12" height="17.5" fill="#000"/>
<rect x="1146.8" y="2195.2" width="12" height="17.5" fill="#000"/>
<rect x="1146.6" y="2254.8" width="12" height="17.5" fill="#000"/>
<rect x="1146.5" y="2314.4" width="12" height="17.5" fill="#000"/>
<rect x="1146.4" y="2374.0" width="12" height="17.5" fill="#000"/>
<rect x="1146.3" y="2433.6" width="12" height="17.5" fill="#000"/>
<rect x="1146.2" y="2493.2" width="12" height="17.5" fill="#000"/>
<rect x="1146.1" y="2552.8" width="12" height="17.5" fill="#000"/>
<rect x="1145.9" y="2612.4" width="12" height="17.5" fill="#000"/>
<rect x="1145.8" y="2672.0" width="12" height="17.5" fill="#000"/>
<rect x="1145.7" y="2731.6" width="12" height="17.5" fill="#000"/>
<rect x="1145.6" y="2791.2" width="12" height="17.5" fill="#000"/>
<rect x="1145.5" y="2850.8" width="12" height="17.5" fill="#000"/>
<rect x="1145.4" y="2910.4" width="12" height="17.5" fill="#000"/>
<rect x="1145.2" y="2970.0" width="12" height="17.5" fill="#000"/>
<rect x="1145.1" y="3029.6" width="12" height="17.5" fill="#000"/>
<rect x="1145.0" y="3089.2" width="12" height="17.5" fill="#000"/>
<rect x="1144.9" y="3148.8" width="12" height="17.5" fill="#000"/>
<rect x="1144.8" y="3208.4" width="12" height="17.5" fill="#000"/>
<rect x="1144.7" y="3268.0" width="12" height="17.5" fill="#000"/>
<rect x="1144.5" y="3327.6" width="12" height="17.5" fill="#000"/>
<rect x="1144.4" y="3387.2" width="12" height="17.5" fill="#000"/>
<rect x="1144.3" y="3446.8" width="12" height="17.5" fill="#000"/>
<rect x="1144.2" y="3506.4" width="12" height="17.5" fill="#000"/>
<rect x="1144.1" y="3566.0" width="12" height="17.5" fill="#000"/>
<rect x="1276.6" y="2076.0" width="12" height="17.5" fill="#000"/>
<rect x="1276.5" y="2135.6" width="12" height="17.5" fill="#000"/>
<rect x="1276.4" y="2195.2" width="12" height="17.5" fill="#000"/>
<rect x="1276.3" y="2254.8" width="12" height="17.5" fill="#000"/>
<rect x="1276.2" y="2314.4" width="12" height="17.5" fill="#000"/>
<rect x="1276.0" y="2374.0" width="12" height="17.5" fill="#000"/>
<rect x="1275.9" y="2433.6" width="12" height="17.5" fill="#000"/>
<rect x="1275.8" y="2493.2" width="12" height="17.5" fill="#000"/>
<rect x="1275.7" y="2552.8" width="12" height="17.5" fill="#000"/>
<rect x="1275.6" y="2612.4" width="12" height="17.5" fill="#000"/>
<rect x="1275.5" y="2672.0" width="12" height="17.5" fill="#000"/>
<rect x="1275.4" y="2731.6" width="12" height="17.5" fill="#000"/>
<rect x="1275.3" y="2791.2" width="12" height="17.5" fill="#000"/>
<rect x="1275.2" y="2850.8" width="12" height="17.5" fill="#000"/>
<rect x="1275.1" y="2910.4" width="12" height="17.5" fill="#000"/>
<rect x="1275.0" y="2970.0" width="12" height="17.5" fill="#000"/>
<rect x="1274.8" y="3029.6" width="12" height="17.5" fill="#000"/>
<rect x="1274.7" y="3089.2" width="12" height="17.5" fill="#000"/>
<rect x="1274.6" y="3148.8" width="12" height="17.5" fill="#000"/>
<rect x="1274.5" y="3208.4" width="12" height="17.5" fill="#000"/>
<rect x="1274.4" y="3268.0" width="12" height="17.5" fill="#000"/>
<rect x="1274.3" y="3327.6" width="12" height="17.5" fill="#000"/>
<rect x="1274.2" y="3387.2" width="12" height="17.5" fill="#000"/>
<rect x="1274.1" y="3446.8" width="12" height="17.5" fill="#000"/>
<rect x="1274.0" y="3506.4" width="12" height="17.5" fill="#000"/>
<rect x="1273.9" y="3566.0" width="12" height="17.5" fill="#000"/>
<text x="1307.5" y="2318.2" font-size="89.7" font-family="'Liberation Serif','Times New Roman',serif" font-weight="bold">PP−g−GMA−NMDG</text>
<text x="1309.4" y="2612.5" font-size="89.7" font-family="'Liberation Serif','Times New Roman',serif" font-weight="bold">PP−g−GMA(GP:228%)</text>
<text x="1305.1" y="2931.6" font-size="89.7" font-family="'Liberation Serif','Times New Roman',serif" font-weight="bold">PP−g−GMA(GP:192%)</text>
<text x="1294" y="3254.2" font-size="89.7" font-family="'Liberation Serif','Times New Roman',serif" font-weight="bold">PP−g−GMA(GP:92%)</text>
<text x="1298.2" y="3493.5" font-size="89.7" font-family="'Liberation Serif','Times New Roman',serif" font-weight="bold">PP</text>
<text transform="translate(413.5,3695) scale(0.95,1)" x="0" y="0" text-anchor="middle" font-size="80.4" font-family="'Liberation Serif','Times New Roman',serif" font-weight="bold">100</text>
<text transform="translate(672.9,3695) scale(0.95,1)" x="0" y="0" text-anchor="middle" font-size="80.4" font-family="'Liberation Serif','Times New Roman',serif" font-weight="bold">200</text>
<text transform="translate(932.4,3695) scale(0.95,1)" x="0" y="0" text-anchor="middle" font-size="80.4" font-family="'Liberation Serif','Times New Roman',serif" font-weight="bold">300</text>
<text transform="translate(1191.8,3695) scale(0.95,1)" x="0" y="0" text-anchor="middle" font-size="80.4" font-family="'Liberation Serif','Times New Roman',serif" font-weight="bold">400</text>
<text transform="translate(1451.3,3695) scale(0.95,1)" x="0" y="0" text-anchor="middle" font-size="80.4" font-family="'Liberation Serif','Times New Roman',serif" font-weight="bold">500</text>
<text transform="translate(1710.7,3695) scale(0.95,1)" x="0" y="0" text-anchor="middle" font-size="80.4" font-family="'Liberation Serif','Times New Roman',serif" font-weight="bold">600</text>
<text transform="translate(1970.1,3695) scale(0.95,1)" x="0" y="0" text-anchor="middle" font-size="80.4" font-family="'Liberation Serif','Times New Roman',serif" font-weight="bold">700</text>
<text transform="translate(2229.6,3695) scale(0.95,1)" x="0" y="0" text-anchor="middle" font-size="80.4" font-family="'Liberation Serif','Times New Roman',serif" font-weight="bold">800</text>
<text x="1232.5" y="3835" text-anchor="middle" font-size="90.9" font-family="'Liberation Serif','Times New Roman',serif" font-weight="bold">Temperature/°C</text>
<text x="251" y="2159.8" font-size="82.7" font-family="'Liberation Serif','Times New Roman',serif" font-weight="bold">(b)</text>
<text transform="translate(96,3089.5) rotate(-90)" x="0" y="0" font-size="89.7" font-family="'Liberation Serif','Times New Roman',serif" font-weight="bold">DTG/%·min<tspan font-weight="normal" font-size="64" dx="1" dy="-37">−<tspan dx="-3.5">1</tspan></tspan></text>
</g>
</svg>
</body></html>
